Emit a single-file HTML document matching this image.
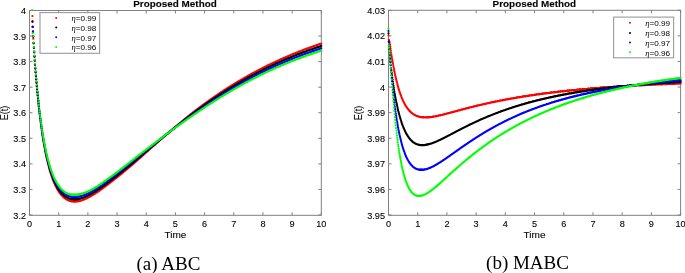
<!DOCTYPE html>
<html><head><meta charset="utf-8"><style>
html,body{margin:0;padding:0;background:#fff;width:685px;height:273px;overflow:hidden}
svg{display:block;will-change:transform}
</style></head><body>
<svg width="685" height="273" viewBox="0 0 685 273"><style>text{stroke:#000;stroke-width:0.15;stroke-opacity:0.6}text.cap,text.leg{stroke:none}</style>
<rect width="685" height="273" fill="#fff"/>
<defs><clipPath id="cl"><rect x="28.0" y="9.0" width="294.8" height="207.5"/></clipPath><clipPath id="cr"><rect x="387.0" y="8.8" width="295.1" height="207.7"/></clipPath></defs>
<rect x="29.5" y="10.5" width="291.80" height="204.80" fill="none" stroke="#808080" stroke-width="1.0"/>
<path d="M29.50 215.30v-3.0M29.50 10.50v3.0M58.68 215.30v-3.0M58.68 10.50v3.0M87.86 215.30v-3.0M87.86 10.50v3.0M117.04 215.30v-3.0M117.04 10.50v3.0M146.22 215.30v-3.0M146.22 10.50v3.0M175.40 215.30v-3.0M175.40 10.50v3.0M204.58 215.30v-3.0M204.58 10.50v3.0M233.76 215.30v-3.0M233.76 10.50v3.0M262.94 215.30v-3.0M262.94 10.50v3.0M292.12 215.30v-3.0M292.12 10.50v3.0M321.30 215.30v-3.0M321.30 10.50v3.0M29.50 215.00h3.0M321.30 215.00h-3.0M29.50 189.44h3.0M321.30 189.44h-3.0M29.50 163.88h3.0M321.30 163.88h-3.0M29.50 138.31h3.0M321.30 138.31h-3.0M29.50 112.75h3.0M321.30 112.75h-3.0M29.50 87.19h3.0M321.30 87.19h-3.0M29.50 61.63h3.0M321.30 61.63h-3.0M29.50 36.06h3.0M321.30 36.06h-3.0M29.50 10.50h3.0M321.30 10.50h-3.0" stroke="#808080" stroke-width="1.0" fill="none"/>
<text transform="translate(29.50,226.90) scale(1.09,1)" font-size="8.4" font-weight="normal" text-anchor="middle" font-family='"Liberation Sans", sans-serif' >0</text>
<text transform="translate(58.68,226.90) scale(1.09,1)" font-size="8.4" font-weight="normal" text-anchor="middle" font-family='"Liberation Sans", sans-serif' >1</text>
<text transform="translate(87.86,226.90) scale(1.09,1)" font-size="8.4" font-weight="normal" text-anchor="middle" font-family='"Liberation Sans", sans-serif' >2</text>
<text transform="translate(117.04,226.90) scale(1.09,1)" font-size="8.4" font-weight="normal" text-anchor="middle" font-family='"Liberation Sans", sans-serif' >3</text>
<text transform="translate(146.22,226.90) scale(1.09,1)" font-size="8.4" font-weight="normal" text-anchor="middle" font-family='"Liberation Sans", sans-serif' >4</text>
<text transform="translate(175.40,226.90) scale(1.09,1)" font-size="8.4" font-weight="normal" text-anchor="middle" font-family='"Liberation Sans", sans-serif' >5</text>
<text transform="translate(204.58,226.90) scale(1.09,1)" font-size="8.4" font-weight="normal" text-anchor="middle" font-family='"Liberation Sans", sans-serif' >6</text>
<text transform="translate(233.76,226.90) scale(1.09,1)" font-size="8.4" font-weight="normal" text-anchor="middle" font-family='"Liberation Sans", sans-serif' >7</text>
<text transform="translate(262.94,226.90) scale(1.09,1)" font-size="8.4" font-weight="normal" text-anchor="middle" font-family='"Liberation Sans", sans-serif' >8</text>
<text transform="translate(292.12,226.90) scale(1.09,1)" font-size="8.4" font-weight="normal" text-anchor="middle" font-family='"Liberation Sans", sans-serif' >9</text>
<text transform="translate(321.30,226.90) scale(1.09,1)" font-size="8.4" font-weight="normal" text-anchor="middle" font-family='"Liberation Sans", sans-serif' >10</text>
<text transform="translate(26.00,218.50) scale(1.09,1)" font-size="8.4" font-weight="normal" text-anchor="end" font-family='"Liberation Sans", sans-serif' >3.2</text>
<text transform="translate(26.00,192.94) scale(1.09,1)" font-size="8.4" font-weight="normal" text-anchor="end" font-family='"Liberation Sans", sans-serif' >3.3</text>
<text transform="translate(26.00,167.38) scale(1.09,1)" font-size="8.4" font-weight="normal" text-anchor="end" font-family='"Liberation Sans", sans-serif' >3.4</text>
<text transform="translate(26.00,141.81) scale(1.09,1)" font-size="8.4" font-weight="normal" text-anchor="end" font-family='"Liberation Sans", sans-serif' >3.5</text>
<text transform="translate(26.00,116.25) scale(1.09,1)" font-size="8.4" font-weight="normal" text-anchor="end" font-family='"Liberation Sans", sans-serif' >3.6</text>
<text transform="translate(26.00,90.69) scale(1.09,1)" font-size="8.4" font-weight="normal" text-anchor="end" font-family='"Liberation Sans", sans-serif' >3.7</text>
<text transform="translate(26.00,65.13) scale(1.09,1)" font-size="8.4" font-weight="normal" text-anchor="end" font-family='"Liberation Sans", sans-serif' >3.8</text>
<text transform="translate(26.00,39.56) scale(1.09,1)" font-size="8.4" font-weight="normal" text-anchor="end" font-family='"Liberation Sans", sans-serif' >3.9</text>
<text transform="translate(26.00,14.00) scale(1.09,1)" font-size="8.4" font-weight="normal" text-anchor="end" font-family='"Liberation Sans", sans-serif' >4</text>
<rect x="388.5" y="10.3" width="292.10" height="205.00" fill="none" stroke="#808080" stroke-width="1.0"/>
<path d="M388.50 215.30v-3.0M388.50 10.30v3.0M417.71 215.30v-3.0M417.71 10.30v3.0M446.92 215.30v-3.0M446.92 10.30v3.0M476.13 215.30v-3.0M476.13 10.30v3.0M505.34 215.30v-3.0M505.34 10.30v3.0M534.55 215.30v-3.0M534.55 10.30v3.0M563.76 215.30v-3.0M563.76 10.30v3.0M592.97 215.30v-3.0M592.97 10.30v3.0M622.18 215.30v-3.0M622.18 10.30v3.0M651.39 215.30v-3.0M651.39 10.30v3.0M680.60 215.30v-3.0M680.60 10.30v3.0M388.50 215.00h3.0M680.60 215.00h-3.0M388.50 189.41h3.0M680.60 189.41h-3.0M388.50 163.83h3.0M680.60 163.83h-3.0M388.50 138.24h3.0M680.60 138.24h-3.0M388.50 112.65h3.0M680.60 112.65h-3.0M388.50 87.06h3.0M680.60 87.06h-3.0M388.50 61.48h3.0M680.60 61.48h-3.0M388.50 35.89h3.0M680.60 35.89h-3.0M388.50 10.30h3.0M680.60 10.30h-3.0" stroke="#808080" stroke-width="1.0" fill="none"/>
<text transform="translate(388.50,226.90) scale(1.09,1)" font-size="8.4" font-weight="normal" text-anchor="middle" font-family='"Liberation Sans", sans-serif' >0</text>
<text transform="translate(417.71,226.90) scale(1.09,1)" font-size="8.4" font-weight="normal" text-anchor="middle" font-family='"Liberation Sans", sans-serif' >1</text>
<text transform="translate(446.92,226.90) scale(1.09,1)" font-size="8.4" font-weight="normal" text-anchor="middle" font-family='"Liberation Sans", sans-serif' >2</text>
<text transform="translate(476.13,226.90) scale(1.09,1)" font-size="8.4" font-weight="normal" text-anchor="middle" font-family='"Liberation Sans", sans-serif' >3</text>
<text transform="translate(505.34,226.90) scale(1.09,1)" font-size="8.4" font-weight="normal" text-anchor="middle" font-family='"Liberation Sans", sans-serif' >4</text>
<text transform="translate(534.55,226.90) scale(1.09,1)" font-size="8.4" font-weight="normal" text-anchor="middle" font-family='"Liberation Sans", sans-serif' >5</text>
<text transform="translate(563.76,226.90) scale(1.09,1)" font-size="8.4" font-weight="normal" text-anchor="middle" font-family='"Liberation Sans", sans-serif' >6</text>
<text transform="translate(592.97,226.90) scale(1.09,1)" font-size="8.4" font-weight="normal" text-anchor="middle" font-family='"Liberation Sans", sans-serif' >7</text>
<text transform="translate(622.18,226.90) scale(1.09,1)" font-size="8.4" font-weight="normal" text-anchor="middle" font-family='"Liberation Sans", sans-serif' >8</text>
<text transform="translate(651.39,226.90) scale(1.09,1)" font-size="8.4" font-weight="normal" text-anchor="middle" font-family='"Liberation Sans", sans-serif' >9</text>
<text transform="translate(680.60,226.90) scale(1.09,1)" font-size="8.4" font-weight="normal" text-anchor="middle" font-family='"Liberation Sans", sans-serif' >10</text>
<text transform="translate(385.00,218.50) scale(1.09,1)" font-size="8.4" font-weight="normal" text-anchor="end" font-family='"Liberation Sans", sans-serif' >3.95</text>
<text transform="translate(385.00,192.91) scale(1.09,1)" font-size="8.4" font-weight="normal" text-anchor="end" font-family='"Liberation Sans", sans-serif' >3.96</text>
<text transform="translate(385.00,167.33) scale(1.09,1)" font-size="8.4" font-weight="normal" text-anchor="end" font-family='"Liberation Sans", sans-serif' >3.97</text>
<text transform="translate(385.00,141.74) scale(1.09,1)" font-size="8.4" font-weight="normal" text-anchor="end" font-family='"Liberation Sans", sans-serif' >3.98</text>
<text transform="translate(385.00,116.15) scale(1.09,1)" font-size="8.4" font-weight="normal" text-anchor="end" font-family='"Liberation Sans", sans-serif' >3.99</text>
<text transform="translate(385.00,90.56) scale(1.09,1)" font-size="8.4" font-weight="normal" text-anchor="end" font-family='"Liberation Sans", sans-serif' >4</text>
<text transform="translate(385.00,64.98) scale(1.09,1)" font-size="8.4" font-weight="normal" text-anchor="end" font-family='"Liberation Sans", sans-serif' >4.01</text>
<text transform="translate(385.00,39.39) scale(1.09,1)" font-size="8.4" font-weight="normal" text-anchor="end" font-family='"Liberation Sans", sans-serif' >4.02</text>
<text transform="translate(385.00,13.80) scale(1.09,1)" font-size="8.4" font-weight="normal" text-anchor="end" font-family='"Liberation Sans", sans-serif' >4.03</text>
<g clip-path="url(#cl)">
<path d="M32.4 16.0h0M32.6 21.4h0M32.8 26.6h0M33.0 31.6h0M33.3 36.4h0M33.3 38.7h0M33.6 43.4h0M33.9 48.0h0M34.2 52.5h0M34.5 56.8h0M34.8 60.9h0M35.0 64.9h0M35.3 68.8h0M35.6 72.6h0M35.9 76.2h0M36.2 79.7h0M36.5 83.1h0M36.8 86.5h0M37.1 89.7h0M37.4 92.8h0M37.7 95.8h0M38.0 98.8h0M38.3 101.6h0M38.5 104.4h0M38.8 107.1h0M39.1 109.7h0M39.4 112.3h0M39.7 114.7h0M40.0 117.2h0M40.3 119.5h0M40.6 121.8h0M40.9 124.0h0M41.2 126.2h0M41.5 128.3h0M41.8 130.3h0M42.0 132.3h0M42.3 134.3h0M42.6 136.2h0M42.9 138.0h0M43.2 139.8h0M43.5 141.6h0M43.8 143.3h0M44.1 145.0h0M44.4 146.6h0M44.7 148.2h0M45.0 149.7h0M45.3 151.2h0M45.5 152.7h0M45.8 154.1h0M46.1 155.5h0M46.4 156.9h0M46.7 158.2h0M47.0 159.5h0M47.3 160.8h0M47.6 162.0h0M47.9 163.2h0M48.2 164.4h0M48.5 165.6h0M48.8 166.7h0M49.1 167.8h0M49.3 168.8h0M49.6 169.9h0M49.9 170.9h0M50.2 171.9h0M50.5 172.8h0M50.8 173.8h0M51.1 174.7h0M51.4 175.6h0M51.7 176.4h0M52.0 177.3h0M52.3 178.1h0M52.6 178.9h0M52.8 179.7h0M53.1 180.5h0M53.4 181.2h0M53.7 181.9h0M54.0 182.6h0M54.3 183.3h0M54.6 184.0h0M54.9 184.6h0M55.2 185.2h0M55.5 185.9h0M55.8 186.4h0M56.1 187.0h0M56.3 187.6h0M56.6 188.1h0M56.9 188.7h0M57.2 189.2h0M57.5 189.7h0M57.8 190.2h0M58.1 190.6h0M58.4 191.1h0M58.7 191.5h0M59.0 192.0h0M59.3 192.4h0M59.6 192.8h0M59.8 193.2h0M60.1 193.6h0M60.4 193.9h0M60.7 194.3h0M61.0 194.7h0M61.3 195.0h0M61.6 195.3h0M61.9 195.6h0M62.2 195.9h0M62.5 196.2h0M62.8 196.5h0M63.1 196.8h0M63.3 197.1h0M63.6 197.3h0M63.9 197.6h0M64.2 197.8h0M64.5 198.1h0M64.8 198.3h0M65.1 198.5h0M65.4 198.7h0M65.7 198.9h0M66.0 199.1h0M66.3 199.3h0M66.6 199.4h0M66.9 199.6h0M67.1 199.8h0M67.4 199.9h0M67.7 200.1h0M68.0 200.2h0M68.3 200.3h0M68.6 200.5h0M68.9 200.6h0M69.2 200.7h0M69.5 200.8h0M69.8 200.9h0M70.1 201.0h0M70.4 201.1h0M70.6 201.2h0M70.9 201.2h0M71.2 201.3h0M71.5 201.4h0M71.8 201.4h0M72.1 201.5h0M72.4 201.5h0M72.7 201.5h0M73.0 201.6h0M73.3 201.6h0M73.6 201.6h0M73.9 201.6h0M74.1 201.6h0M74.4 201.6h0M74.7 201.6h0M75.0 201.6h0M75.3 201.6h0M75.6 201.6h0M75.9 201.6h0M76.2 201.6h0M76.5 201.5h0M76.8 201.5h0M77.1 201.5h0M77.4 201.4h0M77.6 201.4h0M77.9 201.3h0M78.2 201.3h0M78.5 201.2h0M78.8 201.2h0M79.1 201.1h0M79.4 201.0h0M79.7 201.0h0M80.0 200.9h0M80.3 200.8h0M80.6 200.7h0M80.9 200.6h0M81.1 200.6h0M81.4 200.5h0M81.7 200.4h0M82.0 200.3h0M82.3 200.2h0M82.6 200.1h0M82.9 200.0h0M83.2 199.9h0M83.5 199.7h0M83.8 199.6h0M84.1 199.5h0M84.4 199.4h0M84.7 199.3h0M84.9 199.1h0M85.2 199.0h0M85.5 198.9h0M85.8 198.8h0M86.1 198.6h0M86.4 198.5h0M86.7 198.4h0M87.0 198.2h0M87.3 198.1h0M87.6 197.9h0M87.9 197.8h0M88.2 197.6h0M88.4 197.5h0M88.7 197.3h0M89.0 197.2h0M89.3 197.0h0M89.6 196.9h0M89.9 196.7h0M90.2 196.5h0M90.5 196.4h0M90.8 196.2h0M91.1 196.1h0M91.4 195.9h0M91.7 195.7h0M91.9 195.6h0M92.2 195.4h0M92.5 195.2h0M92.8 195.0h0M93.1 194.9h0M93.4 194.7h0M93.7 194.5h0M94.0 194.3h0M94.3 194.2h0M94.6 194.0h0M94.9 193.8h0M95.2 193.6h0M95.4 193.4h0M95.7 193.2h0M96.0 193.0h0M96.3 192.8h0M96.6 192.7h0M96.9 192.5h0M97.2 192.3h0M97.5 192.1h0M97.8 191.9h0M98.1 191.7h0M98.4 191.5h0M98.7 191.3h0M98.9 191.1h0M99.2 190.9h0M99.5 190.7h0M99.8 190.5h0M100.1 190.3h0M100.4 190.0h0M100.7 189.8h0M101.0 189.6h0M101.3 189.4h0M101.6 189.2h0M101.9 189.0h0M102.2 188.8h0M102.5 188.6h0M102.7 188.3h0M103.0 188.1h0M103.3 187.9h0M103.6 187.7h0M103.9 187.5h0M104.2 187.3h0M104.5 187.0h0M104.8 186.8h0M105.1 186.6h0M105.4 186.4h0M105.7 186.2h0M106.0 185.9h0M106.2 185.7h0M106.5 185.5h0M106.8 185.3h0M107.1 185.1h0M107.4 184.8h0M107.7 184.6h0M108.0 184.4h0M108.3 184.2h0M108.6 183.9h0M108.9 183.7h0M109.2 183.5h0M109.5 183.3h0M109.7 183.1h0M110.0 182.8h0M110.3 182.6h0M110.6 182.4h0M110.9 182.2h0M111.2 181.9h0M111.5 181.7h0M111.8 181.5h0M112.1 181.3h0M112.4 181.0h0M112.7 180.8h0M113.0 180.6h0M113.2 180.4h0M113.5 180.1h0M113.8 179.9h0M114.1 179.7h0M114.4 179.5h0M114.7 179.2h0M115.0 179.0h0M115.3 178.8h0M115.6 178.5h0M115.9 178.3h0M116.2 178.1h0M116.5 177.8h0M116.7 177.6h0M117.0 177.4h0M117.3 177.1h0M117.6 176.9h0M117.9 176.7h0M118.2 176.4h0M118.5 176.2h0M118.8 176.0h0M119.1 175.7h0M119.4 175.5h0M119.7 175.3h0M120.0 175.0h0M120.2 174.8h0M120.5 174.6h0M120.8 174.3h0M121.1 174.1h0M121.4 173.8h0M121.7 173.6h0M122.0 173.4h0M122.3 173.1h0M122.6 172.9h0M122.9 172.6h0M123.2 172.4h0M123.5 172.2h0M123.8 171.9h0M124.0 171.7h0M124.3 171.4h0M124.6 171.2h0M124.9 171.0h0M125.2 170.7h0M125.5 170.5h0M125.8 170.2h0M126.1 170.0h0M126.4 169.7h0M126.7 169.5h0M127.0 169.3h0M127.3 169.0h0M127.5 168.8h0M127.8 168.5h0M128.1 168.3h0M128.4 168.0h0M128.7 167.8h0M129.0 167.5h0M129.3 167.3h0M129.6 167.0h0M129.9 166.8h0M130.2 166.6h0M130.5 166.3h0M130.8 166.1h0M131.0 165.8h0M131.3 165.6h0M131.6 165.3h0M131.9 165.1h0M132.2 164.8h0M132.5 164.6h0M132.8 164.3h0M133.1 164.1h0M133.4 163.8h0M133.7 163.6h0M134.0 163.3h0M134.3 163.1h0M134.5 162.8h0M134.8 162.6h0M135.1 162.3h0M135.4 162.1h0M135.7 161.8h0M136.0 161.5h0M136.3 161.3h0M136.6 161.0h0M136.9 160.8h0M137.2 160.5h0M137.5 160.3h0M137.8 160.0h0M138.0 159.8h0M138.3 159.5h0M138.6 159.2h0M138.9 159.0h0M139.2 158.7h0M139.5 158.5h0M139.8 158.2h0M140.1 157.9h0M140.4 157.7h0M140.7 157.4h0M141.0 157.2h0M141.3 156.9h0M141.6 156.6h0M141.8 156.4h0M142.1 156.1h0M142.4 155.8h0M142.7 155.6h0M143.0 155.3h0M143.3 155.1h0M143.6 154.8h0M143.9 154.5h0M144.2 154.3h0M144.5 154.0h0M144.8 153.7h0M145.1 153.5h0M145.3 153.2h0M145.6 153.0h0M145.9 152.7h0M146.2 152.4h0M146.5 152.2h0M146.8 151.9h0M147.1 151.6h0M147.4 151.4h0M147.7 151.1h0M148.0 150.9h0M148.3 150.6h0M148.6 150.3h0M148.8 150.1h0M149.1 149.8h0M149.4 149.5h0M149.7 149.3h0M150.0 149.0h0M150.3 148.8h0M150.6 148.5h0M150.9 148.2h0M151.2 148.0h0M151.5 147.7h0M151.8 147.5h0M152.1 147.2h0M152.3 146.9h0M152.6 146.7h0M152.9 146.4h0M153.2 146.2h0M153.5 145.9h0M153.8 145.7h0M154.1 145.4h0M154.4 145.1h0M154.7 144.9h0M155.0 144.6h0M155.3 144.4h0M155.6 144.1h0M155.8 143.9h0M156.1 143.6h0M156.4 143.3h0M156.7 143.1h0M157.0 142.8h0M157.3 142.6h0M157.6 142.3h0M157.9 142.1h0M158.2 141.8h0M158.5 141.5h0M158.8 141.3h0M159.1 141.0h0M159.4 140.8h0M159.6 140.5h0M159.9 140.3h0M160.2 140.0h0M160.5 139.8h0M160.8 139.5h0M161.1 139.3h0M161.4 139.0h0M161.7 138.7h0M162.0 138.5h0M162.3 138.2h0M162.6 138.0h0M162.9 137.7h0M163.1 137.5h0M163.4 137.2h0M163.7 137.0h0M164.0 136.7h0M164.3 136.5h0M164.6 136.2h0M164.9 136.0h0M165.2 135.7h0M165.5 135.5h0M165.8 135.2h0M166.1 135.0h0M166.4 134.7h0M166.6 134.5h0M166.9 134.2h0M167.2 134.0h0M167.5 133.7h0M167.8 133.5h0M168.1 133.2h0M168.4 133.0h0M168.7 132.7h0M169.0 132.5h0M169.3 132.2h0M169.6 132.0h0M169.9 131.7h0M170.1 131.5h0M170.4 131.2h0M170.7 131.0h0M171.0 130.7h0M171.3 130.5h0M171.6 130.2h0M171.9 130.0h0M172.2 129.7h0M172.5 129.5h0M172.8 129.2h0M173.1 129.0h0M173.4 128.7h0M173.6 128.5h0M173.9 128.2h0M174.2 128.0h0M174.5 127.7h0M174.8 127.5h0M175.1 127.2h0M175.4 127.0h0M175.7 126.7h0M176.0 126.5h0M176.3 126.2h0M176.6 126.0h0M176.9 125.8h0M177.2 125.5h0M177.4 125.3h0M177.7 125.0h0M178.0 124.8h0M178.3 124.5h0M178.6 124.3h0M178.9 124.0h0M179.2 123.8h0M179.5 123.5h0M179.8 123.3h0M180.1 123.1h0M180.4 122.8h0M180.7 122.6h0M180.9 122.3h0M181.2 122.1h0M181.5 121.8h0M181.8 121.6h0M182.1 121.4h0M182.4 121.1h0M182.7 120.9h0M183.0 120.6h0M183.3 120.4h0M183.6 120.1h0M183.9 119.9h0M184.2 119.7h0M184.4 119.4h0M184.7 119.2h0M185.0 118.9h0M185.3 118.7h0M185.6 118.5h0M185.9 118.2h0M186.2 118.0h0M186.5 117.8h0M186.8 117.5h0M187.1 117.3h0M187.4 117.0h0M187.7 116.8h0M187.9 116.6h0M188.2 116.3h0M188.5 116.1h0M188.8 115.9h0M189.1 115.6h0M189.4 115.4h0M189.7 115.2h0M190.0 114.9h0M190.3 114.7h0M190.6 114.5h0M190.9 114.2h0M191.2 114.0h0M191.4 113.8h0M191.7 113.5h0M192.0 113.3h0M192.3 113.1h0M192.6 112.8h0M192.9 112.6h0M193.2 112.4h0M193.5 112.2h0M193.8 111.9h0M194.1 111.7h0M194.4 111.5h0M194.7 111.2h0M195.0 111.0h0M195.2 110.8h0M195.5 110.6h0M195.8 110.3h0M196.1 110.1h0M196.4 109.9h0M196.7 109.7h0M197.0 109.5h0M197.3 109.2h0M197.6 109.0h0M197.9 108.8h0M198.2 108.6h0M198.5 108.3h0M198.7 108.1h0M199.0 107.9h0M199.3 107.7h0M199.6 107.5h0M199.9 107.3h0M200.2 107.0h0M200.5 106.8h0M200.8 106.6h0M201.1 106.4h0M201.4 106.2h0M201.7 106.0h0M202.0 105.7h0M202.2 105.5h0M202.5 105.3h0M202.8 105.1h0M203.1 104.9h0M203.4 104.7h0M203.7 104.4h0M204.0 104.2h0M204.3 104.0h0M204.6 103.8h0M204.9 103.6h0M205.2 103.4h0M205.5 103.2h0M205.7 103.0h0M206.0 102.8h0M206.3 102.5h0M206.6 102.3h0M206.9 102.1h0M207.2 101.9h0M207.5 101.7h0M207.8 101.5h0M208.1 101.3h0M208.4 101.1h0M208.7 100.9h0M209.0 100.7h0M209.2 100.5h0M209.5 100.2h0M209.8 100.0h0M210.1 99.8h0M210.4 99.6h0M210.7 99.4h0M211.0 99.2h0M211.3 99.0h0M211.6 98.8h0M211.9 98.6h0M212.2 98.4h0M212.5 98.2h0M212.8 98.0h0M213.0 97.8h0M213.3 97.6h0M213.6 97.4h0M213.9 97.2h0M214.2 97.0h0M214.5 96.8h0M214.8 96.6h0M215.1 96.4h0M215.4 96.2h0M215.7 96.0h0M216.0 95.8h0M216.3 95.6h0M216.5 95.4h0M216.8 95.2h0M217.1 95.0h0M217.4 94.8h0M217.7 94.6h0M218.0 94.4h0M218.3 94.2h0M218.6 94.0h0M218.9 93.8h0M219.2 93.6h0M219.5 93.4h0M219.8 93.2h0M220.0 93.0h0M220.3 92.8h0M220.6 92.6h0M220.9 92.4h0M221.2 92.2h0M221.5 92.0h0M221.8 91.8h0M222.1 91.7h0M222.4 91.5h0M222.7 91.3h0M223.0 91.1h0M223.3 90.9h0M223.5 90.7h0M223.8 90.5h0M224.1 90.3h0M224.4 90.1h0M224.7 89.9h0M225.0 89.7h0M225.3 89.6h0M225.6 89.4h0M225.9 89.2h0M226.2 89.0h0M226.5 88.8h0M226.8 88.6h0M227.0 88.4h0M227.3 88.2h0M227.6 88.1h0M227.9 87.9h0M228.2 87.7h0M228.5 87.5h0M228.8 87.3h0M229.1 87.1h0M229.4 86.9h0M229.7 86.8h0M230.0 86.6h0M230.3 86.4h0M230.6 86.2h0M230.8 86.0h0M231.1 85.8h0M231.4 85.7h0M231.7 85.5h0M232.0 85.3h0M232.3 85.1h0M232.6 84.9h0M232.9 84.8h0M233.2 84.6h0M233.5 84.4h0M233.8 84.2h0M234.1 84.0h0M234.3 83.9h0M234.6 83.7h0M234.9 83.5h0M235.2 83.3h0M235.5 83.1h0M235.8 83.0h0M236.1 82.8h0M236.4 82.6h0M236.7 82.4h0M237.0 82.3h0M237.3 82.1h0M237.6 81.9h0M237.8 81.7h0M238.1 81.6h0M238.4 81.4h0M238.7 81.2h0M239.0 81.0h0M239.3 80.9h0M239.6 80.7h0M239.9 80.5h0M240.2 80.3h0M240.5 80.2h0M240.8 80.0h0M241.1 79.8h0M241.3 79.7h0M241.6 79.5h0M241.9 79.3h0M242.2 79.1h0M242.5 79.0h0M242.8 78.8h0M243.1 78.6h0M243.4 78.5h0M243.7 78.3h0M244.0 78.1h0M244.3 78.0h0M244.6 77.8h0M244.8 77.6h0M245.1 77.5h0M245.4 77.3h0M245.7 77.1h0M246.0 77.0h0M246.3 76.8h0M246.6 76.6h0M246.9 76.5h0M247.2 76.3h0M247.5 76.1h0M247.8 76.0h0M248.1 75.8h0M248.3 75.6h0M248.6 75.5h0M248.9 75.3h0M249.2 75.2h0M249.5 75.0h0M249.8 74.8h0M250.1 74.7h0M250.4 74.5h0M250.7 74.4h0M251.0 74.2h0M251.3 74.0h0M251.6 73.9h0M251.9 73.7h0M252.1 73.6h0M252.4 73.4h0M252.7 73.2h0M253.0 73.1h0M253.3 72.9h0M253.6 72.8h0M253.9 72.6h0M254.2 72.4h0M254.5 72.3h0M254.8 72.1h0M255.1 72.0h0M255.4 71.8h0M255.6 71.7h0M255.9 71.5h0M256.2 71.4h0M256.5 71.2h0M256.8 71.0h0M257.1 70.9h0M257.4 70.7h0M257.7 70.6h0M258.0 70.4h0M258.3 70.3h0M258.6 70.1h0M258.9 70.0h0M259.1 69.8h0M259.4 69.7h0M259.7 69.5h0M260.0 69.4h0M260.3 69.2h0M260.6 69.1h0M260.9 68.9h0M261.2 68.8h0M261.5 68.6h0M261.8 68.5h0M262.1 68.3h0M262.4 68.2h0M262.6 68.0h0M262.9 67.9h0M263.2 67.7h0M263.5 67.6h0M263.8 67.4h0M264.1 67.3h0M264.4 67.1h0M264.7 67.0h0M265.0 66.8h0M265.3 66.7h0M265.6 66.5h0M265.9 66.4h0M266.1 66.3h0M266.4 66.1h0M266.7 66.0h0M267.0 65.8h0M267.3 65.7h0M267.6 65.5h0M267.9 65.4h0M268.2 65.2h0M268.5 65.1h0M268.8 65.0h0M269.1 64.8h0M269.4 64.7h0M269.7 64.5h0M269.9 64.4h0M270.2 64.3h0M270.5 64.1h0M270.8 64.0h0M271.1 63.8h0M271.4 63.7h0M271.7 63.5h0M272.0 63.4h0M272.3 63.3h0M272.6 63.1h0M272.9 63.0h0M273.2 62.9h0M273.4 62.7h0M273.7 62.6h0M274.0 62.4h0M274.3 62.3h0M274.6 62.2h0M274.9 62.0h0M275.2 61.9h0M275.5 61.8h0M275.8 61.6h0M276.1 61.5h0M276.4 61.3h0M276.7 61.2h0M276.9 61.1h0M277.2 60.9h0M277.5 60.8h0M277.8 60.7h0M278.1 60.5h0M278.4 60.4h0M278.7 60.3h0M279.0 60.1h0M279.3 60.0h0M279.6 59.9h0M279.9 59.7h0M280.2 59.6h0M280.4 59.5h0M280.7 59.4h0M281.0 59.2h0M281.3 59.1h0M281.6 59.0h0M281.9 58.8h0M282.2 58.7h0M282.5 58.6h0M282.8 58.4h0M283.1 58.3h0M283.4 58.2h0M283.7 58.1h0M283.9 57.9h0M284.2 57.8h0M284.5 57.7h0M284.8 57.5h0M285.1 57.4h0M285.4 57.3h0M285.7 57.2h0M286.0 57.0h0M286.3 56.9h0M286.6 56.8h0M286.9 56.7h0M287.2 56.5h0M287.5 56.4h0M287.7 56.3h0M288.0 56.2h0M288.3 56.0h0M288.6 55.9h0M288.9 55.8h0M289.2 55.7h0M289.5 55.5h0M289.8 55.4h0M290.1 55.3h0M290.4 55.2h0M290.7 55.0h0M291.0 54.9h0M291.2 54.8h0M291.5 54.7h0M291.8 54.6h0M292.1 54.4h0M292.4 54.3h0M292.7 54.2h0M293.0 54.1h0M293.3 54.0h0M293.6 53.8h0M293.9 53.7h0M294.2 53.6h0M294.5 53.5h0M294.7 53.4h0M295.0 53.3h0M295.3 53.1h0M295.6 53.0h0M295.9 52.9h0M296.2 52.8h0M296.5 52.7h0M296.8 52.5h0M297.1 52.4h0M297.4 52.3h0M297.7 52.2h0M298.0 52.1h0M298.2 52.0h0M298.5 51.9h0M298.8 51.7h0M299.1 51.6h0M299.4 51.5h0M299.7 51.4h0M300.0 51.3h0M300.3 51.2h0M300.6 51.1h0M300.9 50.9h0M301.2 50.8h0M301.5 50.7h0M301.7 50.6h0M302.0 50.5h0M302.3 50.4h0M302.6 50.3h0M302.9 50.2h0M303.2 50.1h0M303.5 49.9h0M303.8 49.8h0M304.1 49.7h0M304.4 49.6h0M304.7 49.5h0M305.0 49.4h0M305.3 49.3h0M305.5 49.2h0M305.8 49.1h0M306.1 49.0h0M306.4 48.9h0M306.7 48.7h0M307.0 48.6h0M307.3 48.5h0M307.6 48.4h0M307.9 48.3h0M308.2 48.2h0M308.5 48.1h0M308.8 48.0h0M309.0 47.9h0M309.3 47.8h0M309.6 47.7h0M309.9 47.6h0M310.2 47.5h0M310.5 47.4h0M310.8 47.3h0M311.1 47.2h0M311.4 47.1h0M311.7 46.9h0M312.0 46.8h0M312.3 46.7h0M312.5 46.6h0M312.8 46.5h0M313.1 46.4h0M313.4 46.3h0M313.7 46.2h0M314.0 46.1h0M314.3 46.0h0M314.6 45.9h0M314.9 45.8h0M315.2 45.7h0M315.5 45.6h0M315.8 45.5h0M316.0 45.4h0M316.3 45.3h0M316.6 45.2h0M316.9 45.1h0M317.2 45.0h0M317.5 44.9h0M317.8 44.8h0M318.1 44.7h0M318.4 44.6h0M318.7 44.5h0M319.0 44.4h0M319.3 44.3h0M319.5 44.2h0M319.8 44.2h0M320.1 44.1h0M320.4 44.0h0M320.7 43.9h0M321.0 43.8h0M321.3 43.7h0" stroke="#ff0000" stroke-width="2.2" stroke-linecap="round" fill="none"/>
<path d="M32.4 21.7h0M32.7 27.0h0M32.9 32.0h0M33.2 36.6h0M33.6 43.1h0M33.9 47.7h0M34.2 52.1h0M34.5 56.4h0M34.8 60.5h0M35.0 64.5h0M35.3 68.3h0M35.6 72.1h0M35.9 75.7h0M36.2 79.2h0M36.5 82.6h0M36.8 85.9h0M37.1 89.1h0M37.4 92.2h0M37.7 95.2h0M38.0 98.1h0M38.3 100.9h0M38.5 103.7h0M38.8 106.4h0M39.1 109.0h0M39.4 111.5h0M39.7 114.0h0M40.0 116.4h0M40.3 118.7h0M40.6 121.0h0M40.9 123.2h0M41.2 125.3h0M41.5 127.4h0M41.8 129.4h0M42.0 131.4h0M42.3 133.3h0M42.6 135.2h0M42.9 137.0h0M43.2 138.8h0M43.5 140.6h0M43.8 142.3h0M44.1 143.9h0M44.4 145.5h0M44.7 147.1h0M45.0 148.6h0M45.3 150.1h0M45.5 151.5h0M45.8 153.0h0M46.1 154.3h0M46.4 155.7h0M46.7 157.0h0M47.0 158.3h0M47.3 159.5h0M47.6 160.7h0M47.9 161.9h0M48.2 163.1h0M48.5 164.2h0M48.8 165.3h0M49.1 166.4h0M49.3 167.4h0M49.6 168.5h0M49.9 169.4h0M50.2 170.4h0M50.5 171.4h0M50.8 172.3h0M51.1 173.2h0M51.4 174.0h0M51.7 174.9h0M52.0 175.7h0M52.3 176.5h0M52.6 177.3h0M52.8 178.1h0M53.1 178.8h0M53.4 179.5h0M53.7 180.3h0M54.0 180.9h0M54.3 181.6h0M54.6 182.3h0M54.9 182.9h0M55.2 183.5h0M55.5 184.1h0M55.8 184.7h0M56.1 185.2h0M56.3 185.8h0M56.6 186.3h0M56.9 186.8h0M57.2 187.3h0M57.5 187.8h0M57.8 188.3h0M58.1 188.8h0M58.4 189.2h0M58.7 189.6h0M59.0 190.1h0M59.3 190.5h0M59.6 190.9h0M59.8 191.3h0M60.1 191.6h0M60.4 192.0h0M60.7 192.3h0M61.0 192.7h0M61.3 193.0h0M61.6 193.3h0M61.9 193.6h0M62.2 193.9h0M62.5 194.2h0M62.8 194.5h0M63.1 194.8h0M63.3 195.0h0M63.6 195.3h0M63.9 195.5h0M64.2 195.7h0M64.5 196.0h0M64.8 196.2h0M65.1 196.4h0M65.4 196.6h0M65.7 196.8h0M66.0 197.0h0M66.3 197.1h0M66.6 197.3h0M66.9 197.5h0M67.1 197.6h0M67.4 197.8h0M67.7 197.9h0M68.0 198.0h0M68.3 198.1h0M68.6 198.3h0M68.9 198.4h0M69.2 198.5h0M69.5 198.6h0M69.8 198.7h0M70.1 198.8h0M70.4 198.8h0M70.6 198.9h0M70.9 199.0h0M71.2 199.0h0M71.5 199.1h0M71.8 199.1h0M72.1 199.2h0M72.4 199.2h0M72.7 199.3h0M73.0 199.3h0M73.3 199.3h0M73.6 199.3h0M73.9 199.4h0M74.1 199.4h0M74.4 199.4h0M74.7 199.4h0M75.0 199.4h0M75.3 199.4h0M75.6 199.3h0M75.9 199.3h0M76.2 199.3h0M76.5 199.3h0M76.8 199.2h0M77.1 199.2h0M77.4 199.2h0M77.6 199.1h0M77.9 199.1h0M78.2 199.0h0M78.5 199.0h0M78.8 198.9h0M79.1 198.9h0M79.4 198.8h0M79.7 198.7h0M80.0 198.6h0M80.3 198.6h0M80.6 198.5h0M80.9 198.4h0M81.1 198.3h0M81.4 198.2h0M81.7 198.1h0M82.0 198.1h0M82.3 198.0h0M82.6 197.9h0M82.9 197.8h0M83.2 197.7h0M83.5 197.5h0M83.8 197.4h0M84.1 197.3h0M84.4 197.2h0M84.7 197.1h0M84.9 197.0h0M85.2 196.9h0M85.5 196.7h0M85.8 196.6h0M86.1 196.5h0M86.4 196.3h0M86.7 196.2h0M87.0 196.1h0M87.3 195.9h0M87.6 195.8h0M87.9 195.7h0M88.2 195.5h0M88.4 195.4h0M88.7 195.2h0M89.0 195.1h0M89.3 194.9h0M89.6 194.8h0M89.9 194.6h0M90.2 194.5h0M90.5 194.3h0M90.8 194.1h0M91.1 194.0h0M91.4 193.8h0M91.7 193.7h0M91.9 193.5h0M92.2 193.3h0M92.5 193.2h0M92.8 193.0h0M93.1 192.8h0M93.4 192.7h0M93.7 192.5h0M94.0 192.3h0M94.3 192.1h0M94.6 192.0h0M94.9 191.8h0M95.2 191.6h0M95.4 191.4h0M95.7 191.2h0M96.0 191.0h0M96.3 190.9h0M96.6 190.7h0M96.9 190.5h0M97.2 190.3h0M97.5 190.1h0M97.8 189.9h0M98.1 189.7h0M98.4 189.5h0M98.7 189.3h0M98.9 189.1h0M99.2 188.9h0M99.5 188.7h0M99.8 188.5h0M100.1 188.3h0M100.4 188.1h0M100.7 187.9h0M101.0 187.7h0M101.3 187.5h0M101.6 187.3h0M101.9 187.1h0M102.2 186.9h0M102.5 186.7h0M102.7 186.4h0M103.0 186.2h0M103.3 186.0h0M103.6 185.8h0M103.9 185.6h0M104.2 185.4h0M104.5 185.2h0M104.8 184.9h0M105.1 184.7h0M105.4 184.5h0M105.7 184.3h0M106.0 184.1h0M106.2 183.9h0M106.5 183.6h0M106.8 183.4h0M107.1 183.2h0M107.4 183.0h0M107.7 182.8h0M108.0 182.6h0M108.3 182.3h0M108.6 182.1h0M108.9 181.9h0M109.2 181.7h0M109.5 181.5h0M109.7 181.2h0M110.0 181.0h0M110.3 180.8h0M110.6 180.6h0M110.9 180.4h0M111.2 180.1h0M111.5 179.9h0M111.8 179.7h0M112.1 179.5h0M112.4 179.3h0M112.7 179.0h0M113.0 178.8h0M113.2 178.6h0M113.5 178.4h0M113.8 178.1h0M114.1 177.9h0M114.4 177.7h0M114.7 177.5h0M115.0 177.3h0M115.3 177.0h0M115.6 176.8h0M115.9 176.6h0M116.2 176.3h0M116.5 176.1h0M116.7 175.9h0M117.0 175.7h0M117.3 175.4h0M117.6 175.2h0M117.9 175.0h0M118.2 174.7h0M118.5 174.5h0M118.8 174.3h0M119.1 174.1h0M119.4 173.8h0M119.7 173.6h0M120.0 173.4h0M120.2 173.1h0M120.5 172.9h0M120.8 172.7h0M121.1 172.4h0M121.4 172.2h0M121.7 172.0h0M122.0 171.7h0M122.3 171.5h0M122.6 171.3h0M122.9 171.0h0M123.2 170.8h0M123.5 170.5h0M123.8 170.3h0M124.0 170.1h0M124.3 169.8h0M124.6 169.6h0M124.9 169.4h0M125.2 169.1h0M125.5 168.9h0M125.8 168.6h0M126.1 168.4h0M126.4 168.2h0M126.7 167.9h0M127.0 167.7h0M127.3 167.5h0M127.5 167.2h0M127.8 167.0h0M128.1 166.7h0M128.4 166.5h0M128.7 166.3h0M129.0 166.0h0M129.3 165.8h0M129.6 165.5h0M129.9 165.3h0M130.2 165.0h0M130.5 164.8h0M130.8 164.6h0M131.0 164.3h0M131.3 164.1h0M131.6 163.8h0M131.9 163.6h0M132.2 163.4h0M132.5 163.1h0M132.8 162.9h0M133.1 162.6h0M133.4 162.4h0M133.7 162.1h0M134.0 161.9h0M134.3 161.6h0M134.5 161.4h0M134.8 161.2h0M135.1 160.9h0M135.4 160.7h0M135.7 160.4h0M136.0 160.2h0M136.3 159.9h0M136.6 159.7h0M136.9 159.4h0M137.2 159.2h0M137.5 158.9h0M137.8 158.7h0M138.0 158.5h0M138.3 158.2h0M138.6 158.0h0M138.9 157.7h0M139.2 157.5h0M139.5 157.2h0M139.8 157.0h0M140.1 156.7h0M140.4 156.5h0M140.7 156.2h0M141.0 156.0h0M141.3 155.7h0M141.6 155.5h0M141.8 155.2h0M142.1 155.0h0M142.4 154.7h0M142.7 154.5h0M143.0 154.2h0M143.3 154.0h0M143.6 153.7h0M143.9 153.5h0M144.2 153.2h0M144.5 153.0h0M144.8 152.7h0M145.1 152.5h0M145.3 152.2h0M145.6 152.0h0M145.9 151.7h0M146.2 151.5h0M146.5 151.2h0M146.8 151.0h0M147.1 150.7h0M147.4 150.5h0M147.7 150.3h0M148.0 150.0h0M148.3 149.8h0M148.6 149.5h0M148.8 149.3h0M149.1 149.0h0M149.4 148.8h0M149.7 148.5h0M150.0 148.3h0M150.3 148.0h0M150.6 147.8h0M150.9 147.5h0M151.2 147.3h0M151.5 147.0h0M151.8 146.8h0M152.1 146.5h0M152.3 146.3h0M152.6 146.0h0M152.9 145.8h0M153.2 145.5h0M153.5 145.3h0M153.8 145.1h0M154.1 144.8h0M154.4 144.6h0M154.7 144.3h0M155.0 144.1h0M155.3 143.8h0M155.6 143.6h0M155.8 143.3h0M156.1 143.1h0M156.4 142.8h0M156.7 142.6h0M157.0 142.4h0M157.3 142.1h0M157.6 141.9h0M157.9 141.6h0M158.2 141.4h0M158.5 141.1h0M158.8 140.9h0M159.1 140.6h0M159.4 140.4h0M159.6 140.2h0M159.9 139.9h0M160.2 139.7h0M160.5 139.4h0M160.8 139.2h0M161.1 138.9h0M161.4 138.7h0M161.7 138.5h0M162.0 138.2h0M162.3 138.0h0M162.6 137.7h0M162.9 137.5h0M163.1 137.2h0M163.4 137.0h0M163.7 136.8h0M164.0 136.5h0M164.3 136.3h0M164.6 136.0h0M164.9 135.8h0M165.2 135.5h0M165.5 135.3h0M165.8 135.1h0M166.1 134.8h0M166.4 134.6h0M166.6 134.3h0M166.9 134.1h0M167.2 133.9h0M167.5 133.6h0M167.8 133.4h0M168.1 133.1h0M168.4 132.9h0M168.7 132.7h0M169.0 132.4h0M169.3 132.2h0M169.6 132.0h0M169.9 131.7h0M170.1 131.5h0M170.4 131.2h0M170.7 131.0h0M171.0 130.8h0M171.3 130.5h0M171.6 130.3h0M171.9 130.1h0M172.2 129.8h0M172.5 129.6h0M172.8 129.3h0M173.1 129.1h0M173.4 128.9h0M173.6 128.6h0M173.9 128.4h0M174.2 128.2h0M174.5 127.9h0M174.8 127.7h0M175.1 127.5h0M175.4 127.2h0M175.7 127.0h0M176.0 126.8h0M176.3 126.5h0M176.6 126.3h0M176.9 126.0h0M177.2 125.8h0M177.4 125.6h0M177.7 125.3h0M178.0 125.1h0M178.3 124.9h0M178.6 124.6h0M178.9 124.4h0M179.2 124.2h0M179.5 124.0h0M179.8 123.7h0M180.1 123.5h0M180.4 123.3h0M180.7 123.0h0M180.9 122.8h0M181.2 122.6h0M181.5 122.3h0M181.8 122.1h0M182.1 121.9h0M182.4 121.6h0M182.7 121.4h0M183.0 121.2h0M183.3 121.0h0M183.6 120.7h0M183.9 120.5h0M184.2 120.3h0M184.4 120.0h0M184.7 119.8h0M185.0 119.6h0M185.3 119.4h0M185.6 119.1h0M185.9 118.9h0M186.2 118.7h0M186.5 118.5h0M186.8 118.2h0M187.1 118.0h0M187.4 117.8h0M187.7 117.6h0M187.9 117.3h0M188.2 117.1h0M188.5 116.9h0M188.8 116.7h0M189.1 116.4h0M189.4 116.2h0M189.7 116.0h0M190.0 115.8h0M190.3 115.5h0M190.6 115.3h0M190.9 115.1h0M191.2 114.9h0M191.4 114.7h0M191.7 114.4h0M192.0 114.2h0M192.3 114.0h0M192.6 113.8h0M192.9 113.6h0M193.2 113.3h0M193.5 113.1h0M193.8 112.9h0M194.1 112.7h0M194.4 112.5h0M194.7 112.2h0M195.0 112.0h0M195.2 111.8h0M195.5 111.6h0M195.8 111.4h0M196.1 111.2h0M196.4 110.9h0M196.7 110.7h0M197.0 110.5h0M197.3 110.3h0M197.6 110.1h0M197.9 109.9h0M198.2 109.7h0M198.5 109.5h0M198.7 109.2h0M199.0 109.0h0M199.3 108.8h0M199.6 108.6h0M199.9 108.4h0M200.2 108.2h0M200.5 108.0h0M200.8 107.8h0M201.1 107.5h0M201.4 107.3h0M201.7 107.1h0M202.0 106.9h0M202.2 106.7h0M202.5 106.5h0M202.8 106.3h0M203.1 106.1h0M203.4 105.9h0M203.7 105.7h0M204.0 105.5h0M204.3 105.3h0M204.6 105.1h0M204.9 104.8h0M205.2 104.6h0M205.5 104.4h0M205.7 104.2h0M206.0 104.0h0M206.3 103.8h0M206.6 103.6h0M206.9 103.4h0M207.2 103.2h0M207.5 103.0h0M207.8 102.8h0M208.1 102.6h0M208.4 102.4h0M208.7 102.2h0M209.0 102.0h0M209.2 101.8h0M209.5 101.6h0M209.8 101.4h0M210.1 101.2h0M210.4 101.0h0M210.7 100.8h0M211.0 100.6h0M211.3 100.4h0M211.6 100.2h0M211.9 100.0h0M212.2 99.8h0M212.5 99.6h0M212.8 99.4h0M213.0 99.2h0M213.3 99.0h0M213.6 98.8h0M213.9 98.6h0M214.2 98.4h0M214.5 98.2h0M214.8 98.0h0M215.1 97.8h0M215.4 97.6h0M215.7 97.4h0M216.0 97.2h0M216.3 97.0h0M216.5 96.8h0M216.8 96.6h0M217.1 96.5h0M217.4 96.3h0M217.7 96.1h0M218.0 95.9h0M218.3 95.7h0M218.6 95.5h0M218.9 95.3h0M219.2 95.1h0M219.5 94.9h0M219.8 94.7h0M220.0 94.5h0M220.3 94.3h0M220.6 94.2h0M220.9 94.0h0M221.2 93.8h0M221.5 93.6h0M221.8 93.4h0M222.1 93.2h0M222.4 93.0h0M222.7 92.8h0M223.0 92.7h0M223.3 92.5h0M223.5 92.3h0M223.8 92.1h0M224.1 91.9h0M224.4 91.7h0M224.7 91.5h0M225.0 91.3h0M225.3 91.2h0M225.6 91.0h0M225.9 90.8h0M226.2 90.6h0M226.5 90.4h0M226.8 90.2h0M227.0 90.1h0M227.3 89.9h0M227.6 89.7h0M227.9 89.5h0M228.2 89.3h0M228.5 89.2h0M228.8 89.0h0M229.1 88.8h0M229.4 88.6h0M229.7 88.4h0M230.0 88.2h0M230.3 88.1h0M230.6 87.9h0M230.8 87.7h0M231.1 87.5h0M231.4 87.4h0M231.7 87.2h0M232.0 87.0h0M232.3 86.8h0M232.6 86.6h0M232.9 86.5h0M233.2 86.3h0M233.5 86.1h0M233.8 85.9h0M234.1 85.8h0M234.3 85.6h0M234.6 85.4h0M234.9 85.2h0M235.2 85.1h0M235.5 84.9h0M235.8 84.7h0M236.1 84.5h0M236.4 84.4h0M236.7 84.2h0M237.0 84.0h0M237.3 83.9h0M237.6 83.7h0M237.8 83.5h0M238.1 83.3h0M238.4 83.2h0M238.7 83.0h0M239.0 82.8h0M239.3 82.7h0M239.6 82.5h0M239.9 82.3h0M240.2 82.1h0M240.5 82.0h0M240.8 81.8h0M241.1 81.6h0M241.3 81.5h0M241.6 81.3h0M241.9 81.1h0M242.2 81.0h0M242.5 80.8h0M242.8 80.6h0M243.1 80.5h0M243.4 80.3h0M243.7 80.1h0M244.0 80.0h0M244.3 79.8h0M244.6 79.6h0M244.8 79.5h0M245.1 79.3h0M245.4 79.2h0M245.7 79.0h0M246.0 78.8h0M246.3 78.7h0M246.6 78.5h0M246.9 78.3h0M247.2 78.2h0M247.5 78.0h0M247.8 77.9h0M248.1 77.7h0M248.3 77.5h0M248.6 77.4h0M248.9 77.2h0M249.2 77.1h0M249.5 76.9h0M249.8 76.7h0M250.1 76.6h0M250.4 76.4h0M250.7 76.3h0M251.0 76.1h0M251.3 75.9h0M251.6 75.8h0M251.9 75.6h0M252.1 75.5h0M252.4 75.3h0M252.7 75.2h0M253.0 75.0h0M253.3 74.9h0M253.6 74.7h0M253.9 74.5h0M254.2 74.4h0M254.5 74.2h0M254.8 74.1h0M255.1 73.9h0M255.4 73.8h0M255.6 73.6h0M255.9 73.5h0M256.2 73.3h0M256.5 73.2h0M256.8 73.0h0M257.1 72.9h0M257.4 72.7h0M257.7 72.6h0M258.0 72.4h0M258.3 72.3h0M258.6 72.1h0M258.9 72.0h0M259.1 71.8h0M259.4 71.7h0M259.7 71.5h0M260.0 71.4h0M260.3 71.2h0M260.6 71.1h0M260.9 70.9h0M261.2 70.8h0M261.5 70.6h0M261.8 70.5h0M262.1 70.3h0M262.4 70.2h0M262.6 70.0h0M262.9 69.9h0M263.2 69.7h0M263.5 69.6h0M263.8 69.5h0M264.1 69.3h0M264.4 69.2h0M264.7 69.0h0M265.0 68.9h0M265.3 68.7h0M265.6 68.6h0M265.9 68.4h0M266.1 68.3h0M266.4 68.2h0M266.7 68.0h0M267.0 67.9h0M267.3 67.7h0M267.6 67.6h0M267.9 67.4h0M268.2 67.3h0M268.5 67.2h0M268.8 67.0h0M269.1 66.9h0M269.4 66.7h0M269.7 66.6h0M269.9 66.5h0M270.2 66.3h0M270.5 66.2h0M270.8 66.1h0M271.1 65.9h0M271.4 65.8h0M271.7 65.6h0M272.0 65.5h0M272.3 65.4h0M272.6 65.2h0M272.9 65.1h0M273.2 65.0h0M273.4 64.8h0M273.7 64.7h0M274.0 64.5h0M274.3 64.4h0M274.6 64.3h0M274.9 64.1h0M275.2 64.0h0M275.5 63.9h0M275.8 63.7h0M276.1 63.6h0M276.4 63.5h0M276.7 63.3h0M276.9 63.2h0M277.2 63.1h0M277.5 62.9h0M277.8 62.8h0M278.1 62.7h0M278.4 62.6h0M278.7 62.4h0M279.0 62.3h0M279.3 62.2h0M279.6 62.0h0M279.9 61.9h0M280.2 61.8h0M280.4 61.6h0M280.7 61.5h0M281.0 61.4h0M281.3 61.3h0M281.6 61.1h0M281.9 61.0h0M282.2 60.9h0M282.5 60.7h0M282.8 60.6h0M283.1 60.5h0M283.4 60.4h0M283.7 60.2h0M283.9 60.1h0M284.2 60.0h0M284.5 59.9h0M284.8 59.7h0M285.1 59.6h0M285.4 59.5h0M285.7 59.4h0M286.0 59.2h0M286.3 59.1h0M286.6 59.0h0M286.9 58.9h0M287.2 58.7h0M287.5 58.6h0M287.7 58.5h0M288.0 58.4h0M288.3 58.2h0M288.6 58.1h0M288.9 58.0h0M289.2 57.9h0M289.5 57.8h0M289.8 57.6h0M290.1 57.5h0M290.4 57.4h0M290.7 57.3h0M291.0 57.2h0M291.2 57.0h0M291.5 56.9h0M291.8 56.8h0M292.1 56.7h0M292.4 56.6h0M292.7 56.4h0M293.0 56.3h0M293.3 56.2h0M293.6 56.1h0M293.9 56.0h0M294.2 55.9h0M294.5 55.7h0M294.7 55.6h0M295.0 55.5h0M295.3 55.4h0M295.6 55.3h0M295.9 55.2h0M296.2 55.0h0M296.5 54.9h0M296.8 54.8h0M297.1 54.7h0M297.4 54.6h0M297.7 54.5h0M298.0 54.4h0M298.2 54.2h0M298.5 54.1h0M298.8 54.0h0M299.1 53.9h0M299.4 53.8h0M299.7 53.7h0M300.0 53.6h0M300.3 53.5h0M300.6 53.3h0M300.9 53.2h0M301.2 53.1h0M301.5 53.0h0M301.7 52.9h0M302.0 52.8h0M302.3 52.7h0M302.6 52.6h0M302.9 52.5h0M303.2 52.3h0M303.5 52.2h0M303.8 52.1h0M304.1 52.0h0M304.4 51.9h0M304.7 51.8h0M305.0 51.7h0M305.3 51.6h0M305.5 51.5h0M305.8 51.4h0M306.1 51.3h0M306.4 51.2h0M306.7 51.1h0M307.0 50.9h0M307.3 50.8h0M307.6 50.7h0M307.9 50.6h0M308.2 50.5h0M308.5 50.4h0M308.8 50.3h0M309.0 50.2h0M309.3 50.1h0M309.6 50.0h0M309.9 49.9h0M310.2 49.8h0M310.5 49.7h0M310.8 49.6h0M311.1 49.5h0M311.4 49.4h0M311.7 49.3h0M312.0 49.2h0M312.3 49.1h0M312.5 49.0h0M312.8 48.9h0M313.1 48.8h0M313.4 48.7h0M313.7 48.6h0M314.0 48.5h0M314.3 48.4h0M314.6 48.3h0M314.9 48.2h0M315.2 48.1h0M315.5 48.0h0M315.8 47.9h0M316.0 47.8h0M316.3 47.7h0M316.6 47.6h0M316.9 47.5h0M317.2 47.4h0M317.5 47.3h0M317.8 47.2h0M318.1 47.1h0M318.4 47.0h0M318.7 46.9h0M319.0 46.8h0M319.3 46.7h0M319.5 46.6h0M319.8 46.5h0M320.1 46.4h0M320.4 46.3h0M320.7 46.2h0M321.0 46.1h0M321.3 46.0h0" stroke="#000000" stroke-width="2.2" stroke-linecap="round" fill="none"/>
<path d="M32.6 26.8h0M33.0 31.4h0M33.2 36.2h0M33.6 42.8h0M33.9 47.3h0M34.2 51.7h0M34.5 56.0h0M34.8 60.1h0M35.0 64.0h0M35.3 67.9h0M35.6 71.6h0M35.9 75.2h0M36.2 78.7h0M36.5 82.1h0M36.8 85.3h0M37.1 88.5h0M37.4 91.6h0M37.7 94.6h0M38.0 97.5h0M38.3 100.3h0M38.5 103.0h0M38.8 105.7h0M39.1 108.3h0M39.4 110.8h0M39.7 113.2h0M40.0 115.6h0M40.3 117.9h0M40.6 120.1h0M40.9 122.3h0M41.2 124.5h0M41.5 126.5h0M41.8 128.5h0M42.0 130.5h0M42.3 132.4h0M42.6 134.3h0M42.9 136.1h0M43.2 137.8h0M43.5 139.6h0M43.8 141.2h0M44.1 142.9h0M44.4 144.4h0M44.7 146.0h0M45.0 147.5h0M45.3 149.0h0M45.5 150.4h0M45.8 151.8h0M46.1 153.2h0M46.4 154.5h0M46.7 155.8h0M47.0 157.0h0M47.3 158.3h0M47.6 159.5h0M47.9 160.6h0M48.2 161.8h0M48.5 162.9h0M48.8 164.0h0M49.1 165.0h0M49.3 166.0h0M49.6 167.0h0M49.9 168.0h0M50.2 169.0h0M50.5 169.9h0M50.8 170.8h0M51.1 171.7h0M51.4 172.5h0M51.7 173.4h0M52.0 174.2h0M52.3 175.0h0M52.6 175.7h0M52.8 176.5h0M53.1 177.2h0M53.4 177.9h0M53.7 178.6h0M54.0 179.3h0M54.3 179.9h0M54.6 180.6h0M54.9 181.2h0M55.2 181.8h0M55.5 182.4h0M55.8 182.9h0M56.1 183.5h0M56.3 184.0h0M56.6 184.5h0M56.9 185.0h0M57.2 185.5h0M57.5 186.0h0M57.8 186.5h0M58.1 186.9h0M58.4 187.4h0M58.7 187.8h0M59.0 188.2h0M59.3 188.6h0M59.6 189.0h0M59.8 189.4h0M60.1 189.7h0M60.4 190.1h0M60.7 190.4h0M61.0 190.7h0M61.3 191.1h0M61.6 191.4h0M61.9 191.7h0M62.2 191.9h0M62.5 192.2h0M62.8 192.5h0M63.1 192.8h0M63.3 193.0h0M63.6 193.2h0M63.9 193.5h0M64.2 193.7h0M64.5 193.9h0M64.8 194.1h0M65.1 194.3h0M65.4 194.5h0M65.7 194.7h0M66.0 194.9h0M66.3 195.0h0M66.6 195.2h0M66.9 195.3h0M67.1 195.5h0M67.4 195.6h0M67.7 195.7h0M68.0 195.9h0M68.3 196.0h0M68.6 196.1h0M68.9 196.2h0M69.2 196.3h0M69.5 196.4h0M69.8 196.5h0M70.1 196.6h0M70.4 196.6h0M70.6 196.7h0M70.9 196.8h0M71.2 196.8h0M71.5 196.9h0M71.8 196.9h0M72.1 197.0h0M72.4 197.0h0M72.7 197.0h0M73.0 197.1h0M73.3 197.1h0M73.6 197.1h0M73.9 197.1h0M74.1 197.1h0M74.4 197.1h0M74.7 197.1h0M75.0 197.1h0M75.3 197.1h0M75.6 197.1h0M75.9 197.1h0M76.2 197.1h0M76.5 197.0h0M76.8 197.0h0M77.1 197.0h0M77.4 196.9h0M77.6 196.9h0M77.9 196.8h0M78.2 196.8h0M78.5 196.7h0M78.8 196.7h0M79.1 196.6h0M79.4 196.6h0M79.7 196.5h0M80.0 196.4h0M80.3 196.4h0M80.6 196.3h0M80.9 196.2h0M81.1 196.1h0M81.4 196.0h0M81.7 196.0h0M82.0 195.9h0M82.3 195.8h0M82.6 195.7h0M82.9 195.6h0M83.2 195.5h0M83.5 195.4h0M83.8 195.3h0M84.1 195.2h0M84.4 195.1h0M84.7 194.9h0M84.9 194.8h0M85.2 194.7h0M85.5 194.6h0M85.8 194.5h0M86.1 194.4h0M86.4 194.2h0M86.7 194.1h0M87.0 194.0h0M87.3 193.8h0M87.6 193.7h0M87.9 193.6h0M88.2 193.4h0M88.4 193.3h0M88.7 193.1h0M89.0 193.0h0M89.3 192.9h0M89.6 192.7h0M89.9 192.6h0M90.2 192.4h0M90.5 192.3h0M90.8 192.1h0M91.1 192.0h0M91.4 191.8h0M91.7 191.6h0M91.9 191.5h0M92.2 191.3h0M92.5 191.2h0M92.8 191.0h0M93.1 190.8h0M93.4 190.7h0M93.7 190.5h0M94.0 190.3h0M94.3 190.1h0M94.6 190.0h0M94.9 189.8h0M95.2 189.6h0M95.4 189.4h0M95.7 189.3h0M96.0 189.1h0M96.3 188.9h0M96.6 188.7h0M96.9 188.5h0M97.2 188.3h0M97.5 188.2h0M97.8 188.0h0M98.1 187.8h0M98.4 187.6h0M98.7 187.4h0M98.9 187.2h0M99.2 187.0h0M99.5 186.8h0M99.8 186.6h0M100.1 186.4h0M100.4 186.2h0M100.7 186.0h0M101.0 185.8h0M101.3 185.6h0M101.6 185.4h0M101.9 185.2h0M102.2 185.0h0M102.5 184.8h0M102.7 184.6h0M103.0 184.4h0M103.3 184.1h0M103.6 183.9h0M103.9 183.7h0M104.2 183.5h0M104.5 183.3h0M104.8 183.1h0M105.1 182.9h0M105.4 182.7h0M105.7 182.5h0M106.0 182.2h0M106.2 182.0h0M106.5 181.8h0M106.8 181.6h0M107.1 181.4h0M107.4 181.2h0M107.7 181.0h0M108.0 180.7h0M108.3 180.5h0M108.6 180.3h0M108.9 180.1h0M109.2 179.9h0M109.5 179.7h0M109.7 179.4h0M110.0 179.2h0M110.3 179.0h0M110.6 178.8h0M110.9 178.6h0M111.2 178.4h0M111.5 178.2h0M111.8 177.9h0M112.1 177.7h0M112.4 177.5h0M112.7 177.3h0M113.0 177.1h0M113.2 176.9h0M113.5 176.6h0M113.8 176.4h0M114.1 176.2h0M114.4 176.0h0M114.7 175.8h0M115.0 175.5h0M115.3 175.3h0M115.6 175.1h0M115.9 174.9h0M116.2 174.6h0M116.5 174.4h0M116.7 174.2h0M117.0 174.0h0M117.3 173.7h0M117.6 173.5h0M117.9 173.3h0M118.2 173.1h0M118.5 172.8h0M118.8 172.6h0M119.1 172.4h0M119.4 172.2h0M119.7 171.9h0M120.0 171.7h0M120.2 171.5h0M120.5 171.3h0M120.8 171.0h0M121.1 170.8h0M121.4 170.6h0M121.7 170.3h0M122.0 170.1h0M122.3 169.9h0M122.6 169.6h0M122.9 169.4h0M123.2 169.2h0M123.5 169.0h0M123.8 168.7h0M124.0 168.5h0M124.3 168.3h0M124.6 168.0h0M124.9 167.8h0M125.2 167.6h0M125.5 167.3h0M125.8 167.1h0M126.1 166.9h0M126.4 166.6h0M126.7 166.4h0M127.0 166.2h0M127.3 165.9h0M127.5 165.7h0M127.8 165.4h0M128.1 165.2h0M128.4 165.0h0M128.7 164.7h0M129.0 164.5h0M129.3 164.3h0M129.6 164.0h0M129.9 163.8h0M130.2 163.6h0M130.5 163.3h0M130.8 163.1h0M131.0 162.9h0M131.3 162.6h0M131.6 162.4h0M131.9 162.1h0M132.2 161.9h0M132.5 161.7h0M132.8 161.4h0M133.1 161.2h0M133.4 161.0h0M133.7 160.7h0M134.0 160.5h0M134.3 160.3h0M134.5 160.0h0M134.8 159.8h0M135.1 159.5h0M135.4 159.3h0M135.7 159.1h0M136.0 158.8h0M136.3 158.6h0M136.6 158.4h0M136.9 158.1h0M137.2 157.9h0M137.5 157.6h0M137.8 157.4h0M138.0 157.2h0M138.3 156.9h0M138.6 156.7h0M138.9 156.5h0M139.2 156.2h0M139.5 156.0h0M139.8 155.8h0M140.1 155.5h0M140.4 155.3h0M140.7 155.1h0M141.0 154.8h0M141.3 154.6h0M141.6 154.3h0M141.8 154.1h0M142.1 153.9h0M142.4 153.6h0M142.7 153.4h0M143.0 153.2h0M143.3 152.9h0M143.6 152.7h0M143.9 152.5h0M144.2 152.2h0M144.5 152.0h0M144.8 151.8h0M145.1 151.5h0M145.3 151.3h0M145.6 151.0h0M145.9 150.8h0M146.2 150.6h0M146.5 150.3h0M146.8 150.1h0M147.1 149.9h0M147.4 149.6h0M147.7 149.4h0M148.0 149.2h0M148.3 148.9h0M148.6 148.7h0M148.8 148.5h0M149.1 148.2h0M149.4 148.0h0M149.7 147.8h0M150.0 147.5h0M150.3 147.3h0M150.6 147.0h0M150.9 146.8h0M151.2 146.6h0M151.5 146.3h0M151.8 146.1h0M152.1 145.9h0M152.3 145.6h0M152.6 145.4h0M152.9 145.2h0M153.2 144.9h0M153.5 144.7h0M153.8 144.5h0M154.1 144.2h0M154.4 144.0h0M154.7 143.8h0M155.0 143.5h0M155.3 143.3h0M155.6 143.1h0M155.8 142.8h0M156.1 142.6h0M156.4 142.4h0M156.7 142.1h0M157.0 141.9h0M157.3 141.7h0M157.6 141.4h0M157.9 141.2h0M158.2 141.0h0M158.5 140.7h0M158.8 140.5h0M159.1 140.3h0M159.4 140.0h0M159.6 139.8h0M159.9 139.6h0M160.2 139.3h0M160.5 139.1h0M160.8 138.9h0M161.1 138.6h0M161.4 138.4h0M161.7 138.2h0M162.0 137.9h0M162.3 137.7h0M162.6 137.5h0M162.9 137.2h0M163.1 137.0h0M163.4 136.8h0M163.7 136.5h0M164.0 136.3h0M164.3 136.1h0M164.6 135.8h0M164.9 135.6h0M165.2 135.4h0M165.5 135.2h0M165.8 134.9h0M166.1 134.7h0M166.4 134.5h0M166.6 134.2h0M166.9 134.0h0M167.2 133.8h0M167.5 133.6h0M167.8 133.3h0M168.1 133.1h0M168.4 132.9h0M168.7 132.6h0M169.0 132.4h0M169.3 132.2h0M169.6 132.0h0M169.9 131.7h0M170.1 131.5h0M170.4 131.3h0M170.7 131.0h0M171.0 130.8h0M171.3 130.6h0M171.6 130.4h0M171.9 130.1h0M172.2 129.9h0M172.5 129.7h0M172.8 129.5h0M173.1 129.2h0M173.4 129.0h0M173.6 128.8h0M173.9 128.6h0M174.2 128.3h0M174.5 128.1h0M174.8 127.9h0M175.1 127.7h0M175.4 127.5h0M175.7 127.2h0M176.0 127.0h0M176.3 126.8h0M176.6 126.6h0M176.9 126.3h0M177.2 126.1h0M177.4 125.9h0M177.7 125.7h0M178.0 125.5h0M178.3 125.2h0M178.6 125.0h0M178.9 124.8h0M179.2 124.6h0M179.5 124.4h0M179.8 124.1h0M180.1 123.9h0M180.4 123.7h0M180.7 123.5h0M180.9 123.3h0M181.2 123.0h0M181.5 122.8h0M181.8 122.6h0M182.1 122.4h0M182.4 122.2h0M182.7 122.0h0M183.0 121.7h0M183.3 121.5h0M183.6 121.3h0M183.9 121.1h0M184.2 120.9h0M184.4 120.7h0M184.7 120.4h0M185.0 120.2h0M185.3 120.0h0M185.6 119.8h0M185.9 119.6h0M186.2 119.4h0M186.5 119.1h0M186.8 118.9h0M187.1 118.7h0M187.4 118.5h0M187.7 118.3h0M187.9 118.1h0M188.2 117.9h0M188.5 117.7h0M188.8 117.4h0M189.1 117.2h0M189.4 117.0h0M189.7 116.8h0M190.0 116.6h0M190.3 116.4h0M190.6 116.2h0M190.9 116.0h0M191.2 115.7h0M191.4 115.5h0M191.7 115.3h0M192.0 115.1h0M192.3 114.9h0M192.6 114.7h0M192.9 114.5h0M193.2 114.3h0M193.5 114.1h0M193.8 113.9h0M194.1 113.6h0M194.4 113.4h0M194.7 113.2h0M195.0 113.0h0M195.2 112.8h0M195.5 112.6h0M195.8 112.4h0M196.1 112.2h0M196.4 112.0h0M196.7 111.8h0M197.0 111.6h0M197.3 111.4h0M197.6 111.2h0M197.9 111.0h0M198.2 110.7h0M198.5 110.5h0M198.7 110.3h0M199.0 110.1h0M199.3 109.9h0M199.6 109.7h0M199.9 109.5h0M200.2 109.3h0M200.5 109.1h0M200.8 108.9h0M201.1 108.7h0M201.4 108.5h0M201.7 108.3h0M202.0 108.1h0M202.2 107.9h0M202.5 107.7h0M202.8 107.5h0M203.1 107.3h0M203.4 107.1h0M203.7 106.9h0M204.0 106.7h0M204.3 106.5h0M204.6 106.3h0M204.9 106.1h0M205.2 105.9h0M205.5 105.7h0M205.7 105.5h0M206.0 105.3h0M206.3 105.1h0M206.6 104.9h0M206.9 104.7h0M207.2 104.5h0M207.5 104.3h0M207.8 104.1h0M208.1 103.9h0M208.4 103.7h0M208.7 103.5h0M209.0 103.3h0M209.2 103.1h0M209.5 102.9h0M209.8 102.7h0M210.1 102.5h0M210.4 102.3h0M210.7 102.1h0M211.0 101.9h0M211.3 101.7h0M211.6 101.5h0M211.9 101.3h0M212.2 101.2h0M212.5 101.0h0M212.8 100.8h0M213.0 100.6h0M213.3 100.4h0M213.6 100.2h0M213.9 100.0h0M214.2 99.8h0M214.5 99.6h0M214.8 99.4h0M215.1 99.2h0M215.4 99.0h0M215.7 98.9h0M216.0 98.7h0M216.3 98.5h0M216.5 98.3h0M216.8 98.1h0M217.1 97.9h0M217.4 97.7h0M217.7 97.5h0M218.0 97.3h0M218.3 97.2h0M218.6 97.0h0M218.9 96.8h0M219.2 96.6h0M219.5 96.4h0M219.8 96.2h0M220.0 96.0h0M220.3 95.9h0M220.6 95.7h0M220.9 95.5h0M221.2 95.3h0M221.5 95.1h0M221.8 94.9h0M222.1 94.7h0M222.4 94.6h0M222.7 94.4h0M223.0 94.2h0M223.3 94.0h0M223.5 93.8h0M223.8 93.7h0M224.1 93.5h0M224.4 93.3h0M224.7 93.1h0M225.0 92.9h0M225.3 92.7h0M225.6 92.6h0M225.9 92.4h0M226.2 92.2h0M226.5 92.0h0M226.8 91.8h0M227.0 91.7h0M227.3 91.5h0M227.6 91.3h0M227.9 91.1h0M228.2 91.0h0M228.5 90.8h0M228.8 90.6h0M229.1 90.4h0M229.4 90.2h0M229.7 90.1h0M230.0 89.9h0M230.3 89.7h0M230.6 89.5h0M230.8 89.4h0M231.1 89.2h0M231.4 89.0h0M231.7 88.8h0M232.0 88.7h0M232.3 88.5h0M232.6 88.3h0M232.9 88.2h0M233.2 88.0h0M233.5 87.8h0M233.8 87.6h0M234.1 87.5h0M234.3 87.3h0M234.6 87.1h0M234.9 87.0h0M235.2 86.8h0M235.5 86.6h0M235.8 86.4h0M236.1 86.3h0M236.4 86.1h0M236.7 85.9h0M237.0 85.8h0M237.3 85.6h0M237.6 85.4h0M237.8 85.3h0M238.1 85.1h0M238.4 84.9h0M238.7 84.8h0M239.0 84.6h0M239.3 84.4h0M239.6 84.3h0M239.9 84.1h0M240.2 83.9h0M240.5 83.8h0M240.8 83.6h0M241.1 83.4h0M241.3 83.3h0M241.6 83.1h0M241.9 82.9h0M242.2 82.8h0M242.5 82.6h0M242.8 82.4h0M243.1 82.3h0M243.4 82.1h0M243.7 82.0h0M244.0 81.8h0M244.3 81.6h0M244.6 81.5h0M244.8 81.3h0M245.1 81.1h0M245.4 81.0h0M245.7 80.8h0M246.0 80.7h0M246.3 80.5h0M246.6 80.3h0M246.9 80.2h0M247.2 80.0h0M247.5 79.9h0M247.8 79.7h0M248.1 79.6h0M248.3 79.4h0M248.6 79.2h0M248.9 79.1h0M249.2 78.9h0M249.5 78.8h0M249.8 78.6h0M250.1 78.5h0M250.4 78.3h0M250.7 78.1h0M251.0 78.0h0M251.3 77.8h0M251.6 77.7h0M251.9 77.5h0M252.1 77.4h0M252.4 77.2h0M252.7 77.1h0M253.0 76.9h0M253.3 76.8h0M253.6 76.6h0M253.9 76.5h0M254.2 76.3h0M254.5 76.2h0M254.8 76.0h0M255.1 75.8h0M255.4 75.7h0M255.6 75.5h0M255.9 75.4h0M256.2 75.2h0M256.5 75.1h0M256.8 74.9h0M257.1 74.8h0M257.4 74.7h0M257.7 74.5h0M258.0 74.4h0M258.3 74.2h0M258.6 74.1h0M258.9 73.9h0M259.1 73.8h0M259.4 73.6h0M259.7 73.5h0M260.0 73.3h0M260.3 73.2h0M260.6 73.0h0M260.9 72.9h0M261.2 72.7h0M261.5 72.6h0M261.8 72.5h0M262.1 72.3h0M262.4 72.2h0M262.6 72.0h0M262.9 71.9h0M263.2 71.7h0M263.5 71.6h0M263.8 71.4h0M264.1 71.3h0M264.4 71.2h0M264.7 71.0h0M265.0 70.9h0M265.3 70.7h0M265.6 70.6h0M265.9 70.5h0M266.1 70.3h0M266.4 70.2h0M266.7 70.0h0M267.0 69.9h0M267.3 69.8h0M267.6 69.6h0M267.9 69.5h0M268.2 69.3h0M268.5 69.2h0M268.8 69.1h0M269.1 68.9h0M269.4 68.8h0M269.7 68.7h0M269.9 68.5h0M270.2 68.4h0M270.5 68.2h0M270.8 68.1h0M271.1 68.0h0M271.4 67.8h0M271.7 67.7h0M272.0 67.6h0M272.3 67.4h0M272.6 67.3h0M272.9 67.2h0M273.2 67.0h0M273.4 66.9h0M273.7 66.8h0M274.0 66.6h0M274.3 66.5h0M274.6 66.4h0M274.9 66.2h0M275.2 66.1h0M275.5 66.0h0M275.8 65.8h0M276.1 65.7h0M276.4 65.6h0M276.7 65.4h0M276.9 65.3h0M277.2 65.2h0M277.5 65.0h0M277.8 64.9h0M278.1 64.8h0M278.4 64.7h0M278.7 64.5h0M279.0 64.4h0M279.3 64.3h0M279.6 64.1h0M279.9 64.0h0M280.2 63.9h0M280.4 63.8h0M280.7 63.6h0M281.0 63.5h0M281.3 63.4h0M281.6 63.3h0M281.9 63.1h0M282.2 63.0h0M282.5 62.9h0M282.8 62.8h0M283.1 62.6h0M283.4 62.5h0M283.7 62.4h0M283.9 62.3h0M284.2 62.1h0M284.5 62.0h0M284.8 61.9h0M285.1 61.8h0M285.4 61.6h0M285.7 61.5h0M286.0 61.4h0M286.3 61.3h0M286.6 61.1h0M286.9 61.0h0M287.2 60.9h0M287.5 60.8h0M287.7 60.7h0M288.0 60.5h0M288.3 60.4h0M288.6 60.3h0M288.9 60.2h0M289.2 60.1h0M289.5 59.9h0M289.8 59.8h0M290.1 59.7h0M290.4 59.6h0M290.7 59.5h0M291.0 59.4h0M291.2 59.2h0M291.5 59.1h0M291.8 59.0h0M292.1 58.9h0M292.4 58.8h0M292.7 58.6h0M293.0 58.5h0M293.3 58.4h0M293.6 58.3h0M293.9 58.2h0M294.2 58.1h0M294.5 58.0h0M294.7 57.8h0M295.0 57.7h0M295.3 57.6h0M295.6 57.5h0M295.9 57.4h0M296.2 57.3h0M296.5 57.2h0M296.8 57.0h0M297.1 56.9h0M297.4 56.8h0M297.7 56.7h0M298.0 56.6h0M298.2 56.5h0M298.5 56.4h0M298.8 56.3h0M299.1 56.1h0M299.4 56.0h0M299.7 55.9h0M300.0 55.8h0M300.3 55.7h0M300.6 55.6h0M300.9 55.5h0M301.2 55.4h0M301.5 55.3h0M301.7 55.1h0M302.0 55.0h0M302.3 54.9h0M302.6 54.8h0M302.9 54.7h0M303.2 54.6h0M303.5 54.5h0M303.8 54.4h0M304.1 54.3h0M304.4 54.2h0M304.7 54.1h0M305.0 54.0h0M305.3 53.9h0M305.5 53.7h0M305.8 53.6h0M306.1 53.5h0M306.4 53.4h0M306.7 53.3h0M307.0 53.2h0M307.3 53.1h0M307.6 53.0h0M307.9 52.9h0M308.2 52.8h0M308.5 52.7h0M308.8 52.6h0M309.0 52.5h0M309.3 52.4h0M309.6 52.3h0M309.9 52.2h0M310.2 52.1h0M310.5 52.0h0M310.8 51.9h0M311.1 51.8h0M311.4 51.7h0M311.7 51.6h0M312.0 51.5h0M312.3 51.4h0M312.5 51.3h0M312.8 51.2h0M313.1 51.1h0M313.4 51.0h0M313.7 50.9h0M314.0 50.8h0M314.3 50.7h0M314.6 50.6h0M314.9 50.5h0M315.2 50.4h0M315.5 50.3h0M315.8 50.2h0M316.0 50.1h0M316.3 50.0h0M316.6 49.9h0M316.9 49.8h0M317.2 49.7h0M317.5 49.6h0M317.8 49.5h0M318.1 49.4h0M318.4 49.3h0M318.7 49.2h0M319.0 49.1h0M319.3 49.0h0M319.5 48.9h0M319.8 48.8h0M320.1 48.7h0M320.4 48.6h0M320.7 48.5h0M321.0 48.4h0M321.3 48.3h0" stroke="#0000ff" stroke-width="2.2" stroke-linecap="round" fill="none"/>
<path d="M32.1 10.1h0M32.7 33.2h0M33.3 36.1h0M33.6 42.5h0M33.9 47.0h0M34.2 51.4h0M34.5 55.6h0M34.8 59.7h0M35.0 63.6h0M35.3 67.4h0M35.6 71.1h0M35.9 74.7h0M36.2 78.2h0M36.5 81.5h0M36.8 84.8h0M37.1 87.9h0M37.4 91.0h0M37.7 93.9h0M38.0 96.8h0M38.3 99.6h0M38.5 102.3h0M38.8 105.0h0M39.1 107.5h0M39.4 110.0h0M39.7 112.4h0M40.0 114.8h0M40.3 117.1h0M40.6 119.3h0M40.9 121.5h0M41.2 123.6h0M41.5 125.6h0M41.8 127.6h0M42.0 129.6h0M42.3 131.5h0M42.6 133.3h0M42.9 135.1h0M43.2 136.8h0M43.5 138.5h0M43.8 140.2h0M44.1 141.8h0M44.4 143.4h0M44.7 144.9h0M45.0 146.4h0M45.3 147.8h0M45.5 149.2h0M45.8 150.6h0M46.1 151.9h0M46.4 153.3h0M46.7 154.5h0M47.0 155.8h0M47.3 157.0h0M47.6 158.2h0M47.9 159.3h0M48.2 160.4h0M48.5 161.5h0M48.8 162.6h0M49.1 163.6h0M49.3 164.6h0M49.6 165.6h0M49.9 166.6h0M50.2 167.5h0M50.5 168.4h0M50.8 169.3h0M51.1 170.2h0M51.4 171.0h0M51.7 171.8h0M52.0 172.6h0M52.3 173.4h0M52.6 174.1h0M52.8 174.9h0M53.1 175.6h0M53.4 176.3h0M53.7 177.0h0M54.0 177.6h0M54.3 178.2h0M54.6 178.9h0M54.9 179.5h0M55.2 180.0h0M55.5 180.6h0M55.8 181.2h0M56.1 181.7h0M56.3 182.2h0M56.6 182.7h0M56.9 183.2h0M57.2 183.7h0M57.5 184.2h0M57.8 184.6h0M58.1 185.1h0M58.4 185.5h0M58.7 185.9h0M59.0 186.3h0M59.3 186.7h0M59.6 187.1h0M59.8 187.4h0M60.1 187.8h0M60.4 188.1h0M60.7 188.4h0M61.0 188.8h0M61.3 189.1h0M61.6 189.4h0M61.9 189.7h0M62.2 189.9h0M62.5 190.2h0M62.8 190.5h0M63.1 190.7h0M63.3 191.0h0M63.6 191.2h0M63.9 191.4h0M64.2 191.6h0M64.5 191.8h0M64.8 192.0h0M65.1 192.2h0M65.4 192.4h0M65.7 192.6h0M66.0 192.7h0M66.3 192.9h0M66.6 193.0h0M66.9 193.2h0M67.1 193.3h0M67.4 193.4h0M67.7 193.6h0M68.0 193.7h0M68.3 193.8h0M68.6 193.9h0M68.9 194.0h0M69.2 194.1h0M69.5 194.2h0M69.8 194.2h0M70.1 194.3h0M70.4 194.4h0M70.6 194.5h0M70.9 194.5h0M71.2 194.6h0M71.5 194.6h0M71.8 194.7h0M72.1 194.7h0M72.4 194.7h0M72.7 194.8h0M73.0 194.8h0M73.3 194.8h0M73.6 194.8h0M73.9 194.8h0M74.1 194.8h0M74.4 194.8h0M74.7 194.8h0M75.0 194.8h0M75.3 194.8h0M75.6 194.8h0M75.9 194.8h0M76.2 194.8h0M76.5 194.8h0M76.8 194.7h0M77.1 194.7h0M77.4 194.7h0M77.6 194.6h0M77.9 194.6h0M78.2 194.5h0M78.5 194.5h0M78.8 194.4h0M79.1 194.4h0M79.4 194.3h0M79.7 194.3h0M80.0 194.2h0M80.3 194.1h0M80.6 194.1h0M80.9 194.0h0M81.1 193.9h0M81.4 193.8h0M81.7 193.7h0M82.0 193.7h0M82.3 193.6h0M82.6 193.5h0M82.9 193.4h0M83.2 193.3h0M83.5 193.2h0M83.8 193.1h0M84.1 193.0h0M84.4 192.9h0M84.7 192.8h0M84.9 192.7h0M85.2 192.5h0M85.5 192.4h0M85.8 192.3h0M86.1 192.2h0M86.4 192.1h0M86.7 192.0h0M87.0 191.8h0M87.3 191.7h0M87.6 191.6h0M87.9 191.4h0M88.2 191.3h0M88.4 191.2h0M88.7 191.0h0M89.0 190.9h0M89.3 190.8h0M89.6 190.6h0M89.9 190.5h0M90.2 190.3h0M90.5 190.2h0M90.8 190.0h0M91.1 189.9h0M91.4 189.7h0M91.7 189.6h0M91.9 189.4h0M92.2 189.3h0M92.5 189.1h0M92.8 188.9h0M93.1 188.8h0M93.4 188.6h0M93.7 188.5h0M94.0 188.3h0M94.3 188.1h0M94.6 188.0h0M94.9 187.8h0M95.2 187.6h0M95.4 187.4h0M95.7 187.3h0M96.0 187.1h0M96.3 186.9h0M96.6 186.7h0M96.9 186.5h0M97.2 186.4h0M97.5 186.2h0M97.8 186.0h0M98.1 185.8h0M98.4 185.6h0M98.7 185.4h0M98.9 185.2h0M99.2 185.0h0M99.5 184.8h0M99.8 184.6h0M100.1 184.5h0M100.4 184.3h0M100.7 184.1h0M101.0 183.9h0M101.3 183.7h0M101.6 183.5h0M101.9 183.3h0M102.2 183.1h0M102.5 182.9h0M102.7 182.7h0M103.0 182.4h0M103.3 182.2h0M103.6 182.0h0M103.9 181.8h0M104.2 181.6h0M104.5 181.4h0M104.8 181.2h0M105.1 181.0h0M105.4 180.8h0M105.7 180.6h0M106.0 180.4h0M106.2 180.2h0M106.5 180.0h0M106.8 179.7h0M107.1 179.5h0M107.4 179.3h0M107.7 179.1h0M108.0 178.9h0M108.3 178.7h0M108.6 178.5h0M108.9 178.3h0M109.2 178.1h0M109.5 177.8h0M109.7 177.6h0M110.0 177.4h0M110.3 177.2h0M110.6 177.0h0M110.9 176.8h0M111.2 176.6h0M111.5 176.4h0M111.8 176.2h0M112.1 175.9h0M112.4 175.7h0M112.7 175.5h0M113.0 175.3h0M113.2 175.1h0M113.5 174.9h0M113.8 174.7h0M114.1 174.4h0M114.4 174.2h0M114.7 174.0h0M115.0 173.8h0M115.3 173.6h0M115.6 173.4h0M115.9 173.1h0M116.2 172.9h0M116.5 172.7h0M116.7 172.5h0M117.0 172.3h0M117.3 172.0h0M117.6 171.8h0M117.9 171.6h0M118.2 171.4h0M118.5 171.2h0M118.8 170.9h0M119.1 170.7h0M119.4 170.5h0M119.7 170.3h0M120.0 170.0h0M120.2 169.8h0M120.5 169.6h0M120.8 169.4h0M121.1 169.1h0M121.4 168.9h0M121.7 168.7h0M122.0 168.5h0M122.3 168.2h0M122.6 168.0h0M122.9 167.8h0M123.2 167.6h0M123.5 167.3h0M123.8 167.1h0M124.0 166.9h0M124.3 166.6h0M124.6 166.4h0M124.9 166.2h0M125.2 166.0h0M125.5 165.7h0M125.8 165.5h0M126.1 165.3h0M126.4 165.0h0M126.7 164.8h0M127.0 164.6h0M127.3 164.4h0M127.5 164.1h0M127.8 163.9h0M128.1 163.7h0M128.4 163.4h0M128.7 163.2h0M129.0 163.0h0M129.3 162.8h0M129.6 162.5h0M129.9 162.3h0M130.2 162.1h0M130.5 161.8h0M130.8 161.6h0M131.0 161.4h0M131.3 161.1h0M131.6 160.9h0M131.9 160.7h0M132.2 160.5h0M132.5 160.2h0M132.8 160.0h0M133.1 159.8h0M133.4 159.5h0M133.7 159.3h0M134.0 159.1h0M134.3 158.8h0M134.5 158.6h0M134.8 158.4h0M135.1 158.1h0M135.4 157.9h0M135.7 157.7h0M136.0 157.5h0M136.3 157.2h0M136.6 157.0h0M136.9 156.8h0M137.2 156.6h0M137.5 156.3h0M137.8 156.1h0M138.0 155.9h0M138.3 155.7h0M138.6 155.4h0M138.9 155.2h0M139.2 155.0h0M139.5 154.8h0M139.8 154.5h0M140.1 154.3h0M140.4 154.1h0M140.7 153.9h0M141.0 153.6h0M141.3 153.4h0M141.6 153.2h0M141.8 153.0h0M142.1 152.7h0M142.4 152.5h0M142.7 152.3h0M143.0 152.1h0M143.3 151.9h0M143.6 151.6h0M143.9 151.4h0M144.2 151.2h0M144.5 151.0h0M144.8 150.7h0M145.1 150.5h0M145.3 150.3h0M145.6 150.1h0M145.9 149.9h0M146.2 149.6h0M146.5 149.4h0M146.8 149.2h0M147.1 149.0h0M147.4 148.8h0M147.7 148.5h0M148.0 148.3h0M148.3 148.1h0M148.6 147.9h0M148.8 147.7h0M149.1 147.4h0M149.4 147.2h0M149.7 147.0h0M150.0 146.8h0M150.3 146.5h0M150.6 146.3h0M150.9 146.1h0M151.2 145.9h0M151.5 145.7h0M151.8 145.4h0M152.1 145.2h0M152.3 145.0h0M152.6 144.8h0M152.9 144.5h0M153.2 144.3h0M153.5 144.1h0M153.8 143.9h0M154.1 143.6h0M154.4 143.4h0M154.7 143.2h0M155.0 143.0h0M155.3 142.7h0M155.6 142.5h0M155.8 142.3h0M156.1 142.1h0M156.4 141.9h0M156.7 141.6h0M157.0 141.4h0M157.3 141.2h0M157.6 141.0h0M157.9 140.7h0M158.2 140.5h0M158.5 140.3h0M158.8 140.1h0M159.1 139.9h0M159.4 139.6h0M159.6 139.4h0M159.9 139.2h0M160.2 139.0h0M160.5 138.7h0M160.8 138.5h0M161.1 138.3h0M161.4 138.1h0M161.7 137.9h0M162.0 137.6h0M162.3 137.4h0M162.6 137.2h0M162.9 137.0h0M163.1 136.8h0M163.4 136.5h0M163.7 136.3h0M164.0 136.1h0M164.3 135.9h0M164.6 135.7h0M164.9 135.4h0M165.2 135.2h0M165.5 135.0h0M165.8 134.8h0M166.1 134.6h0M166.4 134.3h0M166.6 134.1h0M166.9 133.9h0M167.2 133.7h0M167.5 133.5h0M167.8 133.3h0M168.1 133.0h0M168.4 132.8h0M168.7 132.6h0M169.0 132.4h0M169.3 132.2h0M169.6 132.0h0M169.9 131.7h0M170.1 131.5h0M170.4 131.3h0M170.7 131.1h0M171.0 130.9h0M171.3 130.7h0M171.6 130.4h0M171.9 130.2h0M172.2 130.0h0M172.5 129.8h0M172.8 129.6h0M173.1 129.4h0M173.4 129.2h0M173.6 129.0h0M173.9 128.7h0M174.2 128.5h0M174.5 128.3h0M174.8 128.1h0M175.1 127.9h0M175.4 127.7h0M175.7 127.5h0M176.0 127.3h0M176.3 127.1h0M176.6 126.8h0M176.9 126.6h0M177.2 126.4h0M177.4 126.2h0M177.7 126.0h0M178.0 125.8h0M178.3 125.6h0M178.6 125.4h0M178.9 125.2h0M179.2 125.0h0M179.5 124.8h0M179.8 124.6h0M180.1 124.3h0M180.4 124.1h0M180.7 123.9h0M180.9 123.7h0M181.2 123.5h0M181.5 123.3h0M181.8 123.1h0M182.1 122.9h0M182.4 122.7h0M182.7 122.5h0M183.0 122.3h0M183.3 122.1h0M183.6 121.9h0M183.9 121.7h0M184.2 121.5h0M184.4 121.3h0M184.7 121.1h0M185.0 120.9h0M185.3 120.7h0M185.6 120.5h0M185.9 120.3h0M186.2 120.0h0M186.5 119.8h0M186.8 119.6h0M187.1 119.4h0M187.4 119.2h0M187.7 119.0h0M187.9 118.8h0M188.2 118.6h0M188.5 118.4h0M188.8 118.2h0M189.1 118.0h0M189.4 117.8h0M189.7 117.6h0M190.0 117.4h0M190.3 117.2h0M190.6 117.0h0M190.9 116.8h0M191.2 116.6h0M191.4 116.4h0M191.7 116.2h0M192.0 116.0h0M192.3 115.8h0M192.6 115.6h0M192.9 115.4h0M193.2 115.2h0M193.5 115.0h0M193.8 114.8h0M194.1 114.6h0M194.4 114.4h0M194.7 114.2h0M195.0 114.0h0M195.2 113.8h0M195.5 113.6h0M195.8 113.4h0M196.1 113.2h0M196.4 113.0h0M196.7 112.8h0M197.0 112.6h0M197.3 112.4h0M197.6 112.2h0M197.9 112.0h0M198.2 111.8h0M198.5 111.6h0M198.7 111.4h0M199.0 111.2h0M199.3 111.0h0M199.6 110.8h0M199.9 110.7h0M200.2 110.5h0M200.5 110.3h0M200.8 110.1h0M201.1 109.9h0M201.4 109.7h0M201.7 109.5h0M202.0 109.3h0M202.2 109.1h0M202.5 108.9h0M202.8 108.7h0M203.1 108.5h0M203.4 108.3h0M203.7 108.1h0M204.0 107.9h0M204.3 107.7h0M204.6 107.5h0M204.9 107.3h0M205.2 107.1h0M205.5 106.9h0M205.7 106.7h0M206.0 106.5h0M206.3 106.3h0M206.6 106.2h0M206.9 106.0h0M207.2 105.8h0M207.5 105.6h0M207.8 105.4h0M208.1 105.2h0M208.4 105.0h0M208.7 104.8h0M209.0 104.6h0M209.2 104.4h0M209.5 104.2h0M209.8 104.1h0M210.1 103.9h0M210.4 103.7h0M210.7 103.5h0M211.0 103.3h0M211.3 103.1h0M211.6 102.9h0M211.9 102.7h0M212.2 102.5h0M212.5 102.4h0M212.8 102.2h0M213.0 102.0h0M213.3 101.8h0M213.6 101.6h0M213.9 101.4h0M214.2 101.2h0M214.5 101.0h0M214.8 100.9h0M215.1 100.7h0M215.4 100.5h0M215.7 100.3h0M216.0 100.1h0M216.3 99.9h0M216.5 99.8h0M216.8 99.6h0M217.1 99.4h0M217.4 99.2h0M217.7 99.0h0M218.0 98.8h0M218.3 98.7h0M218.6 98.5h0M218.9 98.3h0M219.2 98.1h0M219.5 97.9h0M219.8 97.7h0M220.0 97.6h0M220.3 97.4h0M220.6 97.2h0M220.9 97.0h0M221.2 96.8h0M221.5 96.7h0M221.8 96.5h0M222.1 96.3h0M222.4 96.1h0M222.7 95.9h0M223.0 95.8h0M223.3 95.6h0M223.5 95.4h0M223.8 95.2h0M224.1 95.1h0M224.4 94.9h0M224.7 94.7h0M225.0 94.5h0M225.3 94.4h0M225.6 94.2h0M225.9 94.0h0M226.2 93.8h0M226.5 93.7h0M226.8 93.5h0M227.0 93.3h0M227.3 93.1h0M227.6 93.0h0M227.9 92.8h0M228.2 92.6h0M228.5 92.4h0M228.8 92.3h0M229.1 92.1h0M229.4 91.9h0M229.7 91.7h0M230.0 91.6h0M230.3 91.4h0M230.6 91.2h0M230.8 91.1h0M231.1 90.9h0M231.4 90.7h0M231.7 90.5h0M232.0 90.4h0M232.3 90.2h0M232.6 90.0h0M232.9 89.9h0M233.2 89.7h0M233.5 89.5h0M233.8 89.4h0M234.1 89.2h0M234.3 89.0h0M234.6 88.9h0M234.9 88.7h0M235.2 88.5h0M235.5 88.4h0M235.8 88.2h0M236.1 88.0h0M236.4 87.9h0M236.7 87.7h0M237.0 87.5h0M237.3 87.4h0M237.6 87.2h0M237.8 87.0h0M238.1 86.9h0M238.4 86.7h0M238.7 86.5h0M239.0 86.4h0M239.3 86.2h0M239.6 86.1h0M239.9 85.9h0M240.2 85.7h0M240.5 85.6h0M240.8 85.4h0M241.1 85.2h0M241.3 85.1h0M241.6 84.9h0M241.9 84.8h0M242.2 84.6h0M242.5 84.4h0M242.8 84.3h0M243.1 84.1h0M243.4 84.0h0M243.7 83.8h0M244.0 83.6h0M244.3 83.5h0M244.6 83.3h0M244.8 83.2h0M245.1 83.0h0M245.4 82.8h0M245.7 82.7h0M246.0 82.5h0M246.3 82.4h0M246.6 82.2h0M246.9 82.1h0M247.2 81.9h0M247.5 81.8h0M247.8 81.6h0M248.1 81.4h0M248.3 81.3h0M248.6 81.1h0M248.9 81.0h0M249.2 80.8h0M249.5 80.7h0M249.8 80.5h0M250.1 80.4h0M250.4 80.2h0M250.7 80.1h0M251.0 79.9h0M251.3 79.8h0M251.6 79.6h0M251.9 79.5h0M252.1 79.3h0M252.4 79.1h0M252.7 79.0h0M253.0 78.8h0M253.3 78.7h0M253.6 78.5h0M253.9 78.4h0M254.2 78.2h0M254.5 78.1h0M254.8 77.9h0M255.1 77.8h0M255.4 77.7h0M255.6 77.5h0M255.9 77.4h0M256.2 77.2h0M256.5 77.1h0M256.8 76.9h0M257.1 76.8h0M257.4 76.6h0M257.7 76.5h0M258.0 76.3h0M258.3 76.2h0M258.6 76.0h0M258.9 75.9h0M259.1 75.7h0M259.4 75.6h0M259.7 75.5h0M260.0 75.3h0M260.3 75.2h0M260.6 75.0h0M260.9 74.9h0M261.2 74.7h0M261.5 74.6h0M261.8 74.5h0M262.1 74.3h0M262.4 74.2h0M262.6 74.0h0M262.9 73.9h0M263.2 73.8h0M263.5 73.6h0M263.8 73.5h0M264.1 73.3h0M264.4 73.2h0M264.7 73.1h0M265.0 72.9h0M265.3 72.8h0M265.6 72.6h0M265.9 72.5h0M266.1 72.4h0M266.4 72.2h0M266.7 72.1h0M267.0 71.9h0M267.3 71.8h0M267.6 71.7h0M267.9 71.5h0M268.2 71.4h0M268.5 71.3h0M268.8 71.1h0M269.1 71.0h0M269.4 70.9h0M269.7 70.7h0M269.9 70.6h0M270.2 70.5h0M270.5 70.3h0M270.8 70.2h0M271.1 70.1h0M271.4 69.9h0M271.7 69.8h0M272.0 69.7h0M272.3 69.5h0M272.6 69.4h0M272.9 69.3h0M273.2 69.1h0M273.4 69.0h0M273.7 68.9h0M274.0 68.7h0M274.3 68.6h0M274.6 68.5h0M274.9 68.3h0M275.2 68.2h0M275.5 68.1h0M275.8 68.0h0M276.1 67.8h0M276.4 67.7h0M276.7 67.6h0M276.9 67.4h0M277.2 67.3h0M277.5 67.2h0M277.8 67.1h0M278.1 66.9h0M278.4 66.8h0M278.7 66.7h0M279.0 66.5h0M279.3 66.4h0M279.6 66.3h0M279.9 66.2h0M280.2 66.0h0M280.4 65.9h0M280.7 65.8h0M281.0 65.7h0M281.3 65.5h0M281.6 65.4h0M281.9 65.3h0M282.2 65.2h0M282.5 65.1h0M282.8 64.9h0M283.1 64.8h0M283.4 64.7h0M283.7 64.6h0M283.9 64.4h0M284.2 64.3h0M284.5 64.2h0M284.8 64.1h0M285.1 64.0h0M285.4 63.8h0M285.7 63.7h0M286.0 63.6h0M286.3 63.5h0M286.6 63.3h0M286.9 63.2h0M287.2 63.1h0M287.5 63.0h0M287.7 62.9h0M288.0 62.8h0M288.3 62.6h0M288.6 62.5h0M288.9 62.4h0M289.2 62.3h0M289.5 62.2h0M289.8 62.0h0M290.1 61.9h0M290.4 61.8h0M290.7 61.7h0M291.0 61.6h0M291.2 61.5h0M291.5 61.3h0M291.8 61.2h0M292.1 61.1h0M292.4 61.0h0M292.7 60.9h0M293.0 60.8h0M293.3 60.7h0M293.6 60.5h0M293.9 60.4h0M294.2 60.3h0M294.5 60.2h0M294.7 60.1h0M295.0 60.0h0M295.3 59.9h0M295.6 59.7h0M295.9 59.6h0M296.2 59.5h0M296.5 59.4h0M296.8 59.3h0M297.1 59.2h0M297.4 59.1h0M297.7 59.0h0M298.0 58.9h0M298.2 58.7h0M298.5 58.6h0M298.8 58.5h0M299.1 58.4h0M299.4 58.3h0M299.7 58.2h0M300.0 58.1h0M300.3 58.0h0M300.6 57.9h0M300.9 57.8h0M301.2 57.7h0M301.5 57.5h0M301.7 57.4h0M302.0 57.3h0M302.3 57.2h0M302.6 57.1h0M302.9 57.0h0M303.2 56.9h0M303.5 56.8h0M303.8 56.7h0M304.1 56.6h0M304.4 56.5h0M304.7 56.4h0M305.0 56.3h0M305.3 56.2h0M305.5 56.1h0M305.8 55.9h0M306.1 55.8h0M306.4 55.7h0M306.7 55.6h0M307.0 55.5h0M307.3 55.4h0M307.6 55.3h0M307.9 55.2h0M308.2 55.1h0M308.5 55.0h0M308.8 54.9h0M309.0 54.8h0M309.3 54.7h0M309.6 54.6h0M309.9 54.5h0M310.2 54.4h0M310.5 54.3h0M310.8 54.2h0M311.1 54.1h0M311.4 54.0h0M311.7 53.9h0M312.0 53.8h0M312.3 53.7h0M312.5 53.6h0M312.8 53.5h0M313.1 53.4h0M313.4 53.3h0M313.7 53.2h0M314.0 53.1h0M314.3 53.0h0M314.6 52.9h0M314.9 52.8h0M315.2 52.7h0M315.5 52.6h0M315.8 52.5h0M316.0 52.4h0M316.3 52.3h0M316.6 52.2h0M316.9 52.1h0M317.2 52.0h0M317.5 51.9h0M317.8 51.8h0M318.1 51.7h0M318.4 51.6h0M318.7 51.5h0M319.0 51.4h0M319.3 51.3h0M319.5 51.2h0M319.8 51.1h0M320.1 51.1h0M320.4 51.0h0M320.7 50.9h0M321.0 50.8h0M321.3 50.7h0" stroke="#00ff00" stroke-width="2.2" stroke-linecap="round" fill="none"/>
</g>
<g clip-path="url(#cr)">
<path d="M388.5 35.4h0M388.8 39.8h0M389.1 40.3h0M389.4 41.5h0M389.7 43.1h0M390.0 44.9h0M390.3 46.8h0M390.5 48.7h0M390.8 50.6h0M391.1 52.6h0M391.4 54.5h0M391.7 56.3h0M392.0 58.1h0M392.3 59.9h0M392.6 61.7h0M392.9 63.3h0M393.2 65.0h0M393.5 66.6h0M393.8 68.2h0M394.0 69.7h0M394.3 71.2h0M394.6 72.6h0M394.9 74.0h0M395.2 75.4h0M395.5 76.7h0M395.8 78.0h0M396.1 79.2h0M396.4 80.5h0M396.7 81.7h0M397.0 82.8h0M397.3 83.9h0M397.6 85.0h0M397.8 86.1h0M398.1 87.1h0M398.4 88.1h0M398.7 89.1h0M399.0 90.1h0M399.3 91.0h0M399.6 91.9h0M399.9 92.8h0M400.2 93.6h0M400.5 94.5h0M400.8 95.3h0M401.1 96.0h0M401.4 96.8h0M401.6 97.5h0M401.9 98.3h0M402.2 98.9h0M402.5 99.6h0M402.8 100.3h0M403.1 100.9h0M403.4 101.5h0M403.7 102.1h0M404.0 102.7h0M404.3 103.3h0M404.6 103.8h0M404.9 104.4h0M405.1 104.9h0M405.4 105.4h0M405.7 105.9h0M406.0 106.3h0M406.3 106.8h0M406.6 107.2h0M406.9 107.6h0M407.2 108.1h0M407.5 108.5h0M407.8 108.9h0M408.1 109.2h0M408.4 109.6h0M408.7 109.9h0M408.9 110.3h0M409.2 110.6h0M409.5 110.9h0M409.8 111.2h0M410.1 111.5h0M410.4 111.8h0M410.7 112.1h0M411.0 112.4h0M411.3 112.6h0M411.6 112.9h0M411.9 113.1h0M412.2 113.3h0M412.5 113.6h0M412.7 113.8h0M413.0 114.0h0M413.3 114.2h0M413.6 114.4h0M413.9 114.6h0M414.2 114.7h0M414.5 114.9h0M414.8 115.1h0M415.1 115.2h0M415.4 115.4h0M415.7 115.5h0M416.0 115.6h0M416.2 115.8h0M416.5 115.9h0M416.8 116.0h0M417.1 116.1h0M417.4 116.2h0M417.7 116.3h0M418.0 116.4h0M418.3 116.5h0M418.6 116.6h0M418.9 116.7h0M419.2 116.8h0M419.5 116.8h0M419.8 116.9h0M420.0 117.0h0M420.3 117.0h0M420.6 117.1h0M420.9 117.1h0M421.2 117.2h0M421.5 117.2h0M421.8 117.3h0M422.1 117.3h0M422.4 117.3h0M422.7 117.4h0M423.0 117.4h0M423.3 117.4h0M423.6 117.4h0M423.8 117.4h0M424.1 117.5h0M424.4 117.5h0M424.7 117.5h0M425.0 117.5h0M425.3 117.5h0M425.6 117.5h0M425.9 117.5h0M426.2 117.5h0M426.5 117.5h0M426.8 117.5h0M427.1 117.4h0M427.3 117.4h0M427.6 117.4h0M427.9 117.4h0M428.2 117.4h0M428.5 117.4h0M428.8 117.3h0M429.1 117.3h0M429.4 117.3h0M429.7 117.2h0M430.0 117.2h0M430.3 117.2h0M430.6 117.1h0M430.9 117.1h0M431.1 117.1h0M431.4 117.0h0M431.7 117.0h0M432.0 117.0h0M432.3 116.9h0M432.6 116.9h0M432.9 116.8h0M433.2 116.8h0M433.5 116.7h0M433.8 116.7h0M434.1 116.6h0M434.4 116.6h0M434.7 116.5h0M434.9 116.5h0M435.2 116.4h0M435.5 116.4h0M435.8 116.3h0M436.1 116.2h0M436.4 116.2h0M436.7 116.1h0M437.0 116.1h0M437.3 116.0h0M437.6 115.9h0M437.9 115.9h0M438.2 115.8h0M438.4 115.7h0M438.7 115.7h0M439.0 115.6h0M439.3 115.5h0M439.6 115.5h0M439.9 115.4h0M440.2 115.3h0M440.5 115.3h0M440.8 115.2h0M441.1 115.1h0M441.4 115.1h0M441.7 115.0h0M442.0 114.9h0M442.2 114.9h0M442.5 114.8h0M442.8 114.7h0M443.1 114.6h0M443.4 114.6h0M443.7 114.5h0M444.0 114.4h0M444.3 114.3h0M444.6 114.3h0M444.9 114.2h0M445.2 114.1h0M445.5 114.0h0M445.8 114.0h0M446.0 113.9h0M446.3 113.8h0M446.6 113.7h0M446.9 113.7h0M447.2 113.6h0M447.5 113.5h0M447.8 113.4h0M448.1 113.4h0M448.4 113.3h0M448.7 113.2h0M449.0 113.1h0M449.3 113.0h0M449.5 113.0h0M449.8 112.9h0M450.1 112.8h0M450.4 112.7h0M450.7 112.7h0M451.0 112.6h0M451.3 112.5h0M451.6 112.4h0M451.9 112.3h0M452.2 112.3h0M452.5 112.2h0M452.8 112.1h0M453.1 112.0h0M453.3 112.0h0M453.6 111.9h0M453.9 111.8h0M454.2 111.7h0M454.5 111.6h0M454.8 111.6h0M455.1 111.5h0M455.4 111.4h0M455.7 111.3h0M456.0 111.2h0M456.3 111.2h0M456.6 111.1h0M456.9 111.0h0M457.1 110.9h0M457.4 110.8h0M457.7 110.8h0M458.0 110.7h0M458.3 110.6h0M458.6 110.5h0M458.9 110.5h0M459.2 110.4h0M459.5 110.3h0M459.8 110.2h0M460.1 110.1h0M460.4 110.1h0M460.6 110.0h0M460.9 109.9h0M461.2 109.8h0M461.5 109.7h0M461.8 109.7h0M462.1 109.6h0M462.4 109.5h0M462.7 109.4h0M463.0 109.4h0M463.3 109.3h0M463.6 109.2h0M463.9 109.1h0M464.2 109.1h0M464.4 109.0h0M464.7 108.9h0M465.0 108.8h0M465.3 108.7h0M465.6 108.7h0M465.9 108.6h0M466.2 108.5h0M466.5 108.4h0M466.8 108.4h0M467.1 108.3h0M467.4 108.2h0M467.7 108.1h0M468.0 108.1h0M468.2 108.0h0M468.5 107.9h0M468.8 107.8h0M469.1 107.8h0M469.4 107.7h0M469.7 107.6h0M470.0 107.5h0M470.3 107.5h0M470.6 107.4h0M470.9 107.3h0M471.2 107.2h0M471.5 107.2h0M471.7 107.1h0M472.0 107.0h0M472.3 107.0h0M472.6 106.9h0M472.9 106.8h0M473.2 106.7h0M473.5 106.7h0M473.8 106.6h0M474.1 106.5h0M474.4 106.4h0M474.7 106.4h0M475.0 106.3h0M475.3 106.2h0M475.5 106.2h0M475.8 106.1h0M476.1 106.0h0M476.4 105.9h0M476.7 105.9h0M477.0 105.8h0M477.3 105.7h0M477.6 105.7h0M477.9 105.6h0M478.2 105.5h0M478.5 105.5h0M478.8 105.4h0M479.1 105.3h0M479.3 105.2h0M479.6 105.2h0M479.9 105.1h0M480.2 105.0h0M480.5 105.0h0M480.8 104.9h0M481.1 104.8h0M481.4 104.8h0M481.7 104.7h0M482.0 104.6h0M482.3 104.6h0M482.6 104.5h0M482.8 104.4h0M483.1 104.4h0M483.4 104.3h0M483.7 104.2h0M484.0 104.2h0M484.3 104.1h0M484.6 104.0h0M484.9 104.0h0M485.2 103.9h0M485.5 103.8h0M485.8 103.8h0M486.1 103.7h0M486.4 103.6h0M486.6 103.6h0M486.9 103.5h0M487.2 103.4h0M487.5 103.4h0M487.8 103.3h0M488.1 103.2h0M488.4 103.2h0M488.7 103.1h0M489.0 103.1h0M489.3 103.0h0M489.6 102.9h0M489.9 102.9h0M490.2 102.8h0M490.4 102.7h0M490.7 102.7h0M491.0 102.6h0M491.3 102.5h0M491.6 102.5h0M491.9 102.4h0M492.2 102.4h0M492.5 102.3h0M492.8 102.2h0M493.1 102.2h0M493.4 102.1h0M493.7 102.1h0M493.9 102.0h0M494.2 101.9h0M494.5 101.9h0M494.8 101.8h0M495.1 101.8h0M495.4 101.7h0M495.7 101.6h0M496.0 101.6h0M496.3 101.5h0M496.6 101.5h0M496.9 101.4h0M497.2 101.3h0M497.5 101.3h0M497.7 101.2h0M498.0 101.2h0M498.3 101.1h0M498.6 101.0h0M498.9 101.0h0M499.2 100.9h0M499.5 100.9h0M499.8 100.8h0M500.1 100.7h0M500.4 100.7h0M500.7 100.6h0M501.0 100.6h0M501.3 100.5h0M501.5 100.5h0M501.8 100.4h0M502.1 100.3h0M502.4 100.3h0M502.7 100.2h0M503.0 100.2h0M503.3 100.1h0M503.6 100.1h0M503.9 100.0h0M504.2 100.0h0M504.5 99.9h0M504.8 99.8h0M505.0 99.8h0M505.3 99.7h0M505.6 99.7h0M505.9 99.6h0M506.2 99.6h0M506.5 99.5h0M506.8 99.5h0M507.1 99.4h0M507.4 99.4h0M507.7 99.3h0M508.0 99.2h0M508.3 99.2h0M508.6 99.1h0M508.8 99.1h0M509.1 99.0h0M509.4 99.0h0M509.7 98.9h0M510.0 98.9h0M510.3 98.8h0M510.6 98.8h0M510.9 98.7h0M511.2 98.7h0M511.5 98.6h0M511.8 98.6h0M512.1 98.5h0M512.4 98.5h0M512.6 98.4h0M512.9 98.4h0M513.2 98.3h0M513.5 98.3h0M513.8 98.2h0M514.1 98.1h0M514.4 98.1h0M514.7 98.0h0M515.0 98.0h0M515.3 97.9h0M515.6 97.9h0M515.9 97.8h0M516.1 97.8h0M516.4 97.7h0M516.7 97.7h0M517.0 97.6h0M517.3 97.6h0M517.6 97.6h0M517.9 97.5h0M518.2 97.5h0M518.5 97.4h0M518.8 97.4h0M519.1 97.3h0M519.4 97.3h0M519.7 97.2h0M519.9 97.2h0M520.2 97.1h0M520.5 97.1h0M520.8 97.0h0M521.1 97.0h0M521.4 96.9h0M521.7 96.9h0M522.0 96.8h0M522.3 96.8h0M522.6 96.7h0M522.9 96.7h0M523.2 96.6h0M523.5 96.6h0M523.7 96.5h0M524.0 96.5h0M524.3 96.5h0M524.6 96.4h0M524.9 96.4h0M525.2 96.3h0M525.5 96.3h0M525.8 96.2h0M526.1 96.2h0M526.4 96.1h0M526.7 96.1h0M527.0 96.0h0M527.2 96.0h0M527.5 96.0h0M527.8 95.9h0M528.1 95.9h0M528.4 95.8h0M528.7 95.8h0M529.0 95.7h0M529.3 95.7h0M529.6 95.6h0M529.9 95.6h0M530.2 95.6h0M530.5 95.5h0M530.8 95.5h0M531.0 95.4h0M531.3 95.4h0M531.6 95.3h0M531.9 95.3h0M532.2 95.3h0M532.5 95.2h0M532.8 95.2h0M533.1 95.1h0M533.4 95.1h0M533.7 95.0h0M534.0 95.0h0M534.3 95.0h0M534.5 94.9h0M534.8 94.9h0M535.1 94.8h0M535.4 94.8h0M535.7 94.8h0M536.0 94.7h0M536.3 94.7h0M536.6 94.6h0M536.9 94.6h0M537.2 94.5h0M537.5 94.5h0M537.8 94.5h0M538.1 94.4h0M538.3 94.4h0M538.6 94.3h0M538.9 94.3h0M539.2 94.3h0M539.5 94.2h0M539.8 94.2h0M540.1 94.1h0M540.4 94.1h0M540.7 94.1h0M541.0 94.0h0M541.3 94.0h0M541.6 93.9h0M541.9 93.9h0M542.1 93.9h0M542.4 93.8h0M542.7 93.8h0M543.0 93.8h0M543.3 93.7h0M543.6 93.7h0M543.9 93.6h0M544.2 93.6h0M544.5 93.6h0M544.8 93.5h0M545.1 93.5h0M545.4 93.4h0M545.6 93.4h0M545.9 93.4h0M546.2 93.3h0M546.5 93.3h0M546.8 93.3h0M547.1 93.2h0M547.4 93.2h0M547.7 93.1h0M548.0 93.1h0M548.3 93.1h0M548.6 93.0h0M548.9 93.0h0M549.2 93.0h0M549.4 92.9h0M549.7 92.9h0M550.0 92.9h0M550.3 92.8h0M550.6 92.8h0M550.9 92.7h0M551.2 92.7h0M551.5 92.7h0M551.8 92.6h0M552.1 92.6h0M552.4 92.6h0M552.7 92.5h0M553.0 92.5h0M553.2 92.5h0M553.5 92.4h0M553.8 92.4h0M554.1 92.4h0M554.4 92.3h0M554.7 92.3h0M555.0 92.3h0M555.3 92.2h0M555.6 92.2h0M555.9 92.2h0M556.2 92.1h0M556.5 92.1h0M556.7 92.0h0M557.0 92.0h0M557.3 92.0h0M557.6 91.9h0M557.9 91.9h0M558.2 91.9h0M558.5 91.8h0M558.8 91.8h0M559.1 91.8h0M559.4 91.7h0M559.7 91.7h0M560.0 91.7h0M560.3 91.6h0M560.5 91.6h0M560.8 91.6h0M561.1 91.6h0M561.4 91.5h0M561.7 91.5h0M562.0 91.5h0M562.3 91.4h0M562.6 91.4h0M562.9 91.4h0M563.2 91.3h0M563.5 91.3h0M563.8 91.3h0M564.1 91.2h0M564.3 91.2h0M564.6 91.2h0M564.9 91.1h0M565.2 91.1h0M565.5 91.1h0M565.8 91.0h0M566.1 91.0h0M566.4 91.0h0M566.7 90.9h0M567.0 90.9h0M567.3 90.9h0M567.6 90.9h0M567.8 90.8h0M568.1 90.8h0M568.4 90.8h0M568.7 90.7h0M569.0 90.7h0M569.3 90.7h0M569.6 90.6h0M569.9 90.6h0M570.2 90.6h0M570.5 90.6h0M570.8 90.5h0M571.1 90.5h0M571.4 90.5h0M571.6 90.4h0M571.9 90.4h0M572.2 90.4h0M572.5 90.3h0M572.8 90.3h0M573.1 90.3h0M573.4 90.3h0M573.7 90.2h0M574.0 90.2h0M574.3 90.2h0M574.6 90.1h0M574.9 90.1h0M575.2 90.1h0M575.4 90.1h0M575.7 90.0h0M576.0 90.0h0M576.3 90.0h0M576.6 89.9h0M576.9 89.9h0M577.2 89.9h0M577.5 89.9h0M577.8 89.8h0M578.1 89.8h0M578.4 89.8h0M578.7 89.7h0M578.9 89.7h0M579.2 89.7h0M579.5 89.7h0M579.8 89.6h0M580.1 89.6h0M580.4 89.6h0M580.7 89.6h0M581.0 89.5h0M581.3 89.5h0M581.6 89.5h0M581.9 89.4h0M582.2 89.4h0M582.5 89.4h0M582.7 89.4h0M583.0 89.3h0M583.3 89.3h0M583.6 89.3h0M583.9 89.3h0M584.2 89.2h0M584.5 89.2h0M584.8 89.2h0M585.1 89.2h0M585.4 89.1h0M585.7 89.1h0M586.0 89.1h0M586.3 89.1h0M586.5 89.0h0M586.8 89.0h0M587.1 89.0h0M587.4 89.0h0M587.7 88.9h0M588.0 88.9h0M588.3 88.9h0M588.6 88.9h0M588.9 88.8h0M589.2 88.8h0M589.5 88.8h0M589.8 88.8h0M590.0 88.7h0M590.3 88.7h0M590.6 88.7h0M590.9 88.7h0M591.2 88.6h0M591.5 88.6h0M591.8 88.6h0M592.1 88.6h0M592.4 88.5h0M592.7 88.5h0M593.0 88.5h0M593.3 88.5h0M593.6 88.4h0M593.8 88.4h0M594.1 88.4h0M594.4 88.4h0M594.7 88.3h0M595.0 88.3h0M595.3 88.3h0M595.6 88.3h0M595.9 88.2h0M596.2 88.2h0M596.5 88.2h0M596.8 88.2h0M597.1 88.2h0M597.4 88.1h0M597.6 88.1h0M597.9 88.1h0M598.2 88.1h0M598.5 88.0h0M598.8 88.0h0M599.1 88.0h0M599.4 88.0h0M599.7 87.9h0M600.0 87.9h0M600.3 87.9h0M600.6 87.9h0M600.9 87.9h0M601.1 87.8h0M601.4 87.8h0M601.7 87.8h0M602.0 87.8h0M602.3 87.7h0M602.6 87.7h0M602.9 87.7h0M603.2 87.7h0M603.5 87.7h0M603.8 87.6h0M604.1 87.6h0M604.4 87.6h0M604.7 87.6h0M604.9 87.5h0M605.2 87.5h0M605.5 87.5h0M605.8 87.5h0M606.1 87.5h0M606.4 87.4h0M606.7 87.4h0M607.0 87.4h0M607.3 87.4h0M607.6 87.4h0M607.9 87.3h0M608.2 87.3h0M608.5 87.3h0M608.7 87.3h0M609.0 87.3h0M609.3 87.2h0M609.6 87.2h0M609.9 87.2h0M610.2 87.2h0M610.5 87.1h0M610.8 87.1h0M611.1 87.1h0M611.4 87.1h0M611.7 87.1h0M612.0 87.0h0M612.2 87.0h0M612.5 87.0h0M612.8 87.0h0M613.1 87.0h0M613.4 86.9h0M613.7 86.9h0M614.0 86.9h0M614.3 86.9h0M614.6 86.9h0M614.9 86.8h0M615.2 86.8h0M615.5 86.8h0M615.8 86.8h0M616.0 86.8h0M616.3 86.7h0M616.6 86.7h0M616.9 86.7h0M617.2 86.7h0M617.5 86.7h0M617.8 86.7h0M618.1 86.6h0M618.4 86.6h0M618.7 86.6h0M619.0 86.6h0M619.3 86.6h0M619.6 86.5h0M619.8 86.5h0M620.1 86.5h0M620.4 86.5h0M620.7 86.5h0M621.0 86.4h0M621.3 86.4h0M621.6 86.4h0M621.9 86.4h0M622.2 86.4h0M622.5 86.4h0M622.8 86.3h0M623.1 86.3h0M623.3 86.3h0M623.6 86.3h0M623.9 86.3h0M624.2 86.2h0M624.5 86.2h0M624.8 86.2h0M625.1 86.2h0M625.4 86.2h0M625.7 86.2h0M626.0 86.1h0M626.3 86.1h0M626.6 86.1h0M626.9 86.1h0M627.1 86.1h0M627.4 86.1h0M627.7 86.0h0M628.0 86.0h0M628.3 86.0h0M628.6 86.0h0M628.9 86.0h0M629.2 85.9h0M629.5 85.9h0M629.8 85.9h0M630.1 85.9h0M630.4 85.9h0M630.7 85.9h0M630.9 85.8h0M631.2 85.8h0M631.5 85.8h0M631.8 85.8h0M632.1 85.8h0M632.4 85.8h0M632.7 85.7h0M633.0 85.7h0M633.3 85.7h0M633.6 85.7h0M633.9 85.7h0M634.2 85.7h0M634.4 85.6h0M634.7 85.6h0M635.0 85.6h0M635.3 85.6h0M635.6 85.6h0M635.9 85.6h0M636.2 85.5h0M636.5 85.5h0M636.8 85.5h0M637.1 85.5h0M637.4 85.5h0M637.7 85.5h0M638.0 85.5h0M638.2 85.4h0M638.5 85.4h0M638.8 85.4h0M639.1 85.4h0M639.4 85.4h0M639.7 85.4h0M640.0 85.3h0M640.3 85.3h0M640.6 85.3h0M640.9 85.3h0M641.2 85.3h0M641.5 85.3h0M641.8 85.3h0M642.0 85.2h0M642.3 85.2h0M642.6 85.2h0M642.9 85.2h0M643.2 85.2h0M643.5 85.2h0M643.8 85.1h0M644.1 85.1h0M644.4 85.1h0M644.7 85.1h0M645.0 85.1h0M645.3 85.1h0M645.5 85.1h0M645.8 85.0h0M646.1 85.0h0M646.4 85.0h0M646.7 85.0h0M647.0 85.0h0M647.3 85.0h0M647.6 85.0h0M647.9 84.9h0M648.2 84.9h0M648.5 84.9h0M648.8 84.9h0M649.1 84.9h0M649.3 84.9h0M649.6 84.9h0M649.9 84.8h0M650.2 84.8h0M650.5 84.8h0M650.8 84.8h0M651.1 84.8h0M651.4 84.8h0M651.7 84.8h0M652.0 84.7h0M652.3 84.7h0M652.6 84.7h0M652.9 84.7h0M653.1 84.7h0M653.4 84.7h0M653.7 84.7h0M654.0 84.6h0M654.3 84.6h0M654.6 84.6h0M654.9 84.6h0M655.2 84.6h0M655.5 84.6h0M655.8 84.6h0M656.1 84.6h0M656.4 84.5h0M656.6 84.5h0M656.9 84.5h0M657.2 84.5h0M657.5 84.5h0M657.8 84.5h0M658.1 84.5h0M658.4 84.4h0M658.7 84.4h0M659.0 84.4h0M659.3 84.4h0M659.6 84.4h0M659.9 84.4h0M660.2 84.4h0M660.4 84.4h0M660.7 84.3h0M661.0 84.3h0M661.3 84.3h0M661.6 84.3h0M661.9 84.3h0M662.2 84.3h0M662.5 84.3h0M662.8 84.3h0M663.1 84.2h0M663.4 84.2h0M663.7 84.2h0M664.0 84.2h0M664.2 84.2h0M664.5 84.2h0M664.8 84.2h0M665.1 84.2h0M665.4 84.1h0M665.7 84.1h0M666.0 84.1h0M666.3 84.1h0M666.6 84.1h0M666.9 84.1h0M667.2 84.1h0M667.5 84.1h0M667.7 84.0h0M668.0 84.0h0M668.3 84.0h0M668.6 84.0h0M668.9 84.0h0M669.2 84.0h0M669.5 84.0h0M669.8 84.0h0M670.1 84.0h0M670.4 83.9h0M670.7 83.9h0M671.0 83.9h0M671.3 83.9h0M671.5 83.9h0M671.8 83.9h0M672.1 83.9h0M672.4 83.9h0M672.7 83.8h0M673.0 83.8h0M673.3 83.8h0M673.6 83.8h0M673.9 83.8h0M674.2 83.8h0M674.5 83.8h0M674.8 83.8h0M675.1 83.8h0M675.3 83.7h0M675.6 83.7h0M675.9 83.7h0M676.2 83.7h0M676.5 83.7h0M676.8 83.7h0M677.1 83.7h0M677.4 83.7h0M677.7 83.7h0M678.0 83.6h0M678.3 83.6h0M678.6 83.6h0M678.8 83.6h0M679.1 83.6h0M679.4 83.6h0M679.7 83.6h0M680.0 83.6h0M680.3 83.6h0M680.6 83.6h0" stroke="#ff0000" stroke-width="2.2" stroke-linecap="round" fill="none"/>
<path d="M388.5 33.3h0M388.8 41.5h0M389.1 45.6h0M389.4 49.3h0M389.7 52.9h0M390.0 56.2h0M390.3 59.3h0M390.5 62.3h0M390.8 65.1h0M391.1 67.8h0M391.4 70.4h0M391.7 72.9h0M392.0 75.2h0M392.3 77.5h0M392.6 79.7h0M392.9 81.8h0M393.2 83.8h0M393.5 85.8h0M393.8 87.7h0M394.0 89.5h0M394.3 91.3h0M394.6 93.0h0M394.9 94.7h0M395.2 96.4h0M395.5 97.9h0M395.8 99.5h0M396.1 101.0h0M396.4 102.4h0M396.7 103.8h0M397.0 105.2h0M397.3 106.6h0M397.6 107.9h0M397.8 109.1h0M398.1 110.4h0M398.4 111.5h0M398.7 112.7h0M399.0 113.8h0M399.3 114.9h0M399.6 116.0h0M399.9 117.0h0M400.2 118.1h0M400.5 119.0h0M400.8 120.0h0M401.1 120.9h0M401.4 121.8h0M401.6 122.7h0M401.9 123.6h0M402.2 124.4h0M402.5 125.2h0M402.8 126.0h0M403.1 126.7h0M403.4 127.5h0M403.7 128.2h0M404.0 128.9h0M404.3 129.5h0M404.6 130.2h0M404.9 130.8h0M405.1 131.4h0M405.4 132.0h0M405.7 132.6h0M406.0 133.2h0M406.3 133.7h0M406.6 134.2h0M406.9 134.7h0M407.2 135.2h0M407.5 135.7h0M407.8 136.2h0M408.1 136.6h0M408.4 137.0h0M408.7 137.4h0M408.9 137.8h0M409.2 138.2h0M409.5 138.6h0M409.8 138.9h0M410.1 139.3h0M410.4 139.6h0M410.7 139.9h0M411.0 140.3h0M411.3 140.5h0M411.6 140.8h0M411.9 141.1h0M412.2 141.4h0M412.5 141.6h0M412.7 141.9h0M413.0 142.1h0M413.3 142.3h0M413.6 142.5h0M413.9 142.7h0M414.2 142.9h0M414.5 143.1h0M414.8 143.3h0M415.1 143.4h0M415.4 143.6h0M415.7 143.7h0M416.0 143.9h0M416.2 144.0h0M416.5 144.1h0M416.8 144.2h0M417.1 144.3h0M417.4 144.4h0M417.7 144.5h0M418.0 144.6h0M418.3 144.7h0M418.6 144.8h0M418.9 144.8h0M419.2 144.9h0M419.5 145.0h0M419.8 145.0h0M420.0 145.1h0M420.3 145.1h0M420.6 145.1h0M420.9 145.2h0M421.2 145.2h0M421.5 145.2h0M421.8 145.2h0M422.1 145.2h0M422.4 145.2h0M422.7 145.2h0M423.0 145.2h0M423.3 145.2h0M423.6 145.2h0M423.8 145.2h0M424.1 145.1h0M424.4 145.1h0M424.7 145.1h0M425.0 145.0h0M425.3 145.0h0M425.6 144.9h0M425.9 144.9h0M426.2 144.9h0M426.5 144.8h0M426.8 144.7h0M427.1 144.7h0M427.3 144.6h0M427.6 144.6h0M427.9 144.5h0M428.2 144.4h0M428.5 144.3h0M428.8 144.3h0M429.1 144.2h0M429.4 144.1h0M429.7 144.0h0M430.0 143.9h0M430.3 143.8h0M430.6 143.7h0M430.9 143.7h0M431.1 143.6h0M431.4 143.5h0M431.7 143.4h0M432.0 143.3h0M432.3 143.2h0M432.6 143.0h0M432.9 142.9h0M433.2 142.8h0M433.5 142.7h0M433.8 142.6h0M434.1 142.5h0M434.4 142.4h0M434.7 142.3h0M434.9 142.1h0M435.2 142.0h0M435.5 141.9h0M435.8 141.8h0M436.1 141.6h0M436.4 141.5h0M436.7 141.4h0M437.0 141.3h0M437.3 141.1h0M437.6 141.0h0M437.9 140.9h0M438.2 140.7h0M438.4 140.6h0M438.7 140.5h0M439.0 140.3h0M439.3 140.2h0M439.6 140.1h0M439.9 139.9h0M440.2 139.8h0M440.5 139.6h0M440.8 139.5h0M441.1 139.4h0M441.4 139.2h0M441.7 139.1h0M442.0 138.9h0M442.2 138.8h0M442.5 138.7h0M442.8 138.5h0M443.1 138.4h0M443.4 138.2h0M443.7 138.1h0M444.0 137.9h0M444.3 137.8h0M444.6 137.6h0M444.9 137.5h0M445.2 137.3h0M445.5 137.2h0M445.8 137.0h0M446.0 136.9h0M446.3 136.7h0M446.6 136.6h0M446.9 136.4h0M447.2 136.3h0M447.5 136.1h0M447.8 136.0h0M448.1 135.8h0M448.4 135.7h0M448.7 135.5h0M449.0 135.4h0M449.3 135.2h0M449.5 135.1h0M449.8 134.9h0M450.1 134.8h0M450.4 134.6h0M450.7 134.5h0M451.0 134.3h0M451.3 134.1h0M451.6 134.0h0M451.9 133.8h0M452.2 133.7h0M452.5 133.5h0M452.8 133.4h0M453.1 133.2h0M453.3 133.1h0M453.6 132.9h0M453.9 132.8h0M454.2 132.6h0M454.5 132.5h0M454.8 132.3h0M455.1 132.2h0M455.4 132.0h0M455.7 131.9h0M456.0 131.7h0M456.3 131.5h0M456.6 131.4h0M456.9 131.2h0M457.1 131.1h0M457.4 130.9h0M457.7 130.8h0M458.0 130.6h0M458.3 130.5h0M458.6 130.3h0M458.9 130.2h0M459.2 130.0h0M459.5 129.9h0M459.8 129.7h0M460.1 129.6h0M460.4 129.4h0M460.6 129.3h0M460.9 129.1h0M461.2 129.0h0M461.5 128.8h0M461.8 128.7h0M462.1 128.5h0M462.4 128.4h0M462.7 128.2h0M463.0 128.1h0M463.3 127.9h0M463.6 127.8h0M463.9 127.6h0M464.2 127.5h0M464.4 127.3h0M464.7 127.2h0M465.0 127.1h0M465.3 126.9h0M465.6 126.8h0M465.9 126.6h0M466.2 126.5h0M466.5 126.3h0M466.8 126.2h0M467.1 126.0h0M467.4 125.9h0M467.7 125.7h0M468.0 125.6h0M468.2 125.5h0M468.5 125.3h0M468.8 125.2h0M469.1 125.0h0M469.4 124.9h0M469.7 124.7h0M470.0 124.6h0M470.3 124.5h0M470.6 124.3h0M470.9 124.2h0M471.2 124.0h0M471.5 123.9h0M471.7 123.8h0M472.0 123.6h0M472.3 123.5h0M472.6 123.3h0M472.9 123.2h0M473.2 123.1h0M473.5 122.9h0M473.8 122.8h0M474.1 122.6h0M474.4 122.5h0M474.7 122.4h0M475.0 122.2h0M475.3 122.1h0M475.5 122.0h0M475.8 121.8h0M476.1 121.7h0M476.4 121.6h0M476.7 121.4h0M477.0 121.3h0M477.3 121.2h0M477.6 121.0h0M477.9 120.9h0M478.2 120.8h0M478.5 120.6h0M478.8 120.5h0M479.1 120.4h0M479.3 120.2h0M479.6 120.1h0M479.9 120.0h0M480.2 119.8h0M480.5 119.7h0M480.8 119.6h0M481.1 119.5h0M481.4 119.3h0M481.7 119.2h0M482.0 119.1h0M482.3 118.9h0M482.6 118.8h0M482.8 118.7h0M483.1 118.6h0M483.4 118.4h0M483.7 118.3h0M484.0 118.2h0M484.3 118.1h0M484.6 117.9h0M484.9 117.8h0M485.2 117.7h0M485.5 117.6h0M485.8 117.4h0M486.1 117.3h0M486.4 117.2h0M486.6 117.1h0M486.9 116.9h0M487.2 116.8h0M487.5 116.7h0M487.8 116.6h0M488.1 116.5h0M488.4 116.3h0M488.7 116.2h0M489.0 116.1h0M489.3 116.0h0M489.6 115.9h0M489.9 115.7h0M490.2 115.6h0M490.4 115.5h0M490.7 115.4h0M491.0 115.3h0M491.3 115.1h0M491.6 115.0h0M491.9 114.9h0M492.2 114.8h0M492.5 114.7h0M492.8 114.6h0M493.1 114.4h0M493.4 114.3h0M493.7 114.2h0M493.9 114.1h0M494.2 114.0h0M494.5 113.9h0M494.8 113.8h0M495.1 113.6h0M495.4 113.5h0M495.7 113.4h0M496.0 113.3h0M496.3 113.2h0M496.6 113.1h0M496.9 113.0h0M497.2 112.9h0M497.5 112.8h0M497.7 112.6h0M498.0 112.5h0M498.3 112.4h0M498.6 112.3h0M498.9 112.2h0M499.2 112.1h0M499.5 112.0h0M499.8 111.9h0M500.1 111.8h0M500.4 111.7h0M500.7 111.6h0M501.0 111.5h0M501.3 111.4h0M501.5 111.2h0M501.8 111.1h0M502.1 111.0h0M502.4 110.9h0M502.7 110.8h0M503.0 110.7h0M503.3 110.6h0M503.6 110.5h0M503.9 110.4h0M504.2 110.3h0M504.5 110.2h0M504.8 110.1h0M505.0 110.0h0M505.3 109.9h0M505.6 109.8h0M505.9 109.7h0M506.2 109.6h0M506.5 109.5h0M506.8 109.4h0M507.1 109.3h0M507.4 109.2h0M507.7 109.1h0M508.0 109.0h0M508.3 108.9h0M508.6 108.8h0M508.8 108.7h0M509.1 108.6h0M509.4 108.5h0M509.7 108.4h0M510.0 108.3h0M510.3 108.2h0M510.6 108.1h0M510.9 108.0h0M511.2 107.9h0M511.5 107.8h0M511.8 107.7h0M512.1 107.6h0M512.4 107.5h0M512.6 107.4h0M512.9 107.4h0M513.2 107.3h0M513.5 107.2h0M513.8 107.1h0M514.1 107.0h0M514.4 106.9h0M514.7 106.8h0M515.0 106.7h0M515.3 106.6h0M515.6 106.5h0M515.9 106.4h0M516.1 106.3h0M516.4 106.2h0M516.7 106.2h0M517.0 106.1h0M517.3 106.0h0M517.6 105.9h0M517.9 105.8h0M518.2 105.7h0M518.5 105.6h0M518.8 105.5h0M519.1 105.4h0M519.4 105.3h0M519.7 105.3h0M519.9 105.2h0M520.2 105.1h0M520.5 105.0h0M520.8 104.9h0M521.1 104.8h0M521.4 104.7h0M521.7 104.7h0M522.0 104.6h0M522.3 104.5h0M522.6 104.4h0M522.9 104.3h0M523.2 104.2h0M523.5 104.1h0M523.7 104.1h0M524.0 104.0h0M524.3 103.9h0M524.6 103.8h0M524.9 103.7h0M525.2 103.6h0M525.5 103.6h0M525.8 103.5h0M526.1 103.4h0M526.4 103.3h0M526.7 103.2h0M527.0 103.1h0M527.2 103.1h0M527.5 103.0h0M527.8 102.9h0M528.1 102.8h0M528.4 102.7h0M528.7 102.7h0M529.0 102.6h0M529.3 102.5h0M529.6 102.4h0M529.9 102.3h0M530.2 102.3h0M530.5 102.2h0M530.8 102.1h0M531.0 102.0h0M531.3 102.0h0M531.6 101.9h0M531.9 101.8h0M532.2 101.7h0M532.5 101.6h0M532.8 101.6h0M533.1 101.5h0M533.4 101.4h0M533.7 101.3h0M534.0 101.3h0M534.3 101.2h0M534.5 101.1h0M534.8 101.0h0M535.1 101.0h0M535.4 100.9h0M535.7 100.8h0M536.0 100.7h0M536.3 100.7h0M536.6 100.6h0M536.9 100.5h0M537.2 100.4h0M537.5 100.4h0M537.8 100.3h0M538.1 100.2h0M538.3 100.2h0M538.6 100.1h0M538.9 100.0h0M539.2 99.9h0M539.5 99.9h0M539.8 99.8h0M540.1 99.7h0M540.4 99.7h0M540.7 99.6h0M541.0 99.5h0M541.3 99.4h0M541.6 99.4h0M541.9 99.3h0M542.1 99.2h0M542.4 99.2h0M542.7 99.1h0M543.0 99.0h0M543.3 99.0h0M543.6 98.9h0M543.9 98.8h0M544.2 98.8h0M544.5 98.7h0M544.8 98.6h0M545.1 98.6h0M545.4 98.5h0M545.6 98.4h0M545.9 98.4h0M546.2 98.3h0M546.5 98.2h0M546.8 98.2h0M547.1 98.1h0M547.4 98.0h0M547.7 98.0h0M548.0 97.9h0M548.3 97.8h0M548.6 97.8h0M548.9 97.7h0M549.2 97.6h0M549.4 97.6h0M549.7 97.5h0M550.0 97.4h0M550.3 97.4h0M550.6 97.3h0M550.9 97.3h0M551.2 97.2h0M551.5 97.1h0M551.8 97.1h0M552.1 97.0h0M552.4 96.9h0M552.7 96.9h0M553.0 96.8h0M553.2 96.8h0M553.5 96.7h0M553.8 96.6h0M554.1 96.6h0M554.4 96.5h0M554.7 96.4h0M555.0 96.4h0M555.3 96.3h0M555.6 96.3h0M555.9 96.2h0M556.2 96.1h0M556.5 96.1h0M556.7 96.0h0M557.0 96.0h0M557.3 95.9h0M557.6 95.8h0M557.9 95.8h0M558.2 95.7h0M558.5 95.7h0M558.8 95.6h0M559.1 95.6h0M559.4 95.5h0M559.7 95.4h0M560.0 95.4h0M560.3 95.3h0M560.5 95.3h0M560.8 95.2h0M561.1 95.2h0M561.4 95.1h0M561.7 95.0h0M562.0 95.0h0M562.3 94.9h0M562.6 94.9h0M562.9 94.8h0M563.2 94.8h0M563.5 94.7h0M563.8 94.6h0M564.1 94.6h0M564.3 94.5h0M564.6 94.5h0M564.9 94.4h0M565.2 94.4h0M565.5 94.3h0M565.8 94.3h0M566.1 94.2h0M566.4 94.2h0M566.7 94.1h0M567.0 94.1h0M567.3 94.0h0M567.6 93.9h0M567.8 93.9h0M568.1 93.8h0M568.4 93.8h0M568.7 93.7h0M569.0 93.7h0M569.3 93.6h0M569.6 93.6h0M569.9 93.5h0M570.2 93.5h0M570.5 93.4h0M570.8 93.4h0M571.1 93.3h0M571.4 93.3h0M571.6 93.2h0M571.9 93.2h0M572.2 93.1h0M572.5 93.1h0M572.8 93.0h0M573.1 93.0h0M573.4 92.9h0M573.7 92.9h0M574.0 92.8h0M574.3 92.8h0M574.6 92.7h0M574.9 92.7h0M575.2 92.6h0M575.4 92.6h0M575.7 92.5h0M576.0 92.5h0M576.3 92.4h0M576.6 92.4h0M576.9 92.3h0M577.2 92.3h0M577.5 92.2h0M577.8 92.2h0M578.1 92.1h0M578.4 92.1h0M578.7 92.0h0M578.9 92.0h0M579.2 91.9h0M579.5 91.9h0M579.8 91.9h0M580.1 91.8h0M580.4 91.8h0M580.7 91.7h0M581.0 91.7h0M581.3 91.6h0M581.6 91.6h0M581.9 91.5h0M582.2 91.5h0M582.5 91.4h0M582.7 91.4h0M583.0 91.4h0M583.3 91.3h0M583.6 91.3h0M583.9 91.2h0M584.2 91.2h0M584.5 91.1h0M584.8 91.1h0M585.1 91.0h0M585.4 91.0h0M585.7 91.0h0M586.0 90.9h0M586.3 90.9h0M586.5 90.8h0M586.8 90.8h0M587.1 90.7h0M587.4 90.7h0M587.7 90.6h0M588.0 90.6h0M588.3 90.6h0M588.6 90.5h0M588.9 90.5h0M589.2 90.4h0M589.5 90.4h0M589.8 90.3h0M590.0 90.3h0M590.3 90.3h0M590.6 90.2h0M590.9 90.2h0M591.2 90.1h0M591.5 90.1h0M591.8 90.1h0M592.1 90.0h0M592.4 90.0h0M592.7 89.9h0M593.0 89.9h0M593.3 89.9h0M593.6 89.8h0M593.8 89.8h0M594.1 89.7h0M594.4 89.7h0M594.7 89.7h0M595.0 89.6h0M595.3 89.6h0M595.6 89.5h0M595.9 89.5h0M596.2 89.5h0M596.5 89.4h0M596.8 89.4h0M597.1 89.3h0M597.4 89.3h0M597.6 89.3h0M597.9 89.2h0M598.2 89.2h0M598.5 89.1h0M598.8 89.1h0M599.1 89.1h0M599.4 89.0h0M599.7 89.0h0M600.0 89.0h0M600.3 88.9h0M600.6 88.9h0M600.9 88.8h0M601.1 88.8h0M601.4 88.8h0M601.7 88.7h0M602.0 88.7h0M602.3 88.7h0M602.6 88.6h0M602.9 88.6h0M603.2 88.5h0M603.5 88.5h0M603.8 88.5h0M604.1 88.4h0M604.4 88.4h0M604.7 88.4h0M604.9 88.3h0M605.2 88.3h0M605.5 88.3h0M605.8 88.2h0M606.1 88.2h0M606.4 88.2h0M606.7 88.1h0M607.0 88.1h0M607.3 88.0h0M607.6 88.0h0M607.9 88.0h0M608.2 87.9h0M608.5 87.9h0M608.7 87.9h0M609.0 87.8h0M609.3 87.8h0M609.6 87.8h0M609.9 87.7h0M610.2 87.7h0M610.5 87.7h0M610.8 87.6h0M611.1 87.6h0M611.4 87.6h0M611.7 87.5h0M612.0 87.5h0M612.2 87.5h0M612.5 87.4h0M612.8 87.4h0M613.1 87.4h0M613.4 87.3h0M613.7 87.3h0M614.0 87.3h0M614.3 87.2h0M614.6 87.2h0M614.9 87.2h0M615.2 87.1h0M615.5 87.1h0M615.8 87.1h0M616.0 87.0h0M616.3 87.0h0M616.6 87.0h0M616.9 87.0h0M617.2 86.9h0M617.5 86.9h0M617.8 86.9h0M618.1 86.8h0M618.4 86.8h0M618.7 86.8h0M619.0 86.7h0M619.3 86.7h0M619.6 86.7h0M619.8 86.6h0M620.1 86.6h0M620.4 86.6h0M620.7 86.6h0M621.0 86.5h0M621.3 86.5h0M621.6 86.5h0M621.9 86.4h0M622.2 86.4h0M622.5 86.4h0M622.8 86.3h0M623.1 86.3h0M623.3 86.3h0M623.6 86.3h0M623.9 86.2h0M624.2 86.2h0M624.5 86.2h0M624.8 86.1h0M625.1 86.1h0M625.4 86.1h0M625.7 86.0h0M626.0 86.0h0M626.3 86.0h0M626.6 86.0h0M626.9 85.9h0M627.1 85.9h0M627.4 85.9h0M627.7 85.9h0M628.0 85.8h0M628.3 85.8h0M628.6 85.8h0M628.9 85.7h0M629.2 85.7h0M629.5 85.7h0M629.8 85.7h0M630.1 85.6h0M630.4 85.6h0M630.7 85.6h0M630.9 85.5h0M631.2 85.5h0M631.5 85.5h0M631.8 85.5h0M632.1 85.4h0M632.4 85.4h0M632.7 85.4h0M633.0 85.4h0M633.3 85.3h0M633.6 85.3h0M633.9 85.3h0M634.2 85.3h0M634.4 85.2h0M634.7 85.2h0M635.0 85.2h0M635.3 85.1h0M635.6 85.1h0M635.9 85.1h0M636.2 85.1h0M636.5 85.0h0M636.8 85.0h0M637.1 85.0h0M637.4 85.0h0M637.7 84.9h0M638.0 84.9h0M638.2 84.9h0M638.5 84.9h0M638.8 84.8h0M639.1 84.8h0M639.4 84.8h0M639.7 84.8h0M640.0 84.7h0M640.3 84.7h0M640.6 84.7h0M640.9 84.7h0M641.2 84.6h0M641.5 84.6h0M641.8 84.6h0M642.0 84.6h0M642.3 84.5h0M642.6 84.5h0M642.9 84.5h0M643.2 84.5h0M643.5 84.5h0M643.8 84.4h0M644.1 84.4h0M644.4 84.4h0M644.7 84.4h0M645.0 84.3h0M645.3 84.3h0M645.5 84.3h0M645.8 84.3h0M646.1 84.2h0M646.4 84.2h0M646.7 84.2h0M647.0 84.2h0M647.3 84.1h0M647.6 84.1h0M647.9 84.1h0M648.2 84.1h0M648.5 84.1h0M648.8 84.0h0M649.1 84.0h0M649.3 84.0h0M649.6 84.0h0M649.9 83.9h0M650.2 83.9h0M650.5 83.9h0M650.8 83.9h0M651.1 83.9h0M651.4 83.8h0M651.7 83.8h0M652.0 83.8h0M652.3 83.8h0M652.6 83.7h0M652.9 83.7h0M653.1 83.7h0M653.4 83.7h0M653.7 83.7h0M654.0 83.6h0M654.3 83.6h0M654.6 83.6h0M654.9 83.6h0M655.2 83.6h0M655.5 83.5h0M655.8 83.5h0M656.1 83.5h0M656.4 83.5h0M656.6 83.4h0M656.9 83.4h0M657.2 83.4h0M657.5 83.4h0M657.8 83.4h0M658.1 83.3h0M658.4 83.3h0M658.7 83.3h0M659.0 83.3h0M659.3 83.3h0M659.6 83.2h0M659.9 83.2h0M660.2 83.2h0M660.4 83.2h0M660.7 83.2h0M661.0 83.1h0M661.3 83.1h0M661.6 83.1h0M661.9 83.1h0M662.2 83.1h0M662.5 83.0h0M662.8 83.0h0M663.1 83.0h0M663.4 83.0h0M663.7 83.0h0M664.0 82.9h0M664.2 82.9h0M664.5 82.9h0M664.8 82.9h0M665.1 82.9h0M665.4 82.9h0M665.7 82.8h0M666.0 82.8h0M666.3 82.8h0M666.6 82.8h0M666.9 82.8h0M667.2 82.7h0M667.5 82.7h0M667.7 82.7h0M668.0 82.7h0M668.3 82.7h0M668.6 82.6h0M668.9 82.6h0M669.2 82.6h0M669.5 82.6h0M669.8 82.6h0M670.1 82.6h0M670.4 82.5h0M670.7 82.5h0M671.0 82.5h0M671.3 82.5h0M671.5 82.5h0M671.8 82.5h0M672.1 82.4h0M672.4 82.4h0M672.7 82.4h0M673.0 82.4h0M673.3 82.4h0M673.6 82.3h0M673.9 82.3h0M674.2 82.3h0M674.5 82.3h0M674.8 82.3h0M675.1 82.3h0M675.3 82.2h0M675.6 82.2h0M675.9 82.2h0M676.2 82.2h0M676.5 82.2h0M676.8 82.2h0M677.1 82.1h0M677.4 82.1h0M677.7 82.1h0M678.0 82.1h0M678.3 82.1h0M678.6 82.1h0M678.8 82.0h0M679.1 82.0h0M679.4 82.0h0M679.7 82.0h0M680.0 82.0h0M680.3 82.0h0M680.6 81.9h0" stroke="#000000" stroke-width="2.2" stroke-linecap="round" fill="none"/>
<path d="M388.5 31.0h0M388.8 42.0h0M389.1 46.1h0M389.4 50.1h0M389.7 54.0h0M390.0 57.8h0M390.3 61.4h0M390.5 65.0h0M390.8 68.4h0M391.1 71.7h0M391.4 75.0h0M391.7 78.1h0M392.0 81.1h0M392.3 84.1h0M392.6 87.0h0M392.9 89.7h0M393.2 92.4h0M393.5 95.0h0M393.8 97.6h0M394.0 100.1h0M394.3 102.4h0M394.6 104.8h0M394.9 107.0h0M395.2 109.2h0M395.5 111.3h0M395.8 113.4h0M396.1 115.4h0M396.4 117.3h0M396.7 119.2h0M397.0 121.0h0M397.3 122.7h0M397.6 124.4h0M397.8 126.1h0M398.1 127.7h0M398.4 129.3h0M398.7 130.8h0M399.0 132.2h0M399.3 133.7h0M399.6 135.0h0M399.9 136.4h0M400.2 137.7h0M400.5 138.9h0M400.8 140.1h0M401.1 141.3h0M401.4 142.5h0M401.6 143.6h0M401.9 144.6h0M402.2 145.7h0M402.5 146.7h0M402.8 147.6h0M403.1 148.6h0M403.4 149.5h0M403.7 150.4h0M404.0 151.2h0M404.3 152.0h0M404.6 152.8h0M404.9 153.6h0M405.1 154.3h0M405.4 155.1h0M405.7 155.8h0M406.0 156.4h0M406.3 157.1h0M406.6 157.7h0M406.9 158.3h0M407.2 158.9h0M407.5 159.4h0M407.8 160.0h0M408.1 160.5h0M408.4 161.0h0M408.7 161.5h0M408.9 162.0h0M409.2 162.4h0M409.5 162.8h0M409.8 163.2h0M410.1 163.6h0M410.4 164.0h0M410.7 164.4h0M411.0 164.7h0M411.3 165.1h0M411.6 165.4h0M411.9 165.7h0M412.2 166.0h0M412.5 166.3h0M412.7 166.6h0M413.0 166.8h0M413.3 167.1h0M413.6 167.3h0M413.9 167.5h0M414.2 167.7h0M414.5 167.9h0M414.8 168.1h0M415.1 168.3h0M415.4 168.4h0M415.7 168.6h0M416.0 168.7h0M416.2 168.9h0M416.5 169.0h0M416.8 169.1h0M417.1 169.2h0M417.4 169.3h0M417.7 169.4h0M418.0 169.5h0M418.3 169.6h0M418.6 169.6h0M418.9 169.7h0M419.2 169.8h0M419.5 169.8h0M419.8 169.8h0M420.0 169.9h0M420.3 169.9h0M420.6 169.9h0M420.9 169.9h0M421.2 169.9h0M421.5 169.9h0M421.8 169.9h0M422.1 169.9h0M422.4 169.9h0M422.7 169.9h0M423.0 169.9h0M423.3 169.8h0M423.6 169.8h0M423.8 169.7h0M424.1 169.7h0M424.4 169.6h0M424.7 169.6h0M425.0 169.5h0M425.3 169.5h0M425.6 169.4h0M425.9 169.3h0M426.2 169.2h0M426.5 169.1h0M426.8 169.1h0M427.1 169.0h0M427.3 168.9h0M427.6 168.8h0M427.9 168.7h0M428.2 168.6h0M428.5 168.5h0M428.8 168.4h0M429.1 168.2h0M429.4 168.1h0M429.7 168.0h0M430.0 167.9h0M430.3 167.8h0M430.6 167.6h0M430.9 167.5h0M431.1 167.4h0M431.4 167.2h0M431.7 167.1h0M432.0 167.0h0M432.3 166.8h0M432.6 166.7h0M432.9 166.5h0M433.2 166.4h0M433.5 166.2h0M433.8 166.1h0M434.1 165.9h0M434.4 165.8h0M434.7 165.6h0M434.9 165.4h0M435.2 165.3h0M435.5 165.1h0M435.8 164.9h0M436.1 164.8h0M436.4 164.6h0M436.7 164.4h0M437.0 164.3h0M437.3 164.1h0M437.6 163.9h0M437.9 163.7h0M438.2 163.6h0M438.4 163.4h0M438.7 163.2h0M439.0 163.0h0M439.3 162.8h0M439.6 162.7h0M439.9 162.5h0M440.2 162.3h0M440.5 162.1h0M440.8 161.9h0M441.1 161.7h0M441.4 161.5h0M441.7 161.3h0M442.0 161.1h0M442.2 161.0h0M442.5 160.8h0M442.8 160.6h0M443.1 160.4h0M443.4 160.2h0M443.7 160.0h0M444.0 159.8h0M444.3 159.6h0M444.6 159.4h0M444.9 159.2h0M445.2 159.0h0M445.5 158.8h0M445.8 158.6h0M446.0 158.4h0M446.3 158.2h0M446.6 158.0h0M446.9 157.8h0M447.2 157.6h0M447.5 157.4h0M447.8 157.2h0M448.1 157.0h0M448.4 156.8h0M448.7 156.6h0M449.0 156.4h0M449.3 156.2h0M449.5 156.0h0M449.8 155.8h0M450.1 155.6h0M450.4 155.3h0M450.7 155.1h0M451.0 154.9h0M451.3 154.7h0M451.6 154.5h0M451.9 154.3h0M452.2 154.1h0M452.5 153.9h0M452.8 153.7h0M453.1 153.5h0M453.3 153.3h0M453.6 153.1h0M453.9 152.9h0M454.2 152.7h0M454.5 152.5h0M454.8 152.3h0M455.1 152.0h0M455.4 151.8h0M455.7 151.6h0M456.0 151.4h0M456.3 151.2h0M456.6 151.0h0M456.9 150.8h0M457.1 150.6h0M457.4 150.4h0M457.7 150.2h0M458.0 150.0h0M458.3 149.8h0M458.6 149.6h0M458.9 149.4h0M459.2 149.2h0M459.5 149.0h0M459.8 148.7h0M460.1 148.5h0M460.4 148.3h0M460.6 148.1h0M460.9 147.9h0M461.2 147.7h0M461.5 147.5h0M461.8 147.3h0M462.1 147.1h0M462.4 146.9h0M462.7 146.7h0M463.0 146.5h0M463.3 146.3h0M463.6 146.1h0M463.9 145.9h0M464.2 145.7h0M464.4 145.5h0M464.7 145.3h0M465.0 145.1h0M465.3 144.9h0M465.6 144.7h0M465.9 144.5h0M466.2 144.3h0M466.5 144.1h0M466.8 143.9h0M467.1 143.7h0M467.4 143.5h0M467.7 143.3h0M468.0 143.1h0M468.2 142.9h0M468.5 142.7h0M468.8 142.5h0M469.1 142.3h0M469.4 142.1h0M469.7 141.9h0M470.0 141.7h0M470.3 141.5h0M470.6 141.3h0M470.9 141.1h0M471.2 140.9h0M471.5 140.8h0M471.7 140.6h0M472.0 140.4h0M472.3 140.2h0M472.6 140.0h0M472.9 139.8h0M473.2 139.6h0M473.5 139.4h0M473.8 139.2h0M474.1 139.0h0M474.4 138.8h0M474.7 138.6h0M475.0 138.5h0M475.3 138.3h0M475.5 138.1h0M475.8 137.9h0M476.1 137.7h0M476.4 137.5h0M476.7 137.3h0M477.0 137.1h0M477.3 137.0h0M477.6 136.8h0M477.9 136.6h0M478.2 136.4h0M478.5 136.2h0M478.8 136.0h0M479.1 135.9h0M479.3 135.7h0M479.6 135.5h0M479.9 135.3h0M480.2 135.1h0M480.5 134.9h0M480.8 134.8h0M481.1 134.6h0M481.4 134.4h0M481.7 134.2h0M482.0 134.0h0M482.3 133.9h0M482.6 133.7h0M482.8 133.5h0M483.1 133.3h0M483.4 133.1h0M483.7 133.0h0M484.0 132.8h0M484.3 132.6h0M484.6 132.4h0M484.9 132.3h0M485.2 132.1h0M485.5 131.9h0M485.8 131.7h0M486.1 131.6h0M486.4 131.4h0M486.6 131.2h0M486.9 131.1h0M487.2 130.9h0M487.5 130.7h0M487.8 130.5h0M488.1 130.4h0M488.4 130.2h0M488.7 130.0h0M489.0 129.9h0M489.3 129.7h0M489.6 129.5h0M489.9 129.4h0M490.2 129.2h0M490.4 129.0h0M490.7 128.9h0M491.0 128.7h0M491.3 128.5h0M491.6 128.4h0M491.9 128.2h0M492.2 128.0h0M492.5 127.9h0M492.8 127.7h0M493.1 127.5h0M493.4 127.4h0M493.7 127.2h0M493.9 127.1h0M494.2 126.9h0M494.5 126.7h0M494.8 126.6h0M495.1 126.4h0M495.4 126.3h0M495.7 126.1h0M496.0 125.9h0M496.3 125.8h0M496.6 125.6h0M496.9 125.5h0M497.2 125.3h0M497.5 125.2h0M497.7 125.0h0M498.0 124.8h0M498.3 124.7h0M498.6 124.5h0M498.9 124.4h0M499.2 124.2h0M499.5 124.1h0M499.8 123.9h0M500.1 123.8h0M500.4 123.6h0M500.7 123.5h0M501.0 123.3h0M501.3 123.2h0M501.5 123.0h0M501.8 122.9h0M502.1 122.7h0M502.4 122.6h0M502.7 122.4h0M503.0 122.3h0M503.3 122.1h0M503.6 122.0h0M503.9 121.8h0M504.2 121.7h0M504.5 121.5h0M504.8 121.4h0M505.0 121.2h0M505.3 121.1h0M505.6 121.0h0M505.9 120.8h0M506.2 120.7h0M506.5 120.5h0M506.8 120.4h0M507.1 120.2h0M507.4 120.1h0M507.7 120.0h0M508.0 119.8h0M508.3 119.7h0M508.6 119.5h0M508.8 119.4h0M509.1 119.2h0M509.4 119.1h0M509.7 119.0h0M510.0 118.8h0M510.3 118.7h0M510.6 118.6h0M510.9 118.4h0M511.2 118.3h0M511.5 118.1h0M511.8 118.0h0M512.1 117.9h0M512.4 117.7h0M512.6 117.6h0M512.9 117.5h0M513.2 117.3h0M513.5 117.2h0M513.8 117.1h0M514.1 116.9h0M514.4 116.8h0M514.7 116.7h0M515.0 116.5h0M515.3 116.4h0M515.6 116.3h0M515.9 116.1h0M516.1 116.0h0M516.4 115.9h0M516.7 115.8h0M517.0 115.6h0M517.3 115.5h0M517.6 115.4h0M517.9 115.2h0M518.2 115.1h0M518.5 115.0h0M518.8 114.9h0M519.1 114.7h0M519.4 114.6h0M519.7 114.5h0M519.9 114.3h0M520.2 114.2h0M520.5 114.1h0M520.8 114.0h0M521.1 113.8h0M521.4 113.7h0M521.7 113.6h0M522.0 113.5h0M522.3 113.4h0M522.6 113.2h0M522.9 113.1h0M523.2 113.0h0M523.5 112.9h0M523.7 112.7h0M524.0 112.6h0M524.3 112.5h0M524.6 112.4h0M524.9 112.3h0M525.2 112.1h0M525.5 112.0h0M525.8 111.9h0M526.1 111.8h0M526.4 111.7h0M526.7 111.6h0M527.0 111.4h0M527.2 111.3h0M527.5 111.2h0M527.8 111.1h0M528.1 111.0h0M528.4 110.9h0M528.7 110.7h0M529.0 110.6h0M529.3 110.5h0M529.6 110.4h0M529.9 110.3h0M530.2 110.2h0M530.5 110.1h0M530.8 110.0h0M531.0 109.8h0M531.3 109.7h0M531.6 109.6h0M531.9 109.5h0M532.2 109.4h0M532.5 109.3h0M532.8 109.2h0M533.1 109.1h0M533.4 109.0h0M533.7 108.8h0M534.0 108.7h0M534.3 108.6h0M534.5 108.5h0M534.8 108.4h0M535.1 108.3h0M535.4 108.2h0M535.7 108.1h0M536.0 108.0h0M536.3 107.9h0M536.6 107.8h0M536.9 107.7h0M537.2 107.6h0M537.5 107.4h0M537.8 107.3h0M538.1 107.2h0M538.3 107.1h0M538.6 107.0h0M538.9 106.9h0M539.2 106.8h0M539.5 106.7h0M539.8 106.6h0M540.1 106.5h0M540.4 106.4h0M540.7 106.3h0M541.0 106.2h0M541.3 106.1h0M541.6 106.0h0M541.9 105.9h0M542.1 105.8h0M542.4 105.7h0M542.7 105.6h0M543.0 105.5h0M543.3 105.4h0M543.6 105.3h0M543.9 105.2h0M544.2 105.1h0M544.5 105.0h0M544.8 104.9h0M545.1 104.8h0M545.4 104.7h0M545.6 104.6h0M545.9 104.5h0M546.2 104.4h0M546.5 104.3h0M546.8 104.2h0M547.1 104.1h0M547.4 104.0h0M547.7 104.0h0M548.0 103.9h0M548.3 103.8h0M548.6 103.7h0M548.9 103.6h0M549.2 103.5h0M549.4 103.4h0M549.7 103.3h0M550.0 103.2h0M550.3 103.1h0M550.6 103.0h0M550.9 102.9h0M551.2 102.8h0M551.5 102.7h0M551.8 102.7h0M552.1 102.6h0M552.4 102.5h0M552.7 102.4h0M553.0 102.3h0M553.2 102.2h0M553.5 102.1h0M553.8 102.0h0M554.1 101.9h0M554.4 101.8h0M554.7 101.8h0M555.0 101.7h0M555.3 101.6h0M555.6 101.5h0M555.9 101.4h0M556.2 101.3h0M556.5 101.2h0M556.7 101.2h0M557.0 101.1h0M557.3 101.0h0M557.6 100.9h0M557.9 100.8h0M558.2 100.7h0M558.5 100.6h0M558.8 100.6h0M559.1 100.5h0M559.4 100.4h0M559.7 100.3h0M560.0 100.2h0M560.3 100.1h0M560.5 100.1h0M560.8 100.0h0M561.1 99.9h0M561.4 99.8h0M561.7 99.7h0M562.0 99.6h0M562.3 99.6h0M562.6 99.5h0M562.9 99.4h0M563.2 99.3h0M563.5 99.2h0M563.8 99.2h0M564.1 99.1h0M564.3 99.0h0M564.6 98.9h0M564.9 98.8h0M565.2 98.8h0M565.5 98.7h0M565.8 98.6h0M566.1 98.5h0M566.4 98.4h0M566.7 98.4h0M567.0 98.3h0M567.3 98.2h0M567.6 98.1h0M567.8 98.0h0M568.1 98.0h0M568.4 97.9h0M568.7 97.8h0M569.0 97.7h0M569.3 97.7h0M569.6 97.6h0M569.9 97.5h0M570.2 97.4h0M570.5 97.4h0M570.8 97.3h0M571.1 97.2h0M571.4 97.1h0M571.6 97.1h0M571.9 97.0h0M572.2 96.9h0M572.5 96.8h0M572.8 96.8h0M573.1 96.7h0M573.4 96.6h0M573.7 96.6h0M574.0 96.5h0M574.3 96.4h0M574.6 96.3h0M574.9 96.3h0M575.2 96.2h0M575.4 96.1h0M575.7 96.1h0M576.0 96.0h0M576.3 95.9h0M576.6 95.8h0M576.9 95.8h0M577.2 95.7h0M577.5 95.6h0M577.8 95.6h0M578.1 95.5h0M578.4 95.4h0M578.7 95.4h0M578.9 95.3h0M579.2 95.2h0M579.5 95.1h0M579.8 95.1h0M580.1 95.0h0M580.4 94.9h0M580.7 94.9h0M581.0 94.8h0M581.3 94.7h0M581.6 94.7h0M581.9 94.6h0M582.2 94.5h0M582.5 94.5h0M582.7 94.4h0M583.0 94.3h0M583.3 94.3h0M583.6 94.2h0M583.9 94.1h0M584.2 94.1h0M584.5 94.0h0M584.8 93.9h0M585.1 93.9h0M585.4 93.8h0M585.7 93.8h0M586.0 93.7h0M586.3 93.6h0M586.5 93.6h0M586.8 93.5h0M587.1 93.4h0M587.4 93.4h0M587.7 93.3h0M588.0 93.2h0M588.3 93.2h0M588.6 93.1h0M588.9 93.1h0M589.2 93.0h0M589.5 92.9h0M589.8 92.9h0M590.0 92.8h0M590.3 92.8h0M590.6 92.7h0M590.9 92.6h0M591.2 92.6h0M591.5 92.5h0M591.8 92.4h0M592.1 92.4h0M592.4 92.3h0M592.7 92.3h0M593.0 92.2h0M593.3 92.1h0M593.6 92.1h0M593.8 92.0h0M594.1 92.0h0M594.4 91.9h0M594.7 91.9h0M595.0 91.8h0M595.3 91.7h0M595.6 91.7h0M595.9 91.6h0M596.2 91.6h0M596.5 91.5h0M596.8 91.4h0M597.1 91.4h0M597.4 91.3h0M597.6 91.3h0M597.9 91.2h0M598.2 91.2h0M598.5 91.1h0M598.8 91.1h0M599.1 91.0h0M599.4 90.9h0M599.7 90.9h0M600.0 90.8h0M600.3 90.8h0M600.6 90.7h0M600.9 90.7h0M601.1 90.6h0M601.4 90.6h0M601.7 90.5h0M602.0 90.4h0M602.3 90.4h0M602.6 90.3h0M602.9 90.3h0M603.2 90.2h0M603.5 90.2h0M603.8 90.1h0M604.1 90.1h0M604.4 90.0h0M604.7 90.0h0M604.9 89.9h0M605.2 89.9h0M605.5 89.8h0M605.8 89.8h0M606.1 89.7h0M606.4 89.7h0M606.7 89.6h0M607.0 89.5h0M607.3 89.5h0M607.6 89.4h0M607.9 89.4h0M608.2 89.3h0M608.5 89.3h0M608.7 89.2h0M609.0 89.2h0M609.3 89.1h0M609.6 89.1h0M609.9 89.0h0M610.2 89.0h0M610.5 88.9h0M610.8 88.9h0M611.1 88.8h0M611.4 88.8h0M611.7 88.7h0M612.0 88.7h0M612.2 88.6h0M612.5 88.6h0M612.8 88.5h0M613.1 88.5h0M613.4 88.5h0M613.7 88.4h0M614.0 88.4h0M614.3 88.3h0M614.6 88.3h0M614.9 88.2h0M615.2 88.2h0M615.5 88.1h0M615.8 88.1h0M616.0 88.0h0M616.3 88.0h0M616.6 87.9h0M616.9 87.9h0M617.2 87.8h0M617.5 87.8h0M617.8 87.7h0M618.1 87.7h0M618.4 87.7h0M618.7 87.6h0M619.0 87.6h0M619.3 87.5h0M619.6 87.5h0M619.8 87.4h0M620.1 87.4h0M620.4 87.3h0M620.7 87.3h0M621.0 87.2h0M621.3 87.2h0M621.6 87.2h0M621.9 87.1h0M622.2 87.1h0M622.5 87.0h0M622.8 87.0h0M623.1 86.9h0M623.3 86.9h0M623.6 86.8h0M623.9 86.8h0M624.2 86.8h0M624.5 86.7h0M624.8 86.7h0M625.1 86.6h0M625.4 86.6h0M625.7 86.5h0M626.0 86.5h0M626.3 86.5h0M626.6 86.4h0M626.9 86.4h0M627.1 86.3h0M627.4 86.3h0M627.7 86.3h0M628.0 86.2h0M628.3 86.2h0M628.6 86.1h0M628.9 86.1h0M629.2 86.0h0M629.5 86.0h0M629.8 86.0h0M630.1 85.9h0M630.4 85.9h0M630.7 85.8h0M630.9 85.8h0M631.2 85.8h0M631.5 85.7h0M631.8 85.7h0M632.1 85.6h0M632.4 85.6h0M632.7 85.6h0M633.0 85.5h0M633.3 85.5h0M633.6 85.4h0M633.9 85.4h0M634.2 85.4h0M634.4 85.3h0M634.7 85.3h0M635.0 85.2h0M635.3 85.2h0M635.6 85.2h0M635.9 85.1h0M636.2 85.1h0M636.5 85.1h0M636.8 85.0h0M637.1 85.0h0M637.4 84.9h0M637.7 84.9h0M638.0 84.9h0M638.2 84.8h0M638.5 84.8h0M638.8 84.8h0M639.1 84.7h0M639.4 84.7h0M639.7 84.6h0M640.0 84.6h0M640.3 84.6h0M640.6 84.5h0M640.9 84.5h0M641.2 84.5h0M641.5 84.4h0M641.8 84.4h0M642.0 84.4h0M642.3 84.3h0M642.6 84.3h0M642.9 84.2h0M643.2 84.2h0M643.5 84.2h0M643.8 84.1h0M644.1 84.1h0M644.4 84.1h0M644.7 84.0h0M645.0 84.0h0M645.3 84.0h0M645.5 83.9h0M645.8 83.9h0M646.1 83.9h0M646.4 83.8h0M646.7 83.8h0M647.0 83.8h0M647.3 83.7h0M647.6 83.7h0M647.9 83.7h0M648.2 83.6h0M648.5 83.6h0M648.8 83.6h0M649.1 83.5h0M649.3 83.5h0M649.6 83.5h0M649.9 83.4h0M650.2 83.4h0M650.5 83.4h0M650.8 83.3h0M651.1 83.3h0M651.4 83.3h0M651.7 83.2h0M652.0 83.2h0M652.3 83.2h0M652.6 83.1h0M652.9 83.1h0M653.1 83.1h0M653.4 83.0h0M653.7 83.0h0M654.0 83.0h0M654.3 82.9h0M654.6 82.9h0M654.9 82.9h0M655.2 82.8h0M655.5 82.8h0M655.8 82.8h0M656.1 82.7h0M656.4 82.7h0M656.6 82.7h0M656.9 82.7h0M657.2 82.6h0M657.5 82.6h0M657.8 82.6h0M658.1 82.5h0M658.4 82.5h0M658.7 82.5h0M659.0 82.4h0M659.3 82.4h0M659.6 82.4h0M659.9 82.3h0M660.2 82.3h0M660.4 82.3h0M660.7 82.3h0M661.0 82.2h0M661.3 82.2h0M661.6 82.2h0M661.9 82.1h0M662.2 82.1h0M662.5 82.1h0M662.8 82.1h0M663.1 82.0h0M663.4 82.0h0M663.7 82.0h0M664.0 81.9h0M664.2 81.9h0M664.5 81.9h0M664.8 81.9h0M665.1 81.8h0M665.4 81.8h0M665.7 81.8h0M666.0 81.7h0M666.3 81.7h0M666.6 81.7h0M666.9 81.7h0M667.2 81.6h0M667.5 81.6h0M667.7 81.6h0M668.0 81.5h0M668.3 81.5h0M668.6 81.5h0M668.9 81.5h0M669.2 81.4h0M669.5 81.4h0M669.8 81.4h0M670.1 81.4h0M670.4 81.3h0M670.7 81.3h0M671.0 81.3h0M671.3 81.2h0M671.5 81.2h0M671.8 81.2h0M672.1 81.2h0M672.4 81.1h0M672.7 81.1h0M673.0 81.1h0M673.3 81.1h0M673.6 81.0h0M673.9 81.0h0M674.2 81.0h0M674.5 81.0h0M674.8 80.9h0M675.1 80.9h0M675.3 80.9h0M675.6 80.9h0M675.9 80.8h0M676.2 80.8h0M676.5 80.8h0M676.8 80.8h0M677.1 80.7h0M677.4 80.7h0M677.7 80.7h0M678.0 80.7h0M678.3 80.6h0M678.6 80.6h0M678.8 80.6h0M679.1 80.6h0M679.4 80.5h0M679.7 80.5h0M680.0 80.5h0M680.3 80.5h0M680.6 80.4h0" stroke="#0000ff" stroke-width="2.2" stroke-linecap="round" fill="none"/>
<path d="M388.5 28.7h0M388.8 45.4h0M389.1 47.5h0M389.4 50.3h0M389.7 53.4h0M390.0 56.8h0M390.3 60.4h0M390.5 64.2h0M390.8 68.0h0M391.1 71.9h0M391.4 75.7h0M391.7 79.5h0M392.0 83.3h0M392.3 87.0h0M392.6 90.7h0M392.9 94.3h0M393.2 97.8h0M393.5 101.2h0M393.8 104.5h0M394.0 107.8h0M394.3 110.9h0M394.6 114.0h0M394.9 117.0h0M395.2 119.9h0M395.5 122.7h0M395.8 125.4h0M396.1 128.0h0M396.4 130.6h0M396.7 133.1h0M397.0 135.5h0M397.3 137.9h0M397.6 140.1h0M397.8 142.3h0M398.1 144.5h0M398.4 146.5h0M398.7 148.5h0M399.0 150.5h0M399.3 152.3h0M399.6 154.1h0M399.9 155.9h0M400.2 157.6h0M400.5 159.2h0M400.8 160.8h0M401.1 162.3h0M401.4 163.8h0M401.6 165.3h0M401.9 166.7h0M402.2 168.0h0M402.5 169.3h0M402.8 170.5h0M403.1 171.7h0M403.4 172.9h0M403.7 174.0h0M404.0 175.1h0M404.3 176.1h0M404.6 177.1h0M404.9 178.1h0M405.1 179.0h0M405.4 179.9h0M405.7 180.8h0M406.0 181.6h0M406.3 182.4h0M406.6 183.2h0M406.9 183.9h0M407.2 184.6h0M407.5 185.3h0M407.8 186.0h0M408.1 186.6h0M408.4 187.2h0M408.7 187.8h0M408.9 188.3h0M409.2 188.8h0M409.5 189.3h0M409.8 189.8h0M410.1 190.3h0M410.4 190.7h0M410.7 191.1h0M411.0 191.5h0M411.3 191.9h0M411.6 192.2h0M411.9 192.5h0M412.2 192.9h0M412.5 193.1h0M412.7 193.4h0M413.0 193.7h0M413.3 193.9h0M413.6 194.2h0M413.9 194.4h0M414.2 194.6h0M414.5 194.8h0M414.8 194.9h0M415.1 195.1h0M415.4 195.2h0M415.7 195.4h0M416.0 195.5h0M416.2 195.6h0M416.5 195.7h0M416.8 195.7h0M417.1 195.8h0M417.4 195.9h0M417.7 195.9h0M418.0 196.0h0M418.3 196.0h0M418.6 196.0h0M418.9 196.0h0M419.2 196.0h0M419.5 196.0h0M419.8 196.0h0M420.0 195.9h0M420.3 195.9h0M420.6 195.9h0M420.9 195.8h0M421.2 195.8h0M421.5 195.7h0M421.8 195.6h0M422.1 195.5h0M422.4 195.5h0M422.7 195.4h0M423.0 195.3h0M423.3 195.2h0M423.6 195.0h0M423.8 194.9h0M424.1 194.8h0M424.4 194.7h0M424.7 194.5h0M425.0 194.4h0M425.3 194.3h0M425.6 194.1h0M425.9 194.0h0M426.2 193.8h0M426.5 193.6h0M426.8 193.5h0M427.1 193.3h0M427.3 193.1h0M427.6 193.0h0M427.9 192.8h0M428.2 192.6h0M428.5 192.4h0M428.8 192.2h0M429.1 192.0h0M429.4 191.8h0M429.7 191.6h0M430.0 191.4h0M430.3 191.2h0M430.6 191.0h0M430.9 190.8h0M431.1 190.6h0M431.4 190.4h0M431.7 190.1h0M432.0 189.9h0M432.3 189.7h0M432.6 189.5h0M432.9 189.2h0M433.2 189.0h0M433.5 188.8h0M433.8 188.5h0M434.1 188.3h0M434.4 188.1h0M434.7 187.8h0M434.9 187.6h0M435.2 187.4h0M435.5 187.1h0M435.8 186.9h0M436.1 186.6h0M436.4 186.4h0M436.7 186.1h0M437.0 185.9h0M437.3 185.6h0M437.6 185.4h0M437.9 185.1h0M438.2 184.9h0M438.4 184.6h0M438.7 184.4h0M439.0 184.1h0M439.3 183.9h0M439.6 183.6h0M439.9 183.3h0M440.2 183.1h0M440.5 182.8h0M440.8 182.6h0M441.1 182.3h0M441.4 182.0h0M441.7 181.8h0M442.0 181.5h0M442.2 181.3h0M442.5 181.0h0M442.8 180.7h0M443.1 180.5h0M443.4 180.2h0M443.7 179.9h0M444.0 179.7h0M444.3 179.4h0M444.6 179.1h0M444.9 178.9h0M445.2 178.6h0M445.5 178.4h0M445.8 178.1h0M446.0 177.8h0M446.3 177.6h0M446.6 177.3h0M446.9 177.0h0M447.2 176.8h0M447.5 176.5h0M447.8 176.2h0M448.1 176.0h0M448.4 175.7h0M448.7 175.4h0M449.0 175.2h0M449.3 174.9h0M449.5 174.6h0M449.8 174.4h0M450.1 174.1h0M450.4 173.8h0M450.7 173.6h0M451.0 173.3h0M451.3 173.0h0M451.6 172.8h0M451.9 172.5h0M452.2 172.3h0M452.5 172.0h0M452.8 171.7h0M453.1 171.5h0M453.3 171.2h0M453.6 170.9h0M453.9 170.7h0M454.2 170.4h0M454.5 170.2h0M454.8 169.9h0M455.1 169.6h0M455.4 169.4h0M455.7 169.1h0M456.0 168.9h0M456.3 168.6h0M456.6 168.3h0M456.9 168.1h0M457.1 167.8h0M457.4 167.6h0M457.7 167.3h0M458.0 167.0h0M458.3 166.8h0M458.6 166.5h0M458.9 166.3h0M459.2 166.0h0M459.5 165.8h0M459.8 165.5h0M460.1 165.3h0M460.4 165.0h0M460.6 164.8h0M460.9 164.5h0M461.2 164.3h0M461.5 164.0h0M461.8 163.7h0M462.1 163.5h0M462.4 163.2h0M462.7 163.0h0M463.0 162.7h0M463.3 162.5h0M463.6 162.2h0M463.9 162.0h0M464.2 161.8h0M464.4 161.5h0M464.7 161.3h0M465.0 161.0h0M465.3 160.8h0M465.6 160.5h0M465.9 160.3h0M466.2 160.0h0M466.5 159.8h0M466.8 159.5h0M467.1 159.3h0M467.4 159.1h0M467.7 158.8h0M468.0 158.6h0M468.2 158.3h0M468.5 158.1h0M468.8 157.9h0M469.1 157.6h0M469.4 157.4h0M469.7 157.1h0M470.0 156.9h0M470.3 156.7h0M470.6 156.4h0M470.9 156.2h0M471.2 156.0h0M471.5 155.7h0M471.7 155.5h0M472.0 155.3h0M472.3 155.0h0M472.6 154.8h0M472.9 154.6h0M473.2 154.3h0M473.5 154.1h0M473.8 153.9h0M474.1 153.6h0M474.4 153.4h0M474.7 153.2h0M475.0 153.0h0M475.3 152.7h0M475.5 152.5h0M475.8 152.3h0M476.1 152.0h0M476.4 151.8h0M476.7 151.6h0M477.0 151.4h0M477.3 151.1h0M477.6 150.9h0M477.9 150.7h0M478.2 150.5h0M478.5 150.3h0M478.8 150.0h0M479.1 149.8h0M479.3 149.6h0M479.6 149.4h0M479.9 149.2h0M480.2 148.9h0M480.5 148.7h0M480.8 148.5h0M481.1 148.3h0M481.4 148.1h0M481.7 147.9h0M482.0 147.6h0M482.3 147.4h0M482.6 147.2h0M482.8 147.0h0M483.1 146.8h0M483.4 146.6h0M483.7 146.4h0M484.0 146.1h0M484.3 145.9h0M484.6 145.7h0M484.9 145.5h0M485.2 145.3h0M485.5 145.1h0M485.8 144.9h0M486.1 144.7h0M486.4 144.5h0M486.6 144.3h0M486.9 144.0h0M487.2 143.8h0M487.5 143.6h0M487.8 143.4h0M488.1 143.2h0M488.4 143.0h0M488.7 142.8h0M489.0 142.6h0M489.3 142.4h0M489.6 142.2h0M489.9 142.0h0M490.2 141.8h0M490.4 141.6h0M490.7 141.4h0M491.0 141.2h0M491.3 141.0h0M491.6 140.8h0M491.9 140.6h0M492.2 140.4h0M492.5 140.2h0M492.8 140.0h0M493.1 139.8h0M493.4 139.6h0M493.7 139.4h0M493.9 139.2h0M494.2 139.0h0M494.5 138.8h0M494.8 138.7h0M495.1 138.5h0M495.4 138.3h0M495.7 138.1h0M496.0 137.9h0M496.3 137.7h0M496.6 137.5h0M496.9 137.3h0M497.2 137.1h0M497.5 136.9h0M497.7 136.7h0M498.0 136.6h0M498.3 136.4h0M498.6 136.2h0M498.9 136.0h0M499.2 135.8h0M499.5 135.6h0M499.8 135.4h0M500.1 135.3h0M500.4 135.1h0M500.7 134.9h0M501.0 134.7h0M501.3 134.5h0M501.5 134.3h0M501.8 134.2h0M502.1 134.0h0M502.4 133.8h0M502.7 133.6h0M503.0 133.4h0M503.3 133.3h0M503.6 133.1h0M503.9 132.9h0M504.2 132.7h0M504.5 132.5h0M504.8 132.4h0M505.0 132.2h0M505.3 132.0h0M505.6 131.8h0M505.9 131.7h0M506.2 131.5h0M506.5 131.3h0M506.8 131.1h0M507.1 131.0h0M507.4 130.8h0M507.7 130.6h0M508.0 130.4h0M508.3 130.3h0M508.6 130.1h0M508.8 129.9h0M509.1 129.8h0M509.4 129.6h0M509.7 129.4h0M510.0 129.3h0M510.3 129.1h0M510.6 128.9h0M510.9 128.7h0M511.2 128.6h0M511.5 128.4h0M511.8 128.2h0M512.1 128.1h0M512.4 127.9h0M512.6 127.7h0M512.9 127.6h0M513.2 127.4h0M513.5 127.3h0M513.8 127.1h0M514.1 126.9h0M514.4 126.8h0M514.7 126.6h0M515.0 126.4h0M515.3 126.3h0M515.6 126.1h0M515.9 126.0h0M516.1 125.8h0M516.4 125.6h0M516.7 125.5h0M517.0 125.3h0M517.3 125.2h0M517.6 125.0h0M517.9 124.8h0M518.2 124.7h0M518.5 124.5h0M518.8 124.4h0M519.1 124.2h0M519.4 124.1h0M519.7 123.9h0M519.9 123.7h0M520.2 123.6h0M520.5 123.4h0M520.8 123.3h0M521.1 123.1h0M521.4 123.0h0M521.7 122.8h0M522.0 122.7h0M522.3 122.5h0M522.6 122.4h0M522.9 122.2h0M523.2 122.1h0M523.5 121.9h0M523.7 121.8h0M524.0 121.6h0M524.3 121.5h0M524.6 121.3h0M524.9 121.2h0M525.2 121.0h0M525.5 120.9h0M525.8 120.7h0M526.1 120.6h0M526.4 120.4h0M526.7 120.3h0M527.0 120.1h0M527.2 120.0h0M527.5 119.8h0M527.8 119.7h0M528.1 119.6h0M528.4 119.4h0M528.7 119.3h0M529.0 119.1h0M529.3 119.0h0M529.6 118.8h0M529.9 118.7h0M530.2 118.6h0M530.5 118.4h0M530.8 118.3h0M531.0 118.1h0M531.3 118.0h0M531.6 117.8h0M531.9 117.7h0M532.2 117.6h0M532.5 117.4h0M532.8 117.3h0M533.1 117.2h0M533.4 117.0h0M533.7 116.9h0M534.0 116.7h0M534.3 116.6h0M534.5 116.5h0M534.8 116.3h0M535.1 116.2h0M535.4 116.1h0M535.7 115.9h0M536.0 115.8h0M536.3 115.7h0M536.6 115.5h0M536.9 115.4h0M537.2 115.3h0M537.5 115.1h0M537.8 115.0h0M538.1 114.9h0M538.3 114.7h0M538.6 114.6h0M538.9 114.5h0M539.2 114.3h0M539.5 114.2h0M539.8 114.1h0M540.1 113.9h0M540.4 113.8h0M540.7 113.7h0M541.0 113.5h0M541.3 113.4h0M541.6 113.3h0M541.9 113.2h0M542.1 113.0h0M542.4 112.9h0M542.7 112.8h0M543.0 112.7h0M543.3 112.5h0M543.6 112.4h0M543.9 112.3h0M544.2 112.1h0M544.5 112.0h0M544.8 111.9h0M545.1 111.8h0M545.4 111.6h0M545.6 111.5h0M545.9 111.4h0M546.2 111.3h0M546.5 111.2h0M546.8 111.0h0M547.1 110.9h0M547.4 110.8h0M547.7 110.7h0M548.0 110.5h0M548.3 110.4h0M548.6 110.3h0M548.9 110.2h0M549.2 110.1h0M549.4 109.9h0M549.7 109.8h0M550.0 109.7h0M550.3 109.6h0M550.6 109.5h0M550.9 109.3h0M551.2 109.2h0M551.5 109.1h0M551.8 109.0h0M552.1 108.9h0M552.4 108.8h0M552.7 108.6h0M553.0 108.5h0M553.2 108.4h0M553.5 108.3h0M553.8 108.2h0M554.1 108.1h0M554.4 108.0h0M554.7 107.8h0M555.0 107.7h0M555.3 107.6h0M555.6 107.5h0M555.9 107.4h0M556.2 107.3h0M556.5 107.2h0M556.7 107.0h0M557.0 106.9h0M557.3 106.8h0M557.6 106.7h0M557.9 106.6h0M558.2 106.5h0M558.5 106.4h0M558.8 106.3h0M559.1 106.2h0M559.4 106.0h0M559.7 105.9h0M560.0 105.8h0M560.3 105.7h0M560.5 105.6h0M560.8 105.5h0M561.1 105.4h0M561.4 105.3h0M561.7 105.2h0M562.0 105.1h0M562.3 105.0h0M562.6 104.9h0M562.9 104.7h0M563.2 104.6h0M563.5 104.5h0M563.8 104.4h0M564.1 104.3h0M564.3 104.2h0M564.6 104.1h0M564.9 104.0h0M565.2 103.9h0M565.5 103.8h0M565.8 103.7h0M566.1 103.6h0M566.4 103.5h0M566.7 103.4h0M567.0 103.3h0M567.3 103.2h0M567.6 103.1h0M567.8 103.0h0M568.1 102.9h0M568.4 102.8h0M568.7 102.7h0M569.0 102.6h0M569.3 102.5h0M569.6 102.4h0M569.9 102.3h0M570.2 102.2h0M570.5 102.1h0M570.8 102.0h0M571.1 101.9h0M571.4 101.8h0M571.6 101.7h0M571.9 101.6h0M572.2 101.5h0M572.5 101.4h0M572.8 101.3h0M573.1 101.2h0M573.4 101.1h0M573.7 101.0h0M574.0 100.9h0M574.3 100.8h0M574.6 100.7h0M574.9 100.6h0M575.2 100.5h0M575.4 100.4h0M575.7 100.3h0M576.0 100.2h0M576.3 100.1h0M576.6 100.0h0M576.9 99.9h0M577.2 99.9h0M577.5 99.8h0M577.8 99.7h0M578.1 99.6h0M578.4 99.5h0M578.7 99.4h0M578.9 99.3h0M579.2 99.2h0M579.5 99.1h0M579.8 99.0h0M580.1 98.9h0M580.4 98.8h0M580.7 98.7h0M581.0 98.7h0M581.3 98.6h0M581.6 98.5h0M581.9 98.4h0M582.2 98.3h0M582.5 98.2h0M582.7 98.1h0M583.0 98.0h0M583.3 97.9h0M583.6 97.8h0M583.9 97.8h0M584.2 97.7h0M584.5 97.6h0M584.8 97.5h0M585.1 97.4h0M585.4 97.3h0M585.7 97.2h0M586.0 97.1h0M586.3 97.1h0M586.5 97.0h0M586.8 96.9h0M587.1 96.8h0M587.4 96.7h0M587.7 96.6h0M588.0 96.5h0M588.3 96.5h0M588.6 96.4h0M588.9 96.3h0M589.2 96.2h0M589.5 96.1h0M589.8 96.0h0M590.0 95.9h0M590.3 95.9h0M590.6 95.8h0M590.9 95.7h0M591.2 95.6h0M591.5 95.5h0M591.8 95.4h0M592.1 95.4h0M592.4 95.3h0M592.7 95.2h0M593.0 95.1h0M593.3 95.0h0M593.6 95.0h0M593.8 94.9h0M594.1 94.8h0M594.4 94.7h0M594.7 94.6h0M595.0 94.6h0M595.3 94.5h0M595.6 94.4h0M595.9 94.3h0M596.2 94.2h0M596.5 94.2h0M596.8 94.1h0M597.1 94.0h0M597.4 93.9h0M597.6 93.8h0M597.9 93.8h0M598.2 93.7h0M598.5 93.6h0M598.8 93.5h0M599.1 93.5h0M599.4 93.4h0M599.7 93.3h0M600.0 93.2h0M600.3 93.1h0M600.6 93.1h0M600.9 93.0h0M601.1 92.9h0M601.4 92.8h0M601.7 92.8h0M602.0 92.7h0M602.3 92.6h0M602.6 92.5h0M602.9 92.5h0M603.2 92.4h0M603.5 92.3h0M603.8 92.2h0M604.1 92.2h0M604.4 92.1h0M604.7 92.0h0M604.9 91.9h0M605.2 91.9h0M605.5 91.8h0M605.8 91.7h0M606.1 91.6h0M606.4 91.6h0M606.7 91.5h0M607.0 91.4h0M607.3 91.4h0M607.6 91.3h0M607.9 91.2h0M608.2 91.1h0M608.5 91.1h0M608.7 91.0h0M609.0 90.9h0M609.3 90.9h0M609.6 90.8h0M609.9 90.7h0M610.2 90.6h0M610.5 90.6h0M610.8 90.5h0M611.1 90.4h0M611.4 90.4h0M611.7 90.3h0M612.0 90.2h0M612.2 90.2h0M612.5 90.1h0M612.8 90.0h0M613.1 90.0h0M613.4 89.9h0M613.7 89.8h0M614.0 89.8h0M614.3 89.7h0M614.6 89.6h0M614.9 89.5h0M615.2 89.5h0M615.5 89.4h0M615.8 89.3h0M616.0 89.3h0M616.3 89.2h0M616.6 89.1h0M616.9 89.1h0M617.2 89.0h0M617.5 88.9h0M617.8 88.9h0M618.1 88.8h0M618.4 88.8h0M618.7 88.7h0M619.0 88.6h0M619.3 88.6h0M619.6 88.5h0M619.8 88.4h0M620.1 88.4h0M620.4 88.3h0M620.7 88.2h0M621.0 88.2h0M621.3 88.1h0M621.6 88.0h0M621.9 88.0h0M622.2 87.9h0M622.5 87.9h0M622.8 87.8h0M623.1 87.7h0M623.3 87.7h0M623.6 87.6h0M623.9 87.5h0M624.2 87.5h0M624.5 87.4h0M624.8 87.4h0M625.1 87.3h0M625.4 87.2h0M625.7 87.2h0M626.0 87.1h0M626.3 87.0h0M626.6 87.0h0M626.9 86.9h0M627.1 86.9h0M627.4 86.8h0M627.7 86.7h0M628.0 86.7h0M628.3 86.6h0M628.6 86.6h0M628.9 86.5h0M629.2 86.4h0M629.5 86.4h0M629.8 86.3h0M630.1 86.3h0M630.4 86.2h0M630.7 86.2h0M630.9 86.1h0M631.2 86.0h0M631.5 86.0h0M631.8 85.9h0M632.1 85.9h0M632.4 85.8h0M632.7 85.7h0M633.0 85.7h0M633.3 85.6h0M633.6 85.6h0M633.9 85.5h0M634.2 85.5h0M634.4 85.4h0M634.7 85.3h0M635.0 85.3h0M635.3 85.2h0M635.6 85.2h0M635.9 85.1h0M636.2 85.1h0M636.5 85.0h0M636.8 85.0h0M637.1 84.9h0M637.4 84.8h0M637.7 84.8h0M638.0 84.7h0M638.2 84.7h0M638.5 84.6h0M638.8 84.6h0M639.1 84.5h0M639.4 84.5h0M639.7 84.4h0M640.0 84.3h0M640.3 84.3h0M640.6 84.2h0M640.9 84.2h0M641.2 84.1h0M641.5 84.1h0M641.8 84.0h0M642.0 84.0h0M642.3 83.9h0M642.6 83.9h0M642.9 83.8h0M643.2 83.8h0M643.5 83.7h0M643.8 83.7h0M644.1 83.6h0M644.4 83.6h0M644.7 83.5h0M645.0 83.4h0M645.3 83.4h0M645.5 83.3h0M645.8 83.3h0M646.1 83.2h0M646.4 83.2h0M646.7 83.1h0M647.0 83.1h0M647.3 83.0h0M647.6 83.0h0M647.9 82.9h0M648.2 82.9h0M648.5 82.8h0M648.8 82.8h0M649.1 82.7h0M649.3 82.7h0M649.6 82.6h0M649.9 82.6h0M650.2 82.5h0M650.5 82.5h0M650.8 82.4h0M651.1 82.4h0M651.4 82.3h0M651.7 82.3h0M652.0 82.2h0M652.3 82.2h0M652.6 82.1h0M652.9 82.1h0M653.1 82.1h0M653.4 82.0h0M653.7 82.0h0M654.0 81.9h0M654.3 81.9h0M654.6 81.8h0M654.9 81.8h0M655.2 81.7h0M655.5 81.7h0M655.8 81.6h0M656.1 81.6h0M656.4 81.5h0M656.6 81.5h0M656.9 81.4h0M657.2 81.4h0M657.5 81.3h0M657.8 81.3h0M658.1 81.3h0M658.4 81.2h0M658.7 81.2h0M659.0 81.1h0M659.3 81.1h0M659.6 81.0h0M659.9 81.0h0M660.2 80.9h0M660.4 80.9h0M660.7 80.8h0M661.0 80.8h0M661.3 80.8h0M661.6 80.7h0M661.9 80.7h0M662.2 80.6h0M662.5 80.6h0M662.8 80.5h0M663.1 80.5h0M663.4 80.4h0M663.7 80.4h0M664.0 80.4h0M664.2 80.3h0M664.5 80.3h0M664.8 80.2h0M665.1 80.2h0M665.4 80.1h0M665.7 80.1h0M666.0 80.0h0M666.3 80.0h0M666.6 80.0h0M666.9 79.9h0M667.2 79.9h0M667.5 79.8h0M667.7 79.8h0M668.0 79.8h0M668.3 79.7h0M668.6 79.7h0M668.9 79.6h0M669.2 79.6h0M669.5 79.5h0M669.8 79.5h0M670.1 79.5h0M670.4 79.4h0M670.7 79.4h0M671.0 79.3h0M671.3 79.3h0M671.5 79.3h0M671.8 79.2h0M672.1 79.2h0M672.4 79.1h0M672.7 79.1h0M673.0 79.0h0M673.3 79.0h0M673.6 79.0h0M673.9 78.9h0M674.2 78.9h0M674.5 78.8h0M674.8 78.8h0M675.1 78.8h0M675.3 78.7h0M675.6 78.7h0M675.9 78.6h0M676.2 78.6h0M676.5 78.6h0M676.8 78.5h0M677.1 78.5h0M677.4 78.5h0M677.7 78.4h0M678.0 78.4h0M678.3 78.3h0M678.6 78.3h0M678.8 78.3h0M679.1 78.2h0M679.4 78.2h0M679.7 78.1h0M680.0 78.1h0M680.3 78.1h0M680.6 78.0h0" stroke="#00ff00" stroke-width="2.2" stroke-linecap="round" fill="none"/>
</g>
<rect x="40.0" y="12.6" width="59.60" height="40.70" fill="#fff" stroke="#9a9a9a" stroke-width="1.1"/>
<circle cx="56.2" cy="18.1" r="1.0" fill="#ff0000"/>
<text transform="translate(96.30,21.40) scale(1.02,1)" font-size="8.0" font-weight="normal" text-anchor="end" font-family='"Liberation Sans", sans-serif' class="leg"><tspan font-style="italic" font-family="Liberation Serif" font-size="8.4">η</tspan>=0.99</text>
<circle cx="56.2" cy="27.5" r="1.0" fill="#000000"/>
<text transform="translate(96.30,30.80) scale(1.02,1)" font-size="8.0" font-weight="normal" text-anchor="end" font-family='"Liberation Sans", sans-serif' class="leg"><tspan font-style="italic" font-family="Liberation Serif" font-size="8.4">η</tspan>=0.98</text>
<circle cx="56.2" cy="37.2" r="1.0" fill="#0000ff"/>
<text transform="translate(96.30,40.50) scale(1.02,1)" font-size="8.0" font-weight="normal" text-anchor="end" font-family='"Liberation Sans", sans-serif' class="leg"><tspan font-style="italic" font-family="Liberation Serif" font-size="8.4">η</tspan>=0.97</text>
<circle cx="56.2" cy="47.0" r="1.0" fill="#00ff00"/>
<text transform="translate(96.30,50.30) scale(1.02,1)" font-size="8.0" font-weight="normal" text-anchor="end" font-family='"Liberation Sans", sans-serif' class="leg"><tspan font-style="italic" font-family="Liberation Serif" font-size="8.4">η</tspan>=0.96</text>
<rect x="613.6" y="17.1" width="60.00" height="40.70" fill="#fff" stroke="#9a9a9a" stroke-width="1.1"/>
<circle cx="630.0" cy="22.8" r="1.0" fill="#ff0000"/>
<text transform="translate(670.10,26.10) scale(1.02,1)" font-size="8.0" font-weight="normal" text-anchor="end" font-family='"Liberation Sans", sans-serif' class="leg"><tspan font-style="italic" font-family="Liberation Serif" font-size="8.4">η</tspan>=0.99</text>
<circle cx="630.0" cy="32.9" r="1.0" fill="#000000"/>
<text transform="translate(670.10,36.20) scale(1.02,1)" font-size="8.0" font-weight="normal" text-anchor="end" font-family='"Liberation Sans", sans-serif' class="leg"><tspan font-style="italic" font-family="Liberation Serif" font-size="8.4">η</tspan>=0.98</text>
<circle cx="630.0" cy="42.6" r="1.0" fill="#0000ff"/>
<text transform="translate(670.10,45.90) scale(1.02,1)" font-size="8.0" font-weight="normal" text-anchor="end" font-family='"Liberation Sans", sans-serif' class="leg"><tspan font-style="italic" font-family="Liberation Serif" font-size="8.4">η</tspan>=0.97</text>
<circle cx="630.0" cy="52.3" r="1.0" fill="#00ff00"/>
<text transform="translate(670.10,55.60) scale(1.02,1)" font-size="8.0" font-weight="normal" text-anchor="end" font-family='"Liberation Sans", sans-serif' class="leg"><tspan font-style="italic" font-family="Liberation Serif" font-size="8.4">η</tspan>=0.96</text>
<text transform="translate(175.00,6.80) scale(1.065,1)" font-size="9.3" font-weight="bold" text-anchor="middle" font-family='"Liberation Sans", sans-serif' >Proposed Method</text>
<text transform="translate(534.35,6.80) scale(1.065,1)" font-size="9.3" font-weight="bold" text-anchor="middle" font-family='"Liberation Sans", sans-serif' >Proposed Method</text>
<text transform="translate(175.40,238.20) scale(1.12,1)" font-size="9.0" font-weight="normal" text-anchor="middle" font-family='"Liberation Sans", sans-serif' >Time</text>
<text transform="translate(534.55,238.20) scale(1.12,1)" font-size="9.0" font-weight="normal" text-anchor="middle" font-family='"Liberation Sans", sans-serif' >Time</text>
<text transform="translate(8.00,112.90) scale(1.12,1) rotate(-90)" font-size="9.0" font-weight="normal" text-anchor="middle" font-family='"Liberation Sans", sans-serif' >E(t)</text>
<text transform="translate(361.70,112.90) scale(1.12,1) rotate(-90)" font-size="9.0" font-weight="normal" text-anchor="middle" font-family='"Liberation Sans", sans-serif' >E(t)</text>
<text transform="translate(168.40,269.90) scale(1.0,1)" font-size="19" font-weight="normal" text-anchor="middle" font-family='"Liberation Serif", serif' class="cap">(a) ABC</text>
<text transform="translate(527.50,269.00) scale(1.0,1)" font-size="19" font-weight="normal" text-anchor="middle" font-family='"Liberation Serif", serif' class="cap">(b) MABC</text>
</svg>
</body></html>
